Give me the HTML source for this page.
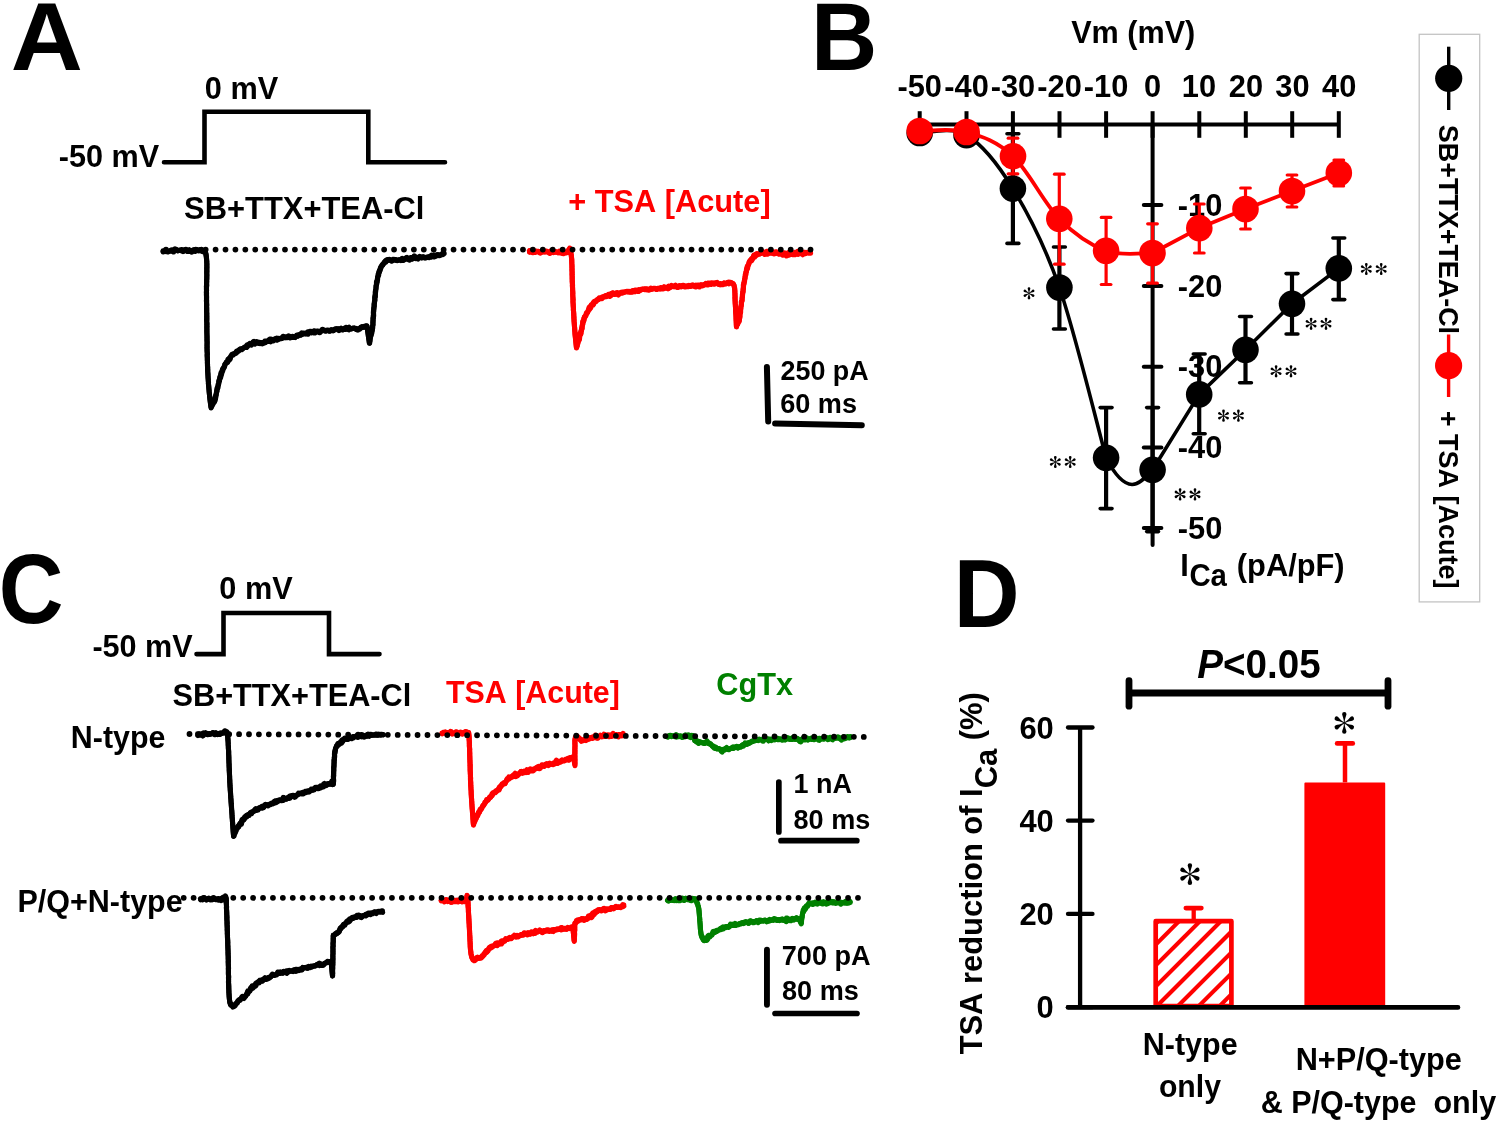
<!DOCTYPE html>
<html><head><meta charset="utf-8"><style>
html,body{margin:0;padding:0;background:#fff;}
svg{display:block;will-change:transform;}
text{font-family:"Liberation Sans",sans-serif;font-weight:bold;font-kerning:none;}
</style></head><body>
<svg width="1500" height="1122" viewBox="0 0 1500 1122">
<rect width="1500" height="1122" fill="#fff"/>
<text transform="translate(10.71,69.50) scale(99.866,97.095)" font-size="1" fill="#000">A</text>
<text transform="translate(204.79,99.30) scale(1,1.04)" font-size="30.70" fill="#000" xml:space="preserve">0 mV</text>
<text transform="translate(58.80,166.80) scale(1,1.04)" font-size="30.60" fill="#000" xml:space="preserve">-50 mV</text>
<path d="M164.00,162.30 L204.50,162.30 L204.50,111.70 L368.30,111.70 L368.30,162.30 L445.00,162.30" fill="none" stroke="#000" stroke-width="4.6" stroke-linecap="round" stroke-linejoin="miter"/>
<text transform="translate(184.11,219.00) scale(1,1.04)" font-size="30.90" fill="#000" xml:space="preserve">SB+TTX+TEA-Cl</text>
<text transform="translate(568.21,212.00) scale(1,1.04)" font-size="30.76" fill="#ff0000" xml:space="preserve">+ TSA [Acute]</text>
<path d="M162.99,250.93 L163.72,251.12 L164.40,250.87 L165.04,250.41 L165.72,250.22 L166.48,250.77 L167.26,251.47 L167.97,251.59 L168.66,251.49 L169.33,251.23 L170.00,251.01 L170.64,250.39 L171.30,249.98 L172.10,250.74 L172.88,251.21 L173.52,250.49 L174.11,249.24 L174.80,248.83 L175.55,249.39 L176.32,250.06 L177.07,250.50 L177.79,250.67 L178.49,250.56 L179.18,250.33 L179.93,250.56 L180.65,250.58 L181.39,250.68 L182.21,251.38 L182.96,251.57 L183.64,251.11 L184.26,250.26 L184.94,249.81 L185.69,250.06 L186.47,250.51 L187.23,250.88 L187.92,250.68 L188.55,250.06 L189.21,249.71 L189.97,250.29 L190.78,250.81 L191.48,250.46 L192.22,250.53 L192.94,250.39 L193.60,249.81 L194.40,250.48 L195.14,250.68 L195.74,249.66 L196.47,249.74 L197.23,250.13 L197.95,250.16 L198.70,250.53 L199.38,250.20 L200.06,249.90 L200.87,250.74 L201.66,251.36 L202.41,251.60 L203.14,251.65 L203.59,251.56 L204.02,251.09 L204.51,251.17 L205.04,252.03 L205.46,252.71 L205.52,252.50 L205.58,252.48 L205.68,252.85 L205.87,254.02 L205.98,254.59 L205.92,253.80 L205.98,254.08 L206.22,255.93 L206.40,257.27 L206.36,256.91 L206.21,255.62 L206.23,255.90 L206.41,257.53 L206.47,258.16 L206.52,258.78 L206.68,260.44 L206.76,261.42 L206.74,261.57 L206.75,262.03 L206.82,263.12 L206.89,264.19 L206.88,264.61 L206.86,264.98 L206.80,265.08 L206.76,265.41 L206.88,267.02 L206.94,268.24 L206.82,267.97 L206.69,267.59 L206.74,268.81 L206.79,270.03 L206.71,270.20 L206.76,271.48 L206.81,272.75 L206.78,273.40 L206.85,274.89 L206.84,275.73 L206.76,276.01 L206.77,276.99 L206.77,277.99 L206.77,278.90 L206.74,279.66 L206.65,279.86 L206.64,280.75 L206.69,282.19 L206.62,282.63 L206.57,283.21 L206.67,284.96 L206.68,286.08 L206.53,285.77 L206.43,285.92 L206.47,287.20 L206.49,288.34 L206.52,289.57 L206.54,290.64 L206.50,291.25 L206.48,291.98 L206.40,292.19 L206.39,292.97 L206.51,294.85 L206.58,296.26 L206.56,296.92 L206.52,297.31 L206.49,297.86 L206.51,298.72 L206.52,299.53 L206.52,300.14 L206.54,300.90 L206.57,301.66 L206.58,302.29 L206.62,303.15 L206.69,304.30 L206.73,305.24 L206.65,305.17 L206.56,304.99 L206.56,305.59 L206.63,306.74 L206.67,307.70 L206.65,308.15 L206.72,309.30 L206.70,309.79 L206.51,308.87 L206.52,309.54 L206.67,311.44 L206.73,312.58 L206.71,313.07 L206.71,313.68 L206.75,314.72 L206.75,315.33 L206.79,316.33 L206.89,317.90 L206.83,318.06 L206.73,317.86 L206.73,318.57 L206.75,319.42 L206.68,319.49 L206.59,319.44 L206.71,321.10 L206.82,322.70 L206.77,322.97 L206.81,324.02 L206.92,325.62 L206.98,326.78 L206.92,326.99 L206.78,326.54 L206.77,327.17 L206.86,328.58 L206.95,330.01 L206.89,330.26 L206.79,330.11 L206.84,331.22 L206.88,332.21 L206.87,332.85 L206.86,333.47 L206.94,334.83 L207.03,336.24 L207.00,336.64 L207.00,337.38 L207.04,338.39 L207.02,338.89 L207.05,339.79 L207.14,341.24 L207.13,341.80 L207.13,342.52 L207.17,343.50 L207.09,343.51 L207.07,343.99 L207.09,344.76 L207.10,345.55 L207.15,346.58 L207.16,347.32 L207.11,347.55 L207.00,347.20 L207.01,347.93 L207.11,349.39 L207.08,349.80 L207.03,349.92 L207.10,351.12 L207.26,353.07 L207.35,354.43 L207.32,354.72 L207.23,354.55 L207.19,354.77 L207.22,355.61 L207.35,357.25 L207.40,358.21 L207.36,358.41 L207.44,359.58 L207.46,360.28 L207.32,359.63 L207.29,359.90 L207.42,361.49 L207.44,362.08 L207.40,362.29 L207.47,363.32 L207.56,364.51 L207.57,365.02 L207.53,365.13 L207.62,366.31 L207.73,367.67 L207.71,367.87 L207.60,367.38 L207.59,367.66 L207.68,368.78 L207.70,369.31 L207.74,369.96 L207.79,370.75 L207.69,370.50 L207.61,370.32 L207.66,371.27 L207.76,372.57 L207.91,374.33 L207.98,375.36 L207.97,375.69 L208.05,376.79 L208.15,378.00 L208.22,378.94 L208.28,379.80 L208.31,380.44 L208.40,381.53 L208.52,382.85 L208.52,383.14 L208.48,383.06 L208.47,383.23 L208.42,383.06 L208.40,383.19 L208.52,384.44 L208.67,385.90 L208.71,386.47 L208.77,387.12 L208.86,388.06 L208.90,388.59 L208.95,389.19 L209.09,390.55 L209.22,391.79 L209.23,392.01 L209.28,392.55 L209.35,393.22 L209.30,393.01 L209.28,392.90 L209.40,394.04 L209.50,394.99 L209.49,395.05 L209.61,396.13 L209.83,398.02 L209.92,398.89 L209.98,399.36 L210.07,400.14 L210.10,400.35 L210.07,400.04 L210.12,400.41 L210.31,401.93 L210.49,403.32 L210.52,403.52 L210.54,403.64 L210.61,404.10 L210.70,404.80 L210.82,405.77 L210.94,406.70 L211.01,407.23 L211.31,406.23 L211.72,406.05 L212.06,405.27 L212.40,404.39 L212.85,404.58 L213.16,403.58 L213.39,401.94 L213.78,401.77 L214.19,401.86 L214.51,401.34 L214.76,401.21 L214.98,400.88 L215.14,400.07 L215.31,399.47 L215.50,399.05 L215.62,398.19 L215.64,396.47 L215.70,395.11 L215.96,395.43 L216.16,395.30 L216.18,393.74 L216.33,393.13 L216.49,392.66 L216.53,391.18 L216.76,391.22 L216.99,391.29 L217.04,389.75 L217.25,389.29 L217.50,389.10 L217.61,387.77 L217.78,386.95 L217.95,386.09 L218.06,384.69 L218.25,384.02 L218.51,383.88 L218.71,383.33 L218.86,382.25 L218.98,380.99 L219.13,379.98 L219.38,379.76 L219.65,379.72 L219.81,378.63 L219.92,377.15 L220.19,377.13 L220.57,377.91 L220.76,377.18 L220.76,374.88 L220.84,373.14 L221.14,373.28 L221.50,373.72 L221.75,373.31 L221.93,372.14 L222.13,371.02 L222.36,369.81 L222.63,368.71 L223.04,368.77 L223.40,368.21 L223.72,367.32 L224.18,367.61 L224.53,366.89 L224.72,364.81 L225.06,363.95 L225.50,364.03 L225.91,363.39 L226.25,362.23 L226.71,361.96 L227.27,362.58 L227.65,361.61 L227.90,359.44 L228.36,358.99 L229.00,359.84 L229.57,359.93 L230.06,359.35 L230.48,357.99 L230.90,356.55 L231.38,355.50 L231.85,354.35 L232.43,354.15 L233.09,354.61 L233.69,354.30 L234.24,353.51 L234.86,353.25 L235.52,353.32 L236.15,353.11 L236.76,352.72 L237.32,352.00 L237.92,351.46 L238.56,351.27 L239.13,350.47 L239.67,349.39 L240.29,349.00 L240.95,348.96 L241.60,348.78 L242.30,348.52 L243.00,348.27 L243.70,347.99 L244.36,347.31 L245.03,346.80 L245.82,347.28 L246.60,347.52 L247.26,346.74 L247.91,345.94 L248.57,345.27 L249.17,344.00 L249.84,343.31 L250.59,343.63 L251.32,343.91 L252.02,343.93 L252.62,342.85 L253.25,341.82 L254.20,342.84 L254.96,344.05 L255.52,343.30 L256.08,342.25 L256.81,342.53 L257.63,343.26 L258.38,343.37 L259.14,343.40 L259.92,343.67 L260.63,343.25 L261.31,342.66 L262.08,342.93 L262.86,343.34 L263.56,343.11 L264.18,342.20 L264.78,341.14 L265.51,341.14 L266.27,341.41 L266.99,341.28 L267.74,341.44 L268.47,341.46 L269.14,341.01 L269.88,341.06 L270.69,341.75 L271.36,341.22 L271.94,339.99 L272.70,340.29 L273.48,340.78 L274.12,340.04 L274.82,339.77 L275.54,339.75 L276.15,338.78 L276.79,338.10 L277.56,338.43 L278.35,338.99 L279.10,339.24 L279.79,338.95 L280.46,338.57 L281.18,338.64 L281.89,338.53 L282.56,338.15 L283.24,337.84 L283.96,337.83 L284.66,337.72 L285.29,337.09 L285.98,336.96 L286.68,336.96 L287.32,336.55 L287.96,336.21 L288.71,335.90 L289.54,336.47 L290.39,337.45 L291.13,337.54 L291.81,337.07 L292.48,336.38 L293.27,336.46 L294.22,337.42 L295.13,337.59 L295.62,336.88 L296.12,336.01 L296.64,335.25 L297.25,335.10 L298.00,335.95 L298.65,335.79 L299.18,334.59 L299.89,334.81 L300.60,334.83 L301.15,333.48 L301.78,332.79 L302.55,333.09 L303.29,333.12 L304.02,333.00 L304.82,333.43 L305.62,333.85 L306.39,333.94 L307.17,334.12 L307.95,334.30 L308.61,333.49 L309.20,332.10 L309.89,331.57 L310.54,331.37 L311.22,331.37 L311.97,331.83 L312.71,332.19 L313.37,331.82 L313.95,330.82 L314.65,330.69 L315.44,331.33 L316.18,331.47 L316.89,331.35 L317.60,331.20 L318.33,331.23 L319.12,331.68 L319.86,331.71 L320.53,331.16 L321.22,330.79 L321.88,330.15 L322.52,329.31 L323.32,329.79 L324.12,330.35 L324.84,330.20 L325.63,330.64 L326.37,330.60 L327.03,329.99 L327.77,330.11 L328.55,330.53 L329.33,330.91 L330.05,330.95 L330.70,330.34 L331.37,329.82 L332.12,329.92 L332.91,330.29 L333.69,330.54 L334.39,330.14 L335.04,329.19 L335.74,328.74 L336.52,328.91 L337.26,328.77 L338.01,328.64 L338.79,328.89 L339.56,329.02 L340.34,329.27 L341.09,329.31 L341.87,329.57 L342.65,330.00 L343.33,329.60 L344.01,329.30 L344.73,329.35 L345.33,328.59 L345.87,327.31 L346.56,327.45 L347.34,328.48 L348.10,329.37 L348.78,329.82 L349.35,329.41 L349.92,329.20 L350.74,329.20 L351.51,329.03 L352.25,328.68 L352.98,328.40 L353.69,328.19 L354.41,328.17 L355.15,328.42 L355.82,328.22 L356.56,328.86 L357.31,329.60 L357.86,328.89 L358.46,328.65 L359.10,328.96 L359.61,328.31 L360.38,327.57 L361.20,327.64 L361.99,327.71 L362.65,327.01 L363.30,326.53 L364.04,327.18 L364.67,327.20 L365.45,326.38 L366.20,326.10 L367.03,326.53 L367.16,327.46 L367.22,327.88 L367.31,328.43 L367.37,328.81 L367.46,329.46 L367.67,331.05 L367.81,332.10 L367.82,332.04 L367.88,332.41 L368.03,333.50 L368.13,334.24 L368.27,335.23 L368.45,336.58 L368.51,336.94 L368.58,337.39 L368.73,338.55 L368.80,338.98 L368.83,339.08 L368.88,339.37 L368.92,339.53 L369.04,340.43 L369.31,342.49 L369.41,343.21 L369.32,342.29 L369.35,340.68 L369.57,340.60 L369.85,340.95 L370.00,340.23 L370.12,339.23 L370.28,338.55 L370.41,337.62 L370.54,336.75 L370.69,336.00 L370.83,335.18 L371.04,334.93 L371.26,334.85 L371.41,334.14 L371.49,332.91 L371.60,331.92 L371.76,331.42 L371.96,331.19 L372.17,331.19 L372.28,330.33 L372.30,328.78 L372.34,327.52 L372.39,326.55 L372.47,325.83 L372.60,325.57 L372.74,325.45 L372.85,325.05 L372.97,324.85 L373.04,324.21 L372.98,322.55 L373.08,322.21 L373.18,321.92 L373.06,319.75 L373.06,318.66 L373.19,318.66 L373.26,318.17 L373.29,317.38 L373.32,316.52 L373.37,315.85 L373.43,315.31 L373.42,314.15 L373.34,312.43 L373.39,311.77 L373.49,311.53 L373.49,310.50 L373.56,309.97 L373.68,309.84 L373.74,309.26 L373.85,308.98 L373.95,308.52 L373.99,307.63 L374.04,306.71 L374.03,305.34 L374.04,304.11 L374.17,303.92 L374.29,303.58 L374.32,302.58 L374.42,302.07 L374.50,301.51 L374.55,300.57 L374.70,300.60 L374.83,300.33 L374.81,298.85 L374.84,297.80 L374.97,297.62 L375.11,297.46 L375.17,296.74 L375.20,295.62 L375.21,294.42 L375.28,293.70 L375.33,292.63 L375.41,291.78 L375.63,292.15 L375.70,291.25 L375.67,289.58 L375.81,289.23 L375.94,288.85 L376.03,288.17 L376.08,287.04 L376.09,285.62 L376.26,285.57 L376.44,285.58 L376.45,284.08 L376.45,282.48 L376.52,281.52 L376.69,281.25 L376.96,281.78 L377.19,281.89 L377.27,280.80 L377.42,280.19 L377.59,279.77 L377.60,278.07 L377.68,276.88 L377.91,276.82 L378.05,276.06 L378.10,274.51 L378.25,273.74 L378.51,273.84 L378.68,273.16 L378.83,271.86 L379.05,271.23 L379.31,270.90 L379.57,270.50 L379.80,269.77 L380.02,268.88 L380.31,268.46 L380.68,268.61 L380.99,268.06 L381.25,266.91 L381.62,265.95 L382.00,264.92 L382.46,264.43 L383.02,264.57 L383.52,264.02 L383.96,262.70 L384.49,261.92 L385.06,261.28 L385.64,260.53 L386.34,260.49 L387.09,260.66 L387.83,260.54 L388.51,259.71 L389.25,259.34 L390.15,260.22 L391.00,260.60 L391.67,260.55 L392.37,260.74 L393.01,260.36 L393.68,260.12 L394.38,260.04 L395.02,259.42 L395.76,259.50 L396.59,260.31 L397.36,260.65 L398.08,260.40 L398.79,260.04 L399.44,259.83 L400.20,260.38 L400.93,260.64 L401.61,260.46 L402.33,260.55 L402.96,259.80 L403.62,259.26 L404.39,259.64 L405.09,259.41 L405.65,258.04 L406.32,257.58 L407.19,258.77 L407.99,259.47 L408.75,259.89 L409.50,260.19 L410.11,259.33 L410.75,258.79 L411.48,258.94 L412.21,259.10 L412.88,258.78 L413.46,257.70 L414.02,256.47 L414.68,256.12 L415.53,257.22 L416.33,258.04 L417.12,258.71 L417.87,259.09 L418.46,258.12 L419.07,257.28 L419.73,256.95 L420.41,256.73 L421.15,257.09 L421.92,257.67 L422.63,257.68 L423.30,257.46 L424.03,257.62 L424.78,258.03 L425.46,257.90 L426.13,257.62 L426.84,257.62 L427.48,257.06 L428.17,256.92 L428.98,257.72 L429.67,257.39 L430.34,256.77 L431.13,257.17 L431.81,256.66 L432.50,256.13 L433.32,256.84 L434.08,257.01 L434.76,256.61 L435.42,256.12 L436.01,255.20 L436.65,254.87 L437.39,255.46 L438.02,255.40 L438.82,254.96 L439.62,254.96 L440.40,254.96 L441.13,254.74 L441.81,254.23 L442.45,253.36 L443.10,252.58 L443.89,252.76" fill="none" stroke="#000" stroke-width="5.1" stroke-linecap="round" stroke-linejoin="round"/>
<path d="M163.11,251.93 L163.80,251.79 L164.42,251.07 L165.13,251.17 L165.88,251.62 L166.54,251.30 L167.27,251.58 L168.01,251.91 L168.67,251.56 L169.32,251.19 L169.96,250.68 L170.65,250.54 L171.38,250.66 L172.13,250.94 L172.96,251.87 L173.70,251.98 L174.28,250.65 L174.96,250.14 L175.66,250.31 L176.33,250.17 L177.08,250.61 L177.81,250.84 L178.50,250.61 L179.17,250.25 L179.86,249.96 L180.59,250.02 L181.27,249.63 L181.98,249.50 L182.75,249.86 L183.54,250.33 L184.33,250.86 L185.04,250.65 L185.74,250.44 L186.54,251.11 L187.31,251.51 L187.96,251.03 L188.67,251.04 L189.41,251.36 L190.02,250.64 L190.75,250.55 L191.68,252.12 L192.38,251.85 L192.89,250.00 L193.62,250.05 L194.46,250.98 L195.22,251.33 L195.91,251.06 L196.53,250.24 L197.20,249.87 L197.99,250.55 L198.74,250.80 L199.34,249.90 L200.02,249.63 L200.74,249.67 L201.42,249.36 L202.18,249.70 L202.98,250.31 L203.51,250.86 L203.99,250.78 L204.47,250.89 L205.00,251.74 L205.46,252.68 L205.56,252.89 L205.71,253.59 L205.89,254.62 L206.06,255.55 L206.11,255.63 L206.05,254.89 L206.00,254.24 L206.09,254.84 L206.30,256.41 L206.35,256.83 L206.39,257.13 L206.44,257.61 L206.44,257.75 L206.53,258.65 L206.54,258.94 L206.51,258.98 L206.65,260.49 L206.71,261.33 L206.65,261.26 L206.73,262.36 L206.81,263.49 L206.83,264.13 L206.87,265.10 L206.89,265.84 L206.86,266.25 L206.85,266.79 L206.84,267.43 L206.83,268.02 L206.79,268.43 L206.84,269.66 L206.94,271.28 L206.89,271.69 L206.77,271.52 L206.69,271.71 L206.70,272.71 L206.79,274.36 L206.84,275.71 L206.82,276.48 L206.78,277.07 L206.77,278.00 L206.77,278.97 L206.68,279.19 L206.65,279.86 L206.69,281.23 L206.66,281.93 L206.58,282.28 L206.55,282.96 L206.57,284.15 L206.61,285.50 L206.56,286.02 L206.48,286.39 L206.52,287.64 L206.50,288.48 L206.47,289.10 L206.50,290.31 L206.48,291.04 L206.47,291.87 L206.55,293.46 L206.55,294.34 L206.47,294.51 L206.43,295.04 L206.49,296.32 L206.57,297.74 L206.55,298.34 L206.52,298.78 L206.51,299.42 L206.61,300.88 L206.60,301.38 L206.41,300.37 L206.44,301.12 L206.56,302.70 L206.55,303.13 L206.59,304.09 L206.70,305.58 L206.61,305.42 L206.52,305.26 L206.56,306.14 L206.57,306.89 L206.63,307.98 L206.65,308.71 L206.68,309.65 L206.75,310.85 L206.67,310.82 L206.53,310.31 L206.57,311.24 L206.74,313.34 L206.77,314.18 L206.71,314.40 L206.77,315.52 L206.81,316.56 L206.72,316.48 L206.61,316.20 L206.69,317.55 L206.84,319.45 L206.88,320.48 L206.78,320.35 L206.66,320.03 L206.74,321.40 L206.93,323.62 L206.97,324.64 L206.83,324.20 L206.78,324.44 L206.86,325.81 L206.89,326.78 L206.89,327.48 L206.90,328.22 L206.87,328.65 L206.86,329.24 L206.87,330.05 L206.87,330.74 L206.81,330.98 L206.82,331.75 L206.95,333.53 L206.97,334.36 L206.92,334.64 L206.98,335.81 L207.00,336.67 L206.93,336.80 L206.96,337.68 L207.04,339.03 L207.04,339.72 L206.93,339.51 L206.91,339.97 L207.05,341.83 L207.10,342.91 L207.05,343.15 L207.05,343.80 L207.06,344.57 L207.03,344.91 L206.98,345.21 L207.00,345.97 L207.03,346.86 L207.03,347.46 L207.06,348.38 L207.11,349.40 L207.12,350.08 L207.14,350.88 L207.15,351.59 L207.24,352.86 L207.32,354.18 L207.26,354.25 L207.20,354.32 L207.24,355.21 L207.22,355.64 L207.16,355.62 L207.21,356.61 L207.29,357.83 L207.31,358.51 L207.36,359.47 L207.44,360.64 L207.49,361.52 L207.50,362.15 L207.47,362.40 L207.43,362.53 L207.43,362.99 L207.44,363.52 L207.45,364.07 L207.43,364.31 L207.40,364.46 L207.47,365.47 L207.52,366.34 L207.52,366.73 L207.59,367.70 L207.66,368.62 L207.73,369.56 L207.72,369.85 L207.59,369.08 L207.58,369.56 L207.69,370.97 L207.92,373.39 L207.99,374.51 L207.84,373.70 L207.90,374.65 L208.03,376.18 L208.06,376.87 L208.05,377.13 L208.04,377.45 L208.18,379.02 L208.29,380.27 L208.28,380.52 L208.32,381.16 L208.40,382.08 L208.44,382.71 L208.48,383.30 L208.45,383.31 L208.43,383.45 L208.58,384.94 L208.74,386.50 L208.79,387.09 L208.78,387.24 L208.86,388.08 L208.97,389.19 L209.05,390.05 L209.19,391.37 L209.24,391.91 L209.10,390.87 L209.08,390.90 L209.31,392.94 L209.49,394.52 L209.52,394.95 L209.51,394.93 L209.46,394.69 L209.54,395.51 L209.67,396.67 L209.66,396.66 L209.66,396.65 L209.88,398.56 L210.21,401.27 L210.29,401.92 L210.19,401.02 L210.22,401.24 L210.34,402.18 L210.47,403.15 L210.62,404.32 L210.65,404.53 L210.71,404.93 L210.86,406.14 L210.93,406.68 L211.01,407.24 L211.10,407.97 L211.44,407.25 L211.79,406.60 L212.06,405.26 L212.30,403.62 L212.63,402.73 L213.05,402.64 L213.48,402.71 L213.88,402.58 L214.23,402.24 L214.54,401.65 L214.70,400.70 L214.81,399.47 L214.92,398.22 L215.05,397.33 L215.31,397.50 L215.56,397.70 L215.71,397.01 L215.80,395.92 L215.94,395.28 L216.11,394.89 L216.23,394.14 L216.37,393.51 L216.50,392.79 L216.64,392.12 L216.78,391.40 L216.84,390.02 L216.93,388.82 L217.09,387.89 L217.33,387.67 L217.67,388.28 L217.89,387.82 L217.98,386.34 L218.17,385.60 L218.40,385.26 L218.60,384.62 L218.72,383.34 L218.78,381.55 L218.96,380.81 L219.28,381.16 L219.52,380.93 L219.63,379.52 L219.74,378.02 L219.92,377.21 L220.11,376.40 L220.35,376.12 L220.62,376.06 L220.78,375.00 L221.02,374.65 L221.36,375.04 L221.55,374.16 L221.65,372.48 L221.83,371.33 L222.16,371.30 L222.54,371.25 L222.84,370.49 L223.14,369.54 L223.43,368.49 L223.74,367.51 L224.08,366.73 L224.48,366.45 L224.83,365.70 L225.08,364.18 L225.46,363.64 L225.90,363.28 L226.27,362.33 L226.70,361.91 L227.24,362.29 L227.73,362.27 L228.10,361.16 L228.42,359.51 L228.87,358.77 L229.46,359.08 L229.95,358.41 L230.36,356.98 L230.85,356.09 L231.39,355.55 L231.93,355.08 L232.54,355.04 L233.13,354.98 L233.71,354.46 L234.27,353.73 L234.88,353.39 L235.53,353.37 L236.03,352.14 L236.55,350.98 L237.20,350.99 L237.82,350.61 L238.42,350.05 L239.08,350.06 L239.71,349.74 L240.28,348.96 L240.97,349.16 L241.71,349.73 L242.38,349.19 L243.01,348.32 L243.70,347.92 L244.40,347.64 L245.12,347.55 L245.84,347.46 L246.44,346.20 L247.04,344.91 L247.78,344.88 L248.54,345.03 L249.28,344.88 L249.99,344.48 L250.74,344.88 L251.47,345.15 L252.01,343.79 L252.59,342.67 L253.29,342.10 L254.03,341.48 L254.71,341.99 L255.48,342.96 L256.11,342.56 L256.70,341.57 L257.46,341.89 L258.29,342.62 L259.02,342.40 L259.76,342.29 L260.59,342.92 L261.43,343.68 L262.20,343.88 L262.84,343.14 L263.46,342.25 L264.19,342.30 L265.00,342.93 L265.67,342.51 L266.28,341.48 L266.98,341.19 L267.69,341.06 L268.36,340.56 L269.00,339.78 L269.66,339.22 L270.36,338.98 L271.12,339.24 L271.95,340.14 L272.65,339.88 L273.31,339.29 L274.11,339.95 L274.78,339.47 L275.41,338.67 L276.24,339.54 L277.05,340.21 L277.70,339.57 L278.29,338.46 L279.00,338.38 L279.75,338.63 L280.44,338.38 L281.16,338.46 L281.84,338.16 L282.43,337.00 L283.06,336.34 L283.80,336.50 L284.56,336.85 L285.32,337.26 L286.07,337.70 L286.78,337.79 L287.42,337.38 L288.04,336.91 L288.86,337.15 L289.70,337.85 L290.44,337.87 L291.10,337.27 L291.83,337.28 L292.61,337.51 L293.34,337.08 L294.19,337.17 L295.09,337.24 L295.61,336.78 L296.15,336.32 L296.73,335.99 L297.39,336.24 L297.97,335.72 L298.54,334.95 L299.24,335.08 L299.94,335.24 L300.65,335.26 L301.29,334.71 L301.97,334.37 L302.70,334.37 L303.41,334.11 L304.12,333.83 L304.85,333.68 L305.61,333.74 L306.34,333.58 L306.97,332.50 L307.65,331.83 L308.51,332.69 L309.24,332.49 L309.89,331.55 L310.63,332.07 L311.40,332.85 L312.06,332.59 L312.71,332.20 L313.45,332.49 L314.20,332.89 L314.93,333.05 L315.58,332.50 L316.23,331.90 L316.88,331.28 L317.59,331.12 L318.42,332.01 L319.23,332.63 L319.97,332.68 L320.63,332.03 L321.21,330.70 L321.86,329.93 L322.62,330.13 L323.38,330.30 L324.15,330.54 L324.96,331.14 L325.70,331.17 L326.39,330.83 L327.12,330.76 L327.85,330.74 L328.60,330.93 L329.37,331.31 L330.07,331.05 L330.65,329.89 L331.36,329.71 L332.21,330.66 L332.99,330.92 L333.65,330.26 L334.29,329.29 L335.04,329.26 L335.81,329.31 L336.50,328.76 L337.30,329.11 L338.17,330.05 L339.00,330.62 L339.71,330.23 L340.28,328.78 L340.97,328.24 L341.82,329.17 L342.61,329.64 L343.24,328.84 L343.89,328.30 L344.68,328.96 L345.43,329.40 L346.06,328.91 L346.67,328.42 L347.36,328.64 L348.02,328.70 L348.53,327.68 L349.08,327.16 L349.78,328.01 L350.66,328.53 L351.46,328.55 L352.23,328.51 L352.94,328.11 L353.67,327.96 L354.43,328.27 L355.22,329.02 L355.95,329.35 L356.62,329.28 L357.35,329.91 L358.00,330.04 L358.55,329.40 L359.15,329.34 L359.73,329.29 L360.46,328.29 L361.14,327.15 L361.86,326.63 L362.65,327.01 L363.39,327.29 L363.99,326.74 L364.54,326.12 L365.39,325.89 L366.15,325.72 L366.95,325.85 L367.11,327.07 L367.17,327.45 L367.19,327.46 L367.29,328.14 L367.45,329.35 L367.66,331.01 L367.75,331.61 L367.78,331.67 L367.95,332.94 L368.07,333.84 L368.04,333.47 L368.06,333.47 L368.18,334.35 L368.34,335.58 L368.49,336.65 L368.52,336.77 L368.56,336.98 L368.70,337.97 L368.84,338.99 L368.97,339.96 L369.03,340.31 L369.09,340.66 L369.20,341.49 L369.38,342.82 L369.64,343.09 L369.81,342.57 L369.92,341.53 L369.99,340.09 L370.04,338.57 L370.20,337.91 L370.38,337.36 L370.55,336.83 L370.75,336.49 L370.87,335.52 L370.97,334.40 L371.07,333.24 L371.23,332.61 L371.54,333.28 L371.78,333.38 L371.82,331.91 L371.78,329.75 L371.85,328.54 L372.14,329.20 L372.39,329.56 L372.49,328.75 L372.61,328.32 L372.73,328.02 L372.75,326.85 L372.76,325.60 L372.86,325.20 L372.88,324.11 L372.81,322.35 L372.83,321.32 L372.90,320.70 L373.02,320.60 L373.10,320.15 L373.03,318.42 L373.06,317.60 L373.26,318.18 L373.39,318.15 L373.37,316.99 L373.34,315.67 L373.48,315.75 L373.66,316.22 L373.66,315.12 L373.57,313.29 L373.55,312.11 L373.63,311.62 L373.74,311.44 L373.80,310.83 L373.74,309.23 L373.74,308.08 L373.85,307.76 L373.95,307.23 L374.03,306.67 L374.16,306.41 L374.29,306.20 L374.32,305.15 L374.29,303.65 L374.41,303.33 L374.52,302.99 L374.52,301.67 L374.61,301.09 L374.76,301.09 L374.84,300.45 L374.81,298.87 L374.74,296.99 L374.81,296.25 L374.99,296.46 L375.19,296.87 L375.30,296.50 L375.29,295.10 L375.37,294.50 L375.42,293.41 L375.36,291.43 L375.46,290.73 L375.62,290.57 L375.70,289.82 L375.81,289.25 L375.91,288.59 L375.97,287.67 L376.07,286.99 L376.13,286.03 L376.23,285.36 L376.37,284.96 L376.46,284.18 L376.63,284.01 L376.80,283.85 L376.85,282.61 L376.94,281.60 L377.08,281.01 L377.22,280.33 L377.33,279.46 L377.42,278.38 L377.57,277.78 L377.69,276.91 L377.86,276.47 L378.09,276.42 L378.25,275.74 L378.46,275.50 L378.67,275.18 L378.79,274.01 L378.93,272.76 L379.22,272.64 L379.47,272.23 L379.60,270.73 L379.86,270.31 L380.20,270.42 L380.38,269.05 L380.53,267.38 L380.83,266.77 L381.22,266.66 L381.64,266.15 L382.10,265.75 L382.57,265.30 L382.97,264.14 L383.48,263.66 L384.02,263.17 L384.51,262.15 L385.20,262.40 L385.84,262.21 L386.34,260.53 L386.97,259.67 L387.70,259.45 L388.49,259.60 L389.32,259.96 L390.12,259.92 L391.02,260.76 L391.72,261.02 L392.27,259.90 L392.89,259.29 L393.61,259.47 L394.39,260.07 L395.10,260.08 L395.81,259.98 L396.59,260.38 L397.34,260.45 L398.05,260.14 L398.77,259.86 L399.44,259.76 L400.09,259.52 L400.76,259.24 L401.42,258.91 L402.08,258.44 L402.89,259.23 L403.74,260.32 L404.37,259.48 L404.98,258.54 L405.71,258.55 L406.37,257.99 L407.02,257.42 L407.82,258.04 L408.64,258.91 L409.35,258.90 L409.97,258.22 L410.60,257.51 L411.34,257.78 L412.16,258.69 L412.83,258.35 L413.37,256.99 L413.98,256.16 L414.82,257.24 L415.68,258.50 L416.30,257.79 L416.96,257.41 L417.71,257.70 L418.39,257.49 L419.03,256.98 L419.67,256.40 L420.44,257.01 L421.25,257.92 L421.94,257.76 L422.58,257.26 L423.21,256.69 L423.94,256.91 L424.75,257.79 L425.45,257.74 L426.09,257.21 L426.82,257.46 L427.52,257.45 L428.18,257.03 L428.89,256.92 L429.56,256.42 L430.27,256.19 L430.96,255.77 L431.62,255.07 L432.40,255.37 L433.14,255.31 L433.83,254.94 L434.63,255.55 L435.40,256.00 L436.10,255.99 L436.76,255.76 L437.30,254.69 L437.93,254.59 L438.89,255.61 L439.71,255.73 L440.41,255.03 L441.10,254.47 L441.85,254.55 L442.60,254.62 L443.31,254.32 L444.02,253.90" fill="none" stroke="#000" stroke-width="5.1" stroke-linecap="round" stroke-linejoin="round"/>
<path d="M529.60,252.32 L530.16,251.24 L530.75,250.46 L531.48,250.85 L532.25,251.67 L532.89,251.31 L533.49,250.69 L534.18,250.83 L534.87,250.94 L535.56,250.93 L536.28,251.19 L537.00,251.32 L537.69,251.19 L538.43,251.29 L539.20,251.61 L539.97,251.79 L540.66,252.02 L541.37,252.28 L541.99,251.68 L542.58,250.77 L543.32,250.91 L544.14,251.64 L544.89,251.78 L545.55,251.15 L546.29,251.08 L547.10,251.53 L547.90,251.98 L548.68,252.29 L549.42,252.25 L550.13,251.95 L550.73,250.90 L551.45,250.88 L552.33,252.23 L553.08,252.66 L553.73,252.38 L554.39,252.31 L555.00,251.97 L555.76,251.78 L556.58,252.18 L557.39,252.50 L558.19,252.81 L558.89,252.31 L559.50,251.26 L560.31,251.87 L561.18,253.16 L561.87,253.15 L562.52,252.90 L563.19,253.01 L563.80,252.75 L564.39,252.58 L564.99,252.75 L565.72,253.01 L566.36,252.95 L566.91,252.52 L567.49,252.55 L568.02,252.38 L568.46,251.51 L568.85,250.25 L569.24,248.96 L569.71,248.07 L569.83,248.48 L569.98,248.95 L570.15,249.66 L570.39,250.82 L570.65,252.29 L570.79,252.73 L570.80,252.22 L570.88,252.44 L571.09,253.80 L571.23,254.86 L571.24,254.88 L571.23,254.89 L571.30,255.60 L571.48,257.24 L571.67,258.99 L571.78,260.16 L571.73,260.05 L571.73,260.35 L571.82,261.50 L571.82,261.90 L571.79,262.10 L571.78,262.46 L571.84,263.48 L571.98,265.16 L572.07,266.40 L572.05,266.84 L571.97,266.76 L571.92,266.91 L571.95,267.79 L571.98,268.68 L571.97,269.20 L572.05,270.56 L572.18,272.25 L572.16,272.71 L572.10,272.85 L572.11,273.60 L572.07,273.93 L572.01,274.04 L572.07,275.17 L572.25,277.28 L572.31,278.38 L572.19,277.99 L572.14,278.14 L572.28,279.85 L572.46,281.85 L572.43,282.09 L572.27,281.20 L572.20,281.10 L572.32,282.60 L572.53,284.83 L572.59,285.84 L572.48,285.44 L572.41,285.38 L572.39,285.70 L572.42,286.47 L572.52,287.79 L572.58,288.77 L572.59,289.35 L572.52,289.25 L572.53,289.87 L572.64,291.27 L572.70,292.25 L572.76,293.31 L572.75,293.70 L572.73,294.04 L572.84,295.47 L572.85,296.04 L572.83,296.33 L572.97,297.97 L573.04,299.05 L572.96,298.82 L572.86,298.48 L572.89,299.20 L573.03,300.82 L573.08,301.72 L573.01,301.58 L572.96,301.60 L572.99,302.33 L573.12,303.87 L573.19,304.84 L573.14,304.89 L573.22,305.95 L573.40,307.87 L573.52,309.23 L573.50,309.47 L573.41,309.17 L573.37,309.22 L573.40,309.93 L573.50,311.10 L573.59,312.31 L573.70,313.63 L573.81,314.89 L573.77,314.97 L573.76,315.30 L573.91,316.95 L573.98,317.85 L573.92,317.74 L573.84,317.48 L573.81,317.59 L573.94,319.01 L574.08,320.57 L574.06,320.74 L574.07,321.13 L574.20,322.56 L574.31,323.82 L574.38,324.76 L574.47,325.80 L574.50,326.31 L574.48,326.48 L574.51,327.01 L574.54,327.58 L574.62,328.49 L574.69,329.36 L574.75,330.11 L574.82,330.90 L574.87,331.51 L574.95,332.43 L575.00,333.02 L574.99,333.16 L574.98,333.29 L575.02,333.83 L575.10,334.74 L575.21,335.76 L575.40,337.50 L575.60,339.27 L575.62,339.55 L575.57,339.23 L575.54,339.10 L575.59,339.53 L575.71,340.61 L575.79,341.34 L575.88,342.21 L576.02,343.41 L576.09,344.07 L576.09,344.12 L576.06,344.02 L576.19,345.13 L576.35,346.60 L576.44,347.45 L576.68,346.86 L576.89,346.07 L577.03,344.65 L577.16,343.12 L577.35,342.05 L577.60,341.60 L577.96,342.00 L578.25,341.81 L578.41,340.57 L578.58,339.46 L578.87,339.38 L579.25,340.05 L579.47,339.45 L579.60,338.10 L579.72,336.88 L579.74,334.90 L579.84,333.64 L580.08,333.55 L580.28,333.13 L580.48,332.72 L580.79,333.31 L581.04,333.37 L581.07,331.64 L581.16,330.39 L581.35,329.94 L581.53,329.42 L581.78,329.42 L581.93,328.65 L581.98,326.95 L582.15,326.04 L582.38,325.63 L582.53,324.60 L582.60,322.94 L582.69,321.40 L582.93,321.09 L583.28,321.68 L583.54,321.53 L583.64,320.00 L583.75,318.49 L584.01,318.13 L584.25,317.63 L584.45,316.66 L584.82,316.45 L585.26,316.71 L585.61,316.22 L585.92,315.34 L586.25,314.51 L586.57,313.57 L586.94,312.96 L587.35,312.59 L587.74,312.00 L588.05,311.13 L588.36,310.24 L588.68,309.40 L589.09,309.22 L589.56,309.49 L589.90,308.62 L590.27,307.93 L590.75,308.03 L591.05,306.62 L591.32,304.77 L591.82,304.68 L592.44,305.13 L593.02,305.08 L593.55,304.44 L593.99,303.00 L594.43,301.44 L595.01,300.98 L595.70,301.36 L596.30,300.98 L596.84,299.97 L597.40,299.51 L598.03,299.42 L598.67,299.36 L599.29,299.09 L599.84,298.20 L600.45,297.83 L601.22,298.67 L601.89,298.74 L602.46,297.88 L603.08,297.56 L603.76,297.27 L604.41,296.85 L605.03,296.14 L605.66,295.47 L606.40,295.68 L607.10,295.48 L607.78,295.08 L608.63,295.92 L609.46,296.49 L610.14,296.26 L610.81,295.80 L611.42,294.76 L612.02,293.66 L612.71,293.09 L613.47,293.09 L614.27,293.44 L615.09,293.75 L615.81,293.28 L616.58,293.11 L617.56,294.64 L618.32,295.08 L618.89,293.89 L619.56,293.48 L620.27,293.40 L620.95,292.98 L621.63,292.56 L622.33,292.17 L623.05,291.96 L623.82,292.14 L624.60,292.28 L625.32,291.97 L626.04,291.55 L626.81,291.61 L627.62,291.90 L628.30,291.66 L628.96,291.21 L629.73,291.63 L630.51,292.15 L631.19,291.74 L631.83,290.98 L632.53,290.63 L633.30,290.91 L634.13,291.65 L634.90,291.82 L635.53,290.88 L636.21,290.34 L636.99,290.63 L637.71,290.43 L638.37,289.73 L639.09,289.60 L639.89,290.13 L640.63,290.12 L641.27,289.27 L642.02,289.17 L642.81,289.48 L643.54,289.22 L644.33,289.45 L645.13,289.73 L645.82,289.19 L646.52,288.73 L647.28,288.84 L648.05,289.05 L648.77,288.93 L649.49,288.92 L650.18,288.82 L650.80,288.16 L651.48,288.21 L652.23,288.92 L653.00,289.00 L653.69,288.66 L654.35,288.51 L655.02,288.54 L655.75,289.20 L656.44,289.49 L657.02,288.78 L657.65,288.25 L658.37,288.20 L659.24,288.88 L660.11,289.14 L660.57,288.19 L661.08,287.59 L661.78,288.25 L662.50,289.00 L663.15,289.02 L663.70,288.05 L664.23,286.75 L664.98,287.15 L665.77,287.80 L666.46,287.48 L667.28,288.16 L668.11,288.82 L668.82,288.42 L669.51,287.81 L670.15,286.77 L670.85,286.09 L671.65,286.34 L672.46,286.55 L673.26,286.72 L674.05,286.86 L674.80,286.61 L675.57,286.55 L676.34,286.57 L677.13,286.84 L677.94,287.29 L678.64,286.87 L679.29,286.16 L679.97,285.74 L680.71,285.93 L681.51,286.55 L682.19,286.08 L682.83,285.20 L683.57,285.26 L684.36,285.56 L685.15,285.94 L685.92,286.09 L686.62,285.74 L687.40,285.96 L688.14,285.88 L688.83,285.42 L689.61,285.72 L690.41,286.16 L691.15,286.21 L691.87,286.08 L692.55,285.71 L693.19,285.01 L693.94,285.31 L694.80,286.57 L695.54,286.94 L696.15,286.26 L696.81,286.09 L697.46,285.96 L698.00,284.99 L698.67,285.19 L699.43,286.30 L700.03,286.16 L700.71,284.87 L701.49,284.71 L702.40,285.79 L703.12,285.51 L703.75,284.63 L704.51,284.89 L705.17,284.43 L705.77,283.54 L706.56,284.30 L707.24,284.14 L707.81,283.08 L708.50,283.00 L709.22,283.04 L710.01,283.63 L710.84,284.45 L711.55,284.44 L712.16,283.53 L712.87,283.38 L713.63,283.70 L714.28,283.09 L714.97,282.76 L715.74,283.09 L716.47,283.16 L717.20,283.21 L718.01,283.90 L718.78,284.32 L719.53,284.60 L720.28,284.88 L720.97,284.71 L721.66,284.57 L722.33,284.37 L722.99,283.82 L723.65,283.25 L724.40,283.54 L725.14,283.78 L725.80,283.41 L726.49,283.26 L727.19,283.19 L727.81,282.57 L728.45,282.02 L729.19,282.42 L729.94,282.81 L730.62,282.61 L731.31,282.50 L732.08,283.05 L732.77,284.03 L733.35,284.14 L733.90,285.03 L734.15,286.25 L734.32,286.96 L734.43,287.37 L734.50,287.60 L734.51,287.48 L734.59,288.13 L734.70,289.06 L734.70,289.30 L734.74,289.93 L734.83,291.07 L734.87,291.80 L734.90,292.58 L734.95,293.59 L734.97,294.38 L735.02,295.49 L735.08,296.67 L735.09,297.41 L735.04,297.67 L734.93,297.47 L734.91,297.90 L735.01,299.38 L735.17,301.29 L735.23,302.22 L735.18,302.22 L735.19,302.64 L735.21,303.11 L735.24,303.64 L735.34,304.86 L735.44,306.05 L735.51,307.00 L735.53,307.48 L735.52,307.76 L735.61,308.90 L735.68,309.89 L735.68,310.24 L735.68,310.65 L735.64,310.75 L735.64,311.07 L735.69,311.95 L735.85,313.69 L736.00,315.35 L736.00,315.77 L736.02,316.34 L736.03,316.88 L736.04,317.39 L736.06,317.96 L736.07,318.43 L736.15,319.52 L736.14,319.89 L736.10,320.00 L736.22,321.36 L736.32,322.61 L736.38,323.57 L736.42,324.33 L736.39,324.51 L736.43,325.25 L736.46,325.89 L736.47,326.34 L736.50,327.01 L736.68,325.51 L736.94,324.71 L737.30,324.67 L737.58,323.92 L737.82,322.95 L738.09,322.19 L738.39,321.70 L738.67,321.22 L738.91,320.44 L739.12,319.57 L739.32,319.36 L739.48,318.99 L739.60,318.30 L739.72,317.71 L739.79,316.70 L739.76,314.92 L739.81,313.85 L740.00,313.95 L740.12,313.53 L740.23,313.04 L740.30,312.25 L740.29,310.75 L740.37,310.06 L740.48,309.61 L740.58,309.04 L740.72,308.81 L740.80,308.02 L740.82,306.75 L740.93,306.25 L741.09,306.09 L741.19,305.42 L741.32,304.96 L741.37,303.88 L741.33,302.08 L741.43,301.48 L741.64,301.70 L741.81,301.60 L741.94,301.24 L742.06,300.74 L742.12,299.79 L742.14,298.42 L742.23,297.70 L742.36,297.25 L742.45,296.57 L742.52,295.63 L742.56,294.50 L742.69,294.08 L742.75,293.04 L742.79,291.93 L743.00,292.17 L743.13,291.82 L743.14,290.46 L743.17,289.22 L743.33,289.08 L743.49,288.98 L743.40,286.79 L743.33,284.69 L743.49,284.59 L743.68,284.70 L743.83,284.41 L743.92,283.71 L743.98,282.67 L744.13,282.39 L744.27,282.08 L744.39,281.48 L744.55,281.30 L744.59,280.04 L744.66,278.81 L744.89,278.88 L745.02,278.08 L745.09,276.88 L745.20,275.97 L745.26,274.55 L745.44,274.18 L745.70,274.46 L745.79,273.26 L745.89,272.10 L746.14,272.23 L746.36,272.01 L746.41,270.44 L746.49,268.95 L746.73,268.83 L747.07,268.96 L747.39,268.90 L747.64,268.27 L747.78,266.61 L747.96,265.31 L748.29,265.14 L748.59,264.67 L748.87,263.78 L749.13,262.65 L749.39,261.37 L749.81,261.13 L750.26,260.96 L750.70,260.60 L751.12,259.89 L751.49,258.62 L751.97,258.21 L752.52,258.22 L753.00,257.55 L753.43,256.28 L753.86,255.09 L754.48,255.32 L755.20,256.31 L755.73,255.60 L756.18,254.08 L756.78,253.66 L757.47,253.90 L758.17,254.01 L758.91,254.28 L759.54,254.08 L760.15,253.52 L760.78,253.08 L761.40,252.42 L762.10,252.24 L762.81,252.11 L763.55,252.02 L764.37,252.50 L765.23,253.21 L765.97,252.73 L766.60,251.27 L767.24,251.35 L767.98,252.08 L768.70,252.51 L769.47,253.13 L770.19,253.28 L770.87,252.95 L771.59,252.86 L772.37,253.25 L773.06,252.86 L773.71,252.08 L774.45,252.08 L775.18,251.99 L775.94,252.19 L776.75,252.99 L777.51,253.36 L778.18,253.13 L778.83,252.82 L779.48,252.76 L780.15,252.95 L781.02,253.60 L781.90,254.47 L782.73,255.07 L783.42,254.59 L784.01,253.48 L784.68,253.03 L785.42,253.27 L786.26,254.34 L787.08,255.30 L787.68,254.30 L788.20,252.63 L788.90,252.35 L789.73,253.08 L790.56,253.91 L791.32,254.18 L792.09,254.57 L792.83,254.70 L793.43,253.62 L794.17,253.61 L795.04,254.64 L795.73,254.14 L796.32,252.66 L797.00,251.73 L797.75,251.33 L798.43,251.59 L799.22,252.64 L800.00,253.51 L800.70,253.63 L801.32,253.03 L801.94,252.31 L802.70,252.77 L803.46,253.11 L804.07,252.26 L804.78,252.18 L805.57,252.70 L806.28,252.60 L806.98,252.36 L807.73,252.56 L808.46,252.62 L809.10,252.00 L809.76,251.55 L810.47,251.52" fill="none" stroke="#ff0000" stroke-width="5.1" stroke-linecap="round" stroke-linejoin="round"/>
<path d="M529.40,250.65 L530.14,251.07 L530.87,251.40 L531.62,252.01 L532.39,252.80 L533.05,252.65 L533.64,252.00 L534.33,252.05 L535.04,252.33 L535.73,252.34 L536.40,252.16 L537.07,251.92 L537.73,251.53 L538.47,251.64 L539.32,252.60 L540.14,253.14 L540.76,252.85 L541.40,252.52 L542.05,252.17 L542.66,251.36 L543.34,251.10 L544.17,251.95 L544.93,252.15 L545.59,251.48 L546.36,251.66 L547.14,251.92 L547.88,251.81 L548.72,252.61 L549.57,253.44 L550.28,253.23 L550.89,252.19 L551.54,251.59 L552.26,251.70 L552.98,251.84 L553.65,251.68 L554.33,251.80 L555.02,252.17 L555.76,251.78 L556.54,251.80 L557.36,252.27 L558.11,252.13 L558.88,252.24 L559.67,252.65 L560.37,252.37 L561.05,252.12 L561.80,252.57 L562.58,253.40 L563.27,253.68 L563.85,253.20 L564.44,252.98 L564.97,252.54 L565.60,251.98 L566.23,251.86 L566.83,251.86 L567.43,252.03 L567.91,251.43 L568.31,250.28 L568.82,249.99 L569.33,249.70 L569.76,248.51 L569.87,248.77 L570.06,249.66 L570.24,250.36 L570.39,250.83 L570.56,251.54 L570.79,252.71 L571.01,253.95 L571.13,254.50 L571.23,254.95 L571.41,256.29 L571.46,256.72 L571.45,256.73 L571.49,257.17 L571.50,257.38 L571.58,258.25 L571.72,259.65 L571.78,260.45 L571.74,260.47 L571.68,260.30 L571.65,260.47 L571.71,261.38 L571.82,262.79 L571.83,263.38 L571.83,263.91 L571.88,264.85 L571.87,265.32 L571.87,265.89 L571.97,267.31 L572.12,269.18 L572.14,269.99 L572.00,269.43 L571.93,269.50 L572.01,270.85 L572.09,272.10 L572.12,273.04 L572.13,273.77 L572.14,274.47 L572.20,275.66 L572.24,276.56 L572.19,276.79 L572.15,277.02 L572.18,277.88 L572.22,278.76 L572.19,279.10 L572.20,279.69 L572.20,280.16 L572.23,280.90 L572.35,282.36 L572.40,283.30 L572.44,284.10 L572.44,284.64 L572.39,284.67 L572.44,285.61 L572.56,287.06 L572.56,287.64 L572.54,287.94 L572.60,288.98 L572.69,290.22 L572.77,291.36 L572.80,292.11 L572.83,292.87 L572.87,293.71 L572.79,293.56 L572.72,293.47 L572.72,293.95 L572.74,294.60 L572.75,295.14 L572.74,295.58 L572.84,296.91 L572.98,298.55 L573.02,299.35 L573.03,299.95 L573.07,300.69 L573.04,300.90 L572.98,300.85 L572.95,301.06 L572.99,301.89 L573.13,303.51 L573.28,305.19 L573.28,305.57 L573.23,305.58 L573.31,306.72 L573.38,307.65 L573.37,308.04 L573.40,308.62 L573.41,309.18 L573.39,309.36 L573.39,309.83 L573.55,311.50 L573.73,313.47 L573.77,314.20 L573.69,313.94 L573.67,314.11 L573.76,315.32 L573.88,316.65 L573.89,317.15 L573.89,317.50 L573.95,318.34 L574.01,319.22 L574.05,319.95 L574.03,320.09 L574.02,320.41 L574.15,321.86 L574.24,322.87 L574.22,323.05 L574.30,324.06 L574.40,325.23 L574.39,325.45 L574.47,326.38 L574.64,328.11 L574.71,328.92 L574.66,328.85 L574.68,329.21 L574.72,329.84 L574.68,329.72 L574.74,330.43 L574.92,332.19 L574.98,332.86 L574.93,332.68 L574.97,333.22 L575.03,333.95 L575.07,334.48 L575.24,336.00 L575.35,337.10 L575.39,337.52 L575.50,338.55 L575.60,339.51 L575.66,340.07 L575.76,341.01 L575.84,341.75 L575.84,341.80 L575.87,342.10 L575.97,343.00 L576.07,343.94 L576.13,344.51 L576.21,345.19 L576.28,345.91 L576.39,346.92 L576.51,348.01 L576.72,347.19 L576.96,346.66 L577.22,346.17 L577.41,345.19 L577.59,344.12 L577.84,343.57 L578.05,342.70 L578.21,341.47 L578.43,340.77 L578.66,340.11 L578.91,339.71 L579.15,339.21 L579.24,337.52 L579.31,335.75 L579.51,335.13 L579.76,335.08 L579.98,334.81 L580.20,334.57 L580.46,334.67 L580.67,334.38 L580.79,333.28 L580.87,331.97 L581.00,331.04 L581.23,330.94 L581.48,331.02 L581.56,329.66 L581.61,327.99 L581.87,328.14 L582.16,328.40 L582.25,326.83 L582.30,324.98 L582.51,324.50 L582.79,324.50 L582.95,323.59 L583.05,322.14 L583.26,321.55 L583.50,321.19 L583.70,320.49 L583.97,320.28 L584.19,319.67 L584.34,318.35 L584.51,317.12 L584.85,316.66 L585.20,316.25 L585.54,315.69 L585.93,315.40 L586.17,313.88 L586.47,312.73 L586.93,312.90 L587.38,312.86 L587.75,312.12 L588.03,310.99 L588.34,310.11 L588.68,309.36 L588.94,307.95 L589.26,307.04 L589.76,307.50 L590.20,307.36 L590.53,306.25 L590.91,305.42 L591.35,305.01 L591.80,304.54 L592.33,304.20 L592.84,303.56 L593.30,302.43 L593.86,301.94 L594.44,301.54 L595.09,301.66 L595.74,301.73 L596.27,300.71 L596.84,300.00 L597.47,300.02 L598.08,299.81 L598.58,298.64 L599.15,297.96 L599.85,298.34 L600.49,298.11 L601.13,297.92 L601.78,297.80 L602.34,296.94 L602.95,296.51 L603.68,296.65 L604.35,296.35 L605.02,296.02 L605.80,296.60 L606.51,296.65 L607.14,295.88 L607.78,295.07 L608.43,294.26 L609.21,294.40 L609.92,294.36 L610.58,293.90 L611.27,293.58 L611.95,293.04 L612.67,292.79 L613.51,293.47 L614.40,294.49 L615.17,294.40 L615.83,293.46 L616.55,292.84 L617.30,292.47 L618.05,292.86 L618.89,293.91 L619.60,293.84 L620.22,292.98 L620.86,292.26 L621.61,292.32 L622.45,293.15 L623.16,292.91 L623.84,292.24 L624.58,292.13 L625.31,291.88 L626.06,291.71 L626.78,291.36 L627.56,291.36 L628.32,291.87 L629.07,292.14 L629.75,291.85 L630.44,291.57 L631.25,292.21 L631.99,292.28 L632.64,291.54 L633.32,291.01 L634.00,290.56 L634.70,290.17 L635.43,290.00 L636.22,290.38 L637.04,291.03 L637.84,291.47 L638.57,291.45 L639.24,290.87 L639.90,290.16 L640.59,289.81 L641.34,289.84 L642.05,289.44 L642.76,289.07 L643.54,289.21 L644.26,288.87 L645.02,288.85 L645.82,289.18 L646.61,289.52 L647.42,289.97 L648.16,289.96 L648.92,290.18 L649.60,289.89 L650.21,289.06 L650.93,289.26 L651.63,289.47 L652.22,288.89 L652.94,288.45 L653.65,288.33 L654.33,288.33 L655.00,288.35 L655.69,288.68 L656.42,289.36 L657.10,289.44 L657.72,288.86 L658.43,288.69 L659.21,288.70 L659.98,287.99 L660.52,287.81 L661.15,288.15 L661.75,288.07 L662.37,287.95 L663.04,288.10 L663.73,288.24 L664.37,287.88 L665.11,288.20 L665.84,288.31 L666.49,287.74 L667.22,287.68 L667.86,286.76 L668.55,286.21 L669.43,287.18 L670.24,287.49 L670.87,286.30 L671.54,285.39 L672.38,285.92 L673.21,286.34 L673.97,286.17 L674.69,285.72 L675.40,285.19 L676.27,285.99 L677.20,287.43 L677.95,287.35 L678.55,286.13 L679.24,285.68 L680.04,286.30 L680.82,286.82 L681.48,286.29 L682.13,285.54 L682.89,285.72 L683.71,286.40 L684.53,287.02 L685.28,287.07 L686.01,286.85 L686.73,286.63 L687.46,286.49 L688.22,286.59 L688.94,286.30 L689.69,286.38 L690.44,286.41 L691.09,285.66 L691.74,285.03 L692.48,285.05 L693.28,285.75 L694.03,286.08 L694.74,286.10 L695.40,285.77 L696.02,285.15 L696.75,285.58 L697.47,286.07 L698.14,286.16 L698.87,286.83 L699.51,286.98 L700.00,285.88 L700.72,285.01 L701.53,285.09 L702.36,285.51 L703.10,285.38 L703.80,285.03 L704.51,284.88 L705.19,284.58 L705.91,284.70 L706.62,284.77 L707.33,284.93 L708.04,285.00 L708.63,284.03 L709.27,283.47 L710.03,283.82 L710.73,283.53 L711.36,282.85 L712.08,282.84 L712.83,283.11 L713.64,283.79 L714.42,284.26 L715.09,283.78 L715.79,283.51 L716.44,282.88 L717.10,282.38 L717.97,283.56 L718.79,284.41 L719.47,284.08 L720.13,283.66 L720.83,283.53 L721.60,284.13 L722.37,284.67 L723.10,284.71 L723.74,284.06 L724.32,282.89 L725.06,283.11 L725.86,283.91 L726.51,283.45 L727.13,282.69 L727.89,283.21 L728.65,283.73 L729.25,282.89 L729.88,282.27 L730.59,282.36 L731.35,282.86 L732.14,283.55 L732.72,283.65 L733.29,283.67 L733.91,285.08 L734.04,285.29 L734.18,285.77 L734.38,286.98 L734.41,286.87 L734.40,286.53 L734.47,287.13 L734.55,287.82 L734.61,288.52 L734.73,289.84 L734.86,291.26 L734.84,291.62 L734.88,292.46 L735.00,294.02 L734.95,294.25 L734.92,294.66 L734.99,295.94 L735.02,296.87 L735.02,297.56 L735.11,298.97 L735.20,300.37 L735.12,300.28 L735.06,300.33 L735.11,301.28 L735.15,301.97 L735.20,302.69 L735.29,303.79 L735.34,304.51 L735.38,305.18 L735.44,306.01 L735.41,306.14 L735.42,306.54 L735.52,307.76 L735.60,308.78 L735.64,309.49 L735.64,309.94 L735.69,310.73 L735.66,310.83 L735.53,310.20 L735.56,310.85 L735.74,312.74 L735.84,314.02 L735.84,314.41 L735.95,315.78 L736.07,317.18 L736.08,317.68 L736.07,318.03 L736.05,318.31 L736.09,319.05 L736.16,320.07 L736.23,321.04 L736.26,321.72 L736.23,321.90 L736.21,322.16 L736.27,323.07 L736.31,323.79 L736.26,323.78 L736.28,324.38 L736.38,325.60 L736.44,326.53 L736.66,325.34 L736.87,324.11 L737.23,324.09 L737.63,324.39 L737.90,323.58 L738.09,322.19 L738.41,321.87 L738.77,322.02 L739.06,321.68 L739.32,321.24 L739.42,320.20 L739.47,318.88 L739.60,318.32 L739.69,317.47 L739.81,316.91 L739.98,316.75 L740.00,315.46 L740.02,314.17 L740.11,313.50 L740.24,313.13 L740.40,313.09 L740.53,312.78 L740.62,312.14 L740.63,310.87 L740.67,309.76 L740.76,309.18 L740.80,308.04 L740.85,307.05 L740.98,306.60 L741.13,306.39 L741.25,305.88 L741.29,304.79 L741.38,304.02 L741.44,303.04 L741.45,301.64 L741.55,300.93 L741.72,300.90 L741.88,300.74 L742.00,300.20 L742.08,299.45 L742.14,298.44 L742.22,297.59 L742.31,296.84 L742.33,295.53 L742.39,294.54 L742.50,293.99 L742.59,293.22 L742.70,292.65 L742.81,292.11 L742.93,291.58 L743.03,290.99 L743.10,290.11 L743.15,289.05 L743.23,288.24 L743.36,287.89 L743.48,287.46 L743.52,286.29 L743.51,284.74 L743.66,284.52 L743.80,284.19 L743.82,282.89 L743.98,282.70 L744.17,282.80 L744.24,281.81 L744.30,280.74 L744.46,280.53 L744.59,279.98 L744.69,279.07 L744.87,278.72 L745.01,278.02 L745.10,276.97 L745.24,276.26 L745.41,275.81 L745.58,275.38 L745.76,274.91 L745.86,273.82 L745.93,272.48 L746.11,272.01 L746.32,271.70 L746.46,270.85 L746.65,270.29 L746.84,269.73 L746.96,268.04 L747.11,266.60 L747.44,266.61 L747.77,266.56 L747.99,265.59 L748.26,264.91 L748.60,264.68 L748.86,263.69 L749.09,262.39 L749.45,261.85 L749.84,261.35 L750.18,260.23 L750.64,260.05 L751.24,260.86 L751.72,260.62 L752.16,259.79 L752.62,259.12 L753.01,257.64 L753.45,256.48 L754.08,256.94 L754.68,257.06 L755.11,255.57 L755.60,254.49 L756.31,255.17 L756.97,255.22 L757.50,254.09 L758.15,253.80 L758.85,253.82 L759.49,253.67 L760.17,253.66 L760.83,253.50 L761.51,253.33 L762.15,252.72 L762.78,251.84 L763.64,252.79 L764.59,254.38 L765.35,254.24 L766.12,253.98 L766.97,254.31 L767.59,254.26 L768.15,253.49 L768.73,252.74 L769.36,252.26 L770.02,251.86 L770.83,252.58 L771.58,252.83 L772.24,252.15 L773.05,252.78 L773.93,253.92 L774.66,253.79 L775.28,252.83 L775.92,252.08 L776.61,251.77 L777.39,252.35 L778.27,253.86 L779.00,254.27 L779.59,253.67 L780.27,253.94 L781.06,253.91 L781.84,253.94 L782.60,253.93 L783.21,252.85 L783.96,253.05 L784.84,254.43 L785.69,255.50 L786.46,256.02 L787.12,255.66 L787.75,254.91 L788.48,254.92 L789.24,255.13 L789.93,254.73 L790.60,254.26 L791.28,253.84 L791.94,253.32 L792.70,253.62 L793.53,254.41 L794.15,253.49 L794.78,252.53 L795.62,253.20 L796.44,253.65 L797.28,254.05 L798.12,254.39 L798.69,253.69 L799.25,252.89 L799.91,252.71 L800.60,252.78 L801.30,252.84 L802.11,253.77 L802.93,254.68 L803.51,253.57 L804.14,252.82 L804.95,253.60 L805.69,253.66 L806.36,253.23 L807.07,253.09 L807.78,252.98 L808.51,253.04 L809.24,253.19 L809.96,253.17 L810.66,253.15" fill="none" stroke="#ff0000" stroke-width="5.1" stroke-linecap="round" stroke-linejoin="round"/>
<line x1="166.0" y1="249.6" x2="810.7" y2="249.6" stroke="#000" stroke-width="5.8" stroke-linecap="round" stroke-dasharray="0 9.916"/>
<line x1="766.9" y1="366.9" x2="768.2" y2="421.5" stroke="#000" stroke-width="6" stroke-linecap="round"/>
<line x1="775.1" y1="423.6" x2="861.8" y2="425.2" stroke="#000" stroke-width="6" stroke-linecap="round"/>
<text transform="translate(780.47,380.20) scale(1,1.04)" font-size="26.90" fill="#000" xml:space="preserve">250 pA</text>
<text transform="translate(780.21,412.80) scale(1,1.04)" font-size="27.10" fill="#000" xml:space="preserve">60 ms</text>
<text transform="translate(-1.28,623.34) scale(89.629,97.880)" font-size="1" fill="#000">C</text>
<text transform="translate(219.29,598.60) scale(1,1.04)" font-size="30.70" fill="#000" xml:space="preserve">0 mV</text>
<text transform="translate(92.40,656.50) scale(1,1.04)" font-size="30.60" fill="#000" xml:space="preserve">-50 mV</text>
<path d="M196.50,654.10 L223.50,654.10 L223.50,613.00 L329.00,613.00 L329.00,654.10 L379.50,654.10" fill="none" stroke="#000" stroke-width="4.6" stroke-linecap="round" stroke-linejoin="miter"/>
<text transform="translate(172.52,706.00) scale(1,1.04)" font-size="30.70" fill="#000" xml:space="preserve">SB+TTX+TEA-Cl</text>
<text transform="translate(445.96,703.00) scale(1,1.04)" font-size="30.40" fill="#ff0000" xml:space="preserve">TSA [Acute]</text>
<text transform="translate(716.24,694.60) scale(1,1.04)" font-size="30.70" fill="#008000" xml:space="preserve">CgTx</text>
<text transform="translate(70.87,748.30) scale(1,1.04)" font-size="30.40" fill="#000" xml:space="preserve">N-type</text>
<text transform="translate(17.46,911.60) scale(1,1.04)" font-size="30.50" fill="#000" xml:space="preserve">P/Q+N-type</text>
<path d="M197.55,733.80 L198.29,733.85 L199.05,734.03 L199.87,734.68 L200.61,734.70 L201.30,734.23 L202.14,734.97 L203.00,735.95 L203.64,735.11 L204.22,733.73 L204.97,733.82 L205.76,734.29 L206.48,734.22 L207.24,734.46 L207.99,734.76 L208.63,734.12 L209.27,733.60 L210.01,733.96 L210.77,734.07 L211.49,733.80 L212.18,733.30 L212.86,732.75 L213.61,732.88 L214.38,733.24 L215.04,732.68 L215.76,732.67 L216.59,733.70 L217.28,733.61 L217.96,733.54 L218.64,733.51 L219.26,733.21 L219.98,733.77 L220.74,733.87 L221.43,733.58 L222.10,733.34 L222.76,733.16 L223.42,732.97 L223.98,732.10 L224.51,730.92 L225.15,730.73 L225.94,731.71 L226.67,732.10 L226.81,732.36 L226.99,732.88 L227.19,733.66 L227.39,734.60 L227.53,735.26 L227.49,734.84 L227.55,735.33 L227.62,735.88 L227.62,735.91 L227.62,736.00 L227.64,736.23 L227.67,736.54 L227.81,737.86 L228.06,740.03 L228.10,740.60 L228.03,740.18 L228.01,740.19 L227.90,739.52 L227.79,738.91 L227.90,740.05 L228.13,742.30 L228.27,743.73 L228.22,743.65 L228.17,743.58 L228.19,744.18 L228.19,744.53 L228.21,745.11 L228.30,746.27 L228.35,747.08 L228.35,747.51 L228.36,748.07 L228.42,749.08 L228.57,750.74 L228.66,752.00 L228.70,752.87 L228.72,753.49 L228.64,753.37 L228.62,753.75 L228.66,754.55 L228.71,755.57 L228.81,756.91 L228.89,758.19 L228.92,758.98 L228.84,758.87 L228.81,759.16 L228.90,760.50 L228.97,761.61 L229.00,762.46 L229.13,764.10 L229.16,764.96 L229.08,764.82 L229.14,765.96 L229.18,766.85 L229.11,766.86 L229.17,767.93 L229.21,768.79 L229.24,769.60 L229.38,771.29 L229.40,772.08 L229.39,772.49 L229.46,773.68 L229.55,774.89 L229.59,775.77 L229.61,776.47 L229.58,776.71 L229.53,776.82 L229.58,777.74 L229.59,778.24 L229.61,778.93 L229.79,780.88 L229.81,781.42 L229.70,780.94 L229.73,781.64 L229.88,783.22 L229.95,784.22 L229.95,784.58 L229.97,785.08 L229.99,785.61 L230.05,786.43 L230.12,787.37 L230.19,788.31 L230.28,789.35 L230.32,790.04 L230.36,790.74 L230.46,791.90 L230.55,792.95 L230.57,793.43 L230.55,793.64 L230.54,793.86 L230.55,794.24 L230.64,795.29 L230.75,796.54 L230.78,797.11 L230.74,797.11 L230.71,797.08 L230.77,797.92 L230.95,799.75 L231.09,801.15 L231.06,801.22 L231.01,801.12 L231.09,802.10 L231.17,803.04 L231.20,803.58 L231.28,804.51 L231.31,805.09 L231.29,805.19 L231.36,806.06 L231.51,807.63 L231.56,808.30 L231.51,808.18 L231.57,808.99 L231.73,810.60 L231.80,811.41 L231.84,812.06 L231.92,813.04 L231.89,813.03 L231.90,813.39 L232.02,814.70 L232.08,815.43 L232.11,816.00 L232.13,816.40 L232.09,816.41 L232.13,817.00 L232.29,818.61 L232.40,819.79 L232.42,820.26 L232.51,821.28 L232.52,821.65 L232.50,821.70 L232.60,822.87 L232.67,823.71 L232.60,823.37 L232.60,823.69 L232.72,825.00 L232.81,826.00 L232.84,826.51 L232.84,826.84 L232.91,827.68 L232.95,828.32 L232.98,828.81 L233.10,830.11 L233.19,831.17 L233.19,831.42 L233.22,831.97 L233.27,832.73 L233.31,833.36 L233.45,834.75 L233.60,836.35 L233.99,836.10 L234.30,835.19 L234.57,834.00 L234.86,833.07 L235.13,831.89 L235.45,831.17 L235.88,831.38 L236.21,830.74 L236.44,829.16 L236.78,828.52 L237.24,828.78 L237.58,827.87 L237.87,826.55 L238.36,826.77 L238.84,826.79 L239.17,825.61 L239.52,824.52 L239.89,823.55 L240.34,823.08 L240.94,823.88 L241.48,824.03 L241.80,822.34 L242.18,821.10 L242.66,820.67 L243.13,820.06 L243.64,819.80 L244.10,819.11 L244.47,817.63 L244.92,816.87 L245.50,817.16 L246.06,817.30 L246.66,816.99 L247.21,816.16 L247.73,815.05 L248.33,814.60 L248.94,814.26 L249.57,813.99 L250.18,813.55 L250.75,812.72 L251.35,812.13 L251.98,811.84 L252.63,811.68 L253.24,811.19 L253.91,810.88 L254.60,810.76 L255.29,810.60 L255.99,810.51 L256.66,810.09 L257.35,809.93 L258.00,809.35 L258.60,808.40 L259.27,808.00 L259.95,807.71 L260.64,807.51 L261.38,807.95 L262.08,808.22 L262.70,807.84 L263.34,807.75 L263.91,806.95 L264.36,805.20 L264.99,804.73 L265.73,805.08 L266.43,804.90 L267.26,805.43 L268.10,805.84 L268.61,805.20 L269.13,804.46 L269.73,804.17 L270.36,804.03 L270.96,803.54 L271.58,803.05 L272.29,803.22 L273.00,803.33 L273.65,802.77 L274.29,802.14 L274.94,801.43 L275.59,800.80 L276.30,800.59 L277.09,801.00 L277.88,801.40 L278.57,800.95 L279.24,800.45 L279.96,800.30 L280.66,800.01 L281.36,799.86 L282.07,799.83 L282.66,798.90 L283.21,797.44 L283.95,797.59 L284.78,798.55 L285.56,799.04 L286.30,799.18 L286.90,798.19 L287.56,797.70 L288.35,798.26 L289.09,798.46 L289.80,798.35 L290.43,797.58 L291.06,796.88 L291.75,796.59 L292.39,795.92 L293.06,795.47 L293.77,795.39 L294.51,795.60 L295.24,795.68 L295.92,795.28 L296.59,794.93 L297.31,794.86 L297.92,794.19 L298.48,793.08 L299.21,793.34 L299.95,793.66 L300.61,793.43 L301.35,793.77 L302.07,793.95 L302.77,793.99 L303.44,793.79 L304.05,793.09 L304.63,792.10 L305.24,791.39 L305.93,791.30 L306.63,791.35 L307.31,791.24 L308.07,791.75 L308.79,791.95 L309.36,790.92 L310.01,790.48 L310.66,790.17 L311.33,789.93 L312.05,790.13 L312.67,789.39 L313.30,788.69 L314.05,788.83 L314.71,788.19 L315.36,787.39 L316.13,787.52 L316.86,787.28 L317.61,787.19 L318.41,787.62 L319.14,787.45 L319.89,787.49 L320.68,787.93 L321.31,787.13 L321.90,786.10 L322.59,785.95 L323.18,785.20 L323.69,783.93 L324.28,783.54 L325.01,784.51 L325.73,785.58 L326.24,785.07 L326.66,784.15 L327.56,784.04 L328.40,784.20 L329.17,784.24 L329.89,784.33 L330.58,784.22 L331.22,783.66 L331.86,782.77 L332.18,783.10 L332.53,783.62 L332.85,783.89 L333.17,784.18 L333.20,783.57 L333.24,783.04 L333.33,782.88 L333.45,782.97 L333.50,782.49 L333.53,781.92 L333.56,781.27 L333.57,780.50 L333.55,779.40 L333.51,778.21 L333.53,777.50 L333.51,776.49 L333.53,775.81 L333.68,776.20 L333.72,775.61 L333.66,774.19 L333.72,773.84 L333.71,772.91 L333.64,771.36 L333.68,770.82 L333.75,770.47 L333.75,769.60 L333.70,768.27 L333.69,767.24 L333.80,767.22 L333.93,767.31 L333.98,766.79 L334.02,766.15 L334.02,765.14 L333.97,763.76 L334.03,763.04 L334.15,762.89 L334.22,762.35 L334.24,761.39 L334.26,760.49 L334.35,760.13 L334.37,759.16 L334.27,757.23 L334.39,757.15 L334.60,757.71 L334.52,755.90 L334.44,754.02 L334.52,753.39 L334.58,752.59 L334.69,752.15 L334.91,752.57 L335.10,752.64 L335.18,751.83 L335.29,751.12 L335.44,750.59 L335.52,749.45 L335.73,748.07 L336.06,747.58 L336.42,747.17 L336.73,746.23 L337.07,745.35 L337.44,744.54 L337.81,743.59 L338.28,743.24 L338.82,743.25 L339.34,742.94 L339.92,742.94 L340.53,743.00 L341.06,742.24 L341.55,741.04 L342.07,739.96 L342.71,739.72 L343.43,739.82 L344.14,739.58 L344.85,739.25 L345.57,738.86 L346.35,738.80 L347.18,739.06 L347.97,738.96 L348.69,738.26 L349.36,737.83 L350.07,737.87 L350.81,738.12 L351.53,738.18 L352.15,737.27 L352.79,736.43 L353.56,736.46 L354.38,736.67 L355.21,736.69 L356.01,736.16 L356.60,736.11 L357.37,737.36 L358.03,737.48 L358.51,735.95 L359.09,735.14 L359.83,735.57 L360.51,735.34 L361.14,734.57 L361.88,734.64 L362.65,734.93 L363.49,735.79 L364.34,736.69 L365.02,736.06 L365.68,735.38 L366.51,736.10 L367.26,736.26 L367.92,735.68 L368.69,736.05 L369.43,736.31 L370.05,735.65 L370.67,735.16 L371.46,735.37 L372.19,735.21 L372.90,734.82 L373.68,735.16 L374.44,735.31 L375.13,734.96 L375.78,734.25 L376.47,733.99 L377.29,734.69 L378.03,734.84 L378.71,734.47 L379.45,734.63 L380.22,735.02 L380.97,735.23 L381.68,735.08 L382.39,734.87 L383.10,734.69" fill="none" stroke="#000" stroke-width="5.1" stroke-linecap="round" stroke-linejoin="round"/>
<path d="M197.76,735.53 L198.36,734.46 L199.12,734.58 L199.93,735.21 L200.64,734.87 L201.31,734.29 L202.01,733.93 L202.69,733.37 L203.38,732.92 L204.17,733.30 L204.90,733.29 L205.56,732.64 L206.35,733.12 L207.21,734.29 L207.91,734.06 L208.58,733.71 L209.35,734.28 L210.00,733.91 L210.72,733.59 L211.47,733.65 L212.14,732.97 L212.84,732.62 L213.68,733.50 L214.56,734.73 L215.26,734.48 L215.90,733.84 L216.67,734.35 L217.40,734.59 L218.06,734.39 L218.73,734.33 L219.36,733.96 L219.92,733.24 L220.61,732.82 L221.34,732.85 L222.07,733.12 L222.75,733.01 L223.39,732.78 L224.08,732.92 L224.66,732.22 L225.27,731.72 L225.99,732.08 L226.64,731.83 L226.74,731.78 L226.85,731.78 L227.00,732.06 L227.23,733.22 L227.56,735.47 L227.71,736.68 L227.76,737.04 L227.73,736.83 L227.73,736.86 L227.80,737.49 L227.83,737.80 L227.82,737.80 L227.92,738.74 L227.97,739.30 L227.83,738.31 L227.78,738.07 L227.91,739.36 L228.08,741.05 L228.15,741.89 L228.14,742.04 L228.17,742.58 L228.20,743.16 L228.21,743.56 L228.21,743.98 L228.25,744.68 L228.34,745.80 L228.48,747.37 L228.49,747.88 L228.38,747.35 L228.42,748.09 L228.52,749.41 L228.60,750.54 L228.66,751.52 L228.68,752.15 L228.65,752.39 L228.54,752.04 L228.58,752.85 L228.78,755.10 L228.83,755.97 L228.78,756.10 L228.86,757.36 L228.82,757.60 L228.74,757.49 L228.83,758.76 L228.92,760.05 L228.96,761.03 L228.95,761.44 L228.89,761.54 L228.91,762.29 L229.04,763.94 L229.14,765.34 L229.06,765.30 L229.09,766.12 L229.33,768.69 L229.44,770.13 L229.35,769.95 L229.25,769.65 L229.18,769.69 L229.24,770.70 L229.42,772.78 L229.50,773.95 L229.44,774.00 L229.46,774.68 L229.51,775.63 L229.56,776.57 L229.70,778.20 L229.77,779.32 L229.74,779.47 L229.79,780.38 L229.85,781.30 L229.81,781.44 L229.78,781.58 L229.82,782.37 L229.93,783.64 L229.94,784.12 L229.94,784.53 L230.00,785.33 L230.00,785.69 L230.02,786.24 L230.17,787.76 L230.29,789.16 L230.31,789.63 L230.28,789.74 L230.21,789.45 L230.28,790.36 L230.48,792.34 L230.46,792.57 L230.41,792.45 L230.54,793.80 L230.60,794.64 L230.55,794.52 L230.61,795.35 L230.72,796.57 L230.78,797.40 L230.90,798.74 L231.00,799.85 L230.99,800.09 L230.98,800.29 L231.01,800.81 L231.05,801.43 L231.12,802.37 L231.20,803.27 L231.26,804.10 L231.42,805.75 L231.52,806.81 L231.45,806.52 L231.47,806.98 L231.57,808.13 L231.60,808.63 L231.58,808.75 L231.63,809.48 L231.76,810.81 L231.83,811.67 L231.82,811.86 L231.82,812.22 L231.93,813.38 L232.01,814.29 L232.03,814.73 L232.15,816.02 L232.19,816.68 L232.11,816.29 L232.14,816.77 L232.15,817.13 L232.16,817.56 L232.31,819.02 L232.43,820.30 L232.43,820.63 L232.38,820.48 L232.40,820.95 L232.52,822.20 L232.61,823.21 L232.60,823.44 L232.69,824.42 L232.84,825.99 L232.85,826.36 L232.85,826.63 L232.90,827.29 L232.95,828.04 L233.03,828.97 L233.11,829.90 L233.15,830.52 L233.10,830.43 L233.18,831.41 L233.38,833.32 L233.44,834.08 L233.49,834.80 L233.57,835.78 L233.57,836.12 L233.81,834.59 L234.03,832.93 L234.39,832.49 L234.87,833.10 L235.25,832.93 L235.49,831.52 L235.65,829.51 L235.92,828.28 L236.30,828.03 L236.71,827.94 L237.11,827.65 L237.52,827.42 L237.95,827.27 L238.29,826.17 L238.67,825.37 L239.15,825.41 L239.53,824.59 L239.91,823.66 L240.44,823.95 L240.90,823.57 L241.22,821.86 L241.61,820.75 L242.02,819.76 L242.49,819.21 L243.10,819.81 L243.67,820.07 L244.15,819.57 L244.53,818.19 L244.91,816.77 L245.42,816.53 L245.92,816.12 L246.45,815.18 L247.08,815.09 L247.76,815.35 L248.43,815.44 L249.10,815.53 L249.61,814.28 L250.11,812.95 L250.84,813.51 L251.54,813.74 L252.05,812.47 L252.66,811.91 L253.33,811.97 L253.93,811.06 L254.51,810.04 L255.13,809.21 L255.77,808.61 L256.52,808.95 L257.36,810.01 L258.09,810.06 L258.64,808.67 L259.24,807.77 L259.99,808.01 L260.67,807.78 L261.23,806.68 L261.86,806.37 L262.60,806.99 L263.29,807.27 L263.91,807.00 L264.50,806.32 L265.01,804.92 L265.63,804.28 L266.43,804.85 L267.19,804.86 L267.95,804.59 L268.55,804.67 L269.14,804.49 L269.76,804.39 L270.43,804.61 L271.06,804.32 L271.69,803.97 L272.38,804.00 L273.06,803.80 L273.64,802.72 L274.21,801.41 L274.98,801.82 L275.83,802.81 L276.53,802.47 L277.19,801.84 L277.86,801.24 L278.49,800.33 L279.16,799.75 L279.92,799.98 L280.71,800.48 L281.46,800.67 L282.17,800.63 L282.85,800.46 L283.54,800.24 L284.14,799.17 L284.77,798.46 L285.56,799.00 L286.28,799.05 L286.96,798.66 L287.60,798.01 L288.24,797.39 L288.91,796.96 L289.54,796.18 L290.20,795.68 L290.92,795.72 L291.63,795.58 L292.32,795.37 L293.09,795.73 L293.91,796.55 L294.72,797.33 L295.40,796.98 L296.00,795.95 L296.65,795.43 L297.33,795.03 L297.99,794.72 L298.63,794.30 L299.27,793.86 L299.92,793.41 L300.57,793.03 L301.28,793.22 L301.94,792.90 L302.56,792.24 L303.28,792.43 L303.99,792.55 L304.64,792.21 L305.35,792.29 L306.09,792.68 L306.74,792.29 L307.30,791.16 L307.97,790.90 L308.74,791.53 L309.45,791.66 L310.09,791.16 L310.67,790.25 L311.24,789.19 L311.97,789.44 L312.76,790.13 L313.47,790.11 L314.17,789.88 L314.79,788.85 L315.40,787.71 L316.13,787.47 L316.94,787.97 L317.77,788.60 L318.54,788.70 L319.19,787.80 L319.78,786.51 L320.44,785.89 L321.22,786.33 L322.01,786.95 L322.71,787.01 L323.38,786.89 L323.98,786.34 L324.54,785.70 L325.13,785.48 L325.64,784.80 L326.17,784.49 L326.78,785.17 L327.62,784.53 L328.31,783.46 L329.08,783.51 L329.82,783.74 L330.54,783.92 L331.12,782.84 L331.67,781.19 L332.16,782.94 L332.64,784.53 L332.85,783.95 L333.16,784.11 L333.29,784.33 L333.39,784.23 L333.36,783.13 L333.31,781.79 L333.34,781.20 L333.44,781.16 L333.56,781.30 L333.63,780.99 L333.54,779.38 L333.38,777.16 L333.37,776.16 L333.51,776.50 L333.56,776.05 L333.51,774.76 L333.53,774.03 L333.55,773.32 L333.52,772.21 L333.59,771.84 L333.68,771.69 L333.74,771.36 L333.79,770.86 L333.77,769.72 L333.79,768.96 L333.79,768.08 L333.73,766.63 L333.78,766.08 L333.91,766.19 L333.96,765.63 L333.96,764.69 L334.04,764.33 L334.05,763.25 L333.96,761.35 L333.94,760.08 L334.04,759.76 L334.19,759.88 L334.30,759.71 L334.38,759.27 L334.40,758.33 L334.41,757.30 L334.51,757.00 L334.59,756.47 L334.62,755.50 L334.62,754.22 L334.63,753.02 L334.72,752.39 L334.77,751.39 L334.84,750.52 L335.02,750.47 L335.20,750.34 L335.34,749.74 L335.44,748.83 L335.71,747.91 L336.04,747.39 L336.32,746.35 L336.64,745.52 L337.14,745.93 L337.62,746.01 L337.94,744.64 L338.36,743.89 L338.98,744.60 L339.51,744.38 L339.92,742.90 L340.41,742.03 L341.10,742.58 L341.78,742.99 L342.32,742.03 L342.88,741.20 L343.47,740.16 L344.02,738.65 L344.71,738.10 L345.52,738.42 L346.37,738.96 L347.22,739.46 L348.03,739.49 L348.75,738.73 L349.40,738.18 L350.08,737.99 L350.83,738.31 L351.59,738.72 L352.27,738.29 L352.99,738.11 L353.70,737.60 L354.38,736.66 L355.17,736.37 L356.00,736.11 L356.59,736.01 L357.21,736.05 L357.82,735.78 L358.51,735.97 L359.24,736.40 L359.91,736.18 L360.65,736.44 L361.42,736.92 L362.13,736.70 L362.86,736.71 L363.63,736.92 L364.38,737.01 L365.06,736.40 L365.72,735.76 L366.52,736.21 L367.18,735.58 L367.77,734.37 L368.47,734.27 L369.21,734.51 L369.92,734.63 L370.57,734.30 L371.35,734.48 L372.20,735.25 L372.95,735.23 L373.64,734.78 L374.38,734.82 L375.14,735.06 L375.88,735.13 L376.60,735.03 L377.34,735.15 L378.04,734.97 L378.67,734.17 L379.40,734.23 L380.18,734.69 L380.89,734.49 L381.58,734.25 L382.33,734.41 L383.11,734.75" fill="none" stroke="#000" stroke-width="5.1" stroke-linecap="round" stroke-linejoin="round"/>
<path d="M442.02,733.87 L442.65,733.09 L443.35,732.85 L444.10,733.03 L444.77,732.43 L445.44,731.97 L446.25,732.56 L447.01,732.78 L447.76,732.86 L448.55,733.33 L449.26,733.19 L449.88,732.28 L450.50,731.37 L451.26,731.68 L452.11,732.74 L452.89,733.32 L453.63,733.54 L454.31,733.40 L454.93,732.75 L455.64,732.19 L456.46,732.36 L457.31,732.69 L458.16,732.96 L459.01,733.20 L459.74,732.49 L460.50,732.13 L461.33,732.47 L462.16,733.00 L462.98,733.72 L463.66,733.46 L464.29,733.17 L464.90,733.11 L465.38,732.40 L465.79,731.59 L466.62,731.74 L467.41,732.90 L468.09,733.67 L468.63,732.97 L468.59,732.59 L468.69,733.22 L468.84,734.40 L468.94,735.20 L469.02,736.15 L469.08,736.82 L469.15,737.51 L469.19,737.99 L469.21,738.30 L469.21,738.51 L469.22,738.82 L469.23,739.15 L469.19,739.08 L469.09,738.54 L469.12,739.12 L469.21,740.16 L469.29,741.20 L469.40,742.45 L469.41,742.95 L469.44,743.55 L469.44,743.98 L469.33,743.47 L469.37,744.23 L469.53,746.00 L469.47,745.99 L469.38,745.67 L469.43,746.60 L469.52,747.85 L469.66,749.51 L469.69,750.30 L469.66,750.51 L469.67,751.21 L469.68,751.78 L469.73,752.82 L469.77,753.68 L469.69,753.61 L469.65,753.80 L469.64,754.31 L469.62,754.79 L469.65,755.63 L469.75,757.04 L469.86,758.59 L469.80,758.64 L469.75,758.89 L469.92,760.91 L470.00,762.21 L470.05,763.22 L470.17,764.88 L470.17,765.51 L470.08,765.39 L469.96,765.01 L469.93,765.32 L470.12,767.55 L470.24,769.17 L470.15,769.06 L470.12,769.39 L470.15,770.31 L470.17,771.08 L470.28,772.59 L470.44,774.50 L470.50,775.60 L470.47,775.92 L470.47,776.50 L470.55,777.77 L470.58,778.61 L470.49,778.39 L470.42,778.32 L470.43,778.97 L470.46,779.71 L470.52,780.76 L470.63,782.17 L470.71,783.33 L470.74,784.07 L470.74,784.58 L470.77,785.25 L470.85,786.40 L470.94,787.53 L471.00,788.47 L471.02,789.02 L470.96,788.91 L471.00,789.62 L471.11,790.92 L471.12,791.47 L471.11,791.74 L471.15,792.52 L471.21,793.41 L471.19,793.61 L471.18,793.91 L471.25,794.90 L471.35,796.04 L471.43,797.04 L471.45,797.60 L471.48,798.17 L471.54,799.00 L471.58,799.66 L471.64,800.47 L471.69,801.17 L471.66,801.25 L471.68,801.74 L471.79,802.92 L471.90,804.11 L471.97,804.97 L472.00,805.51 L472.00,805.77 L471.98,805.91 L472.02,806.49 L472.10,807.44 L472.19,808.45 L472.30,809.54 L472.40,810.66 L472.46,811.41 L472.44,811.48 L472.40,811.42 L472.45,812.06 L472.57,813.35 L472.73,814.94 L472.84,816.09 L472.88,816.67 L472.98,817.76 L472.99,818.13 L472.93,817.86 L473.03,818.96 L473.16,820.28 L473.18,820.69 L473.18,820.95 L473.20,821.41 L473.20,821.69 L473.23,822.24 L473.36,823.58 L473.46,824.72 L473.48,825.13 L473.74,824.33 L473.97,823.29 L474.20,822.23 L474.53,821.99 L474.82,821.45 L475.06,820.52 L475.34,819.87 L475.57,818.81 L475.84,818.01 L476.18,817.82 L476.50,816.94 L476.74,815.52 L477.06,814.73 L477.49,814.83 L477.88,814.53 L478.22,813.69 L478.56,812.68 L478.92,811.72 L479.33,811.70 L479.73,811.58 L480.05,810.63 L480.37,809.65 L480.76,809.16 L481.20,808.98 L481.63,808.65 L482.01,807.82 L482.36,806.68 L482.76,805.94 L483.27,806.00 L483.71,805.55 L484.08,804.44 L484.53,803.92 L484.98,803.36 L485.36,802.15 L485.83,801.62 L486.34,801.38 L486.76,800.24 L487.24,799.67 L487.82,799.73 L488.34,799.38 L488.81,798.49 L489.27,797.96 L489.80,797.85 L490.26,797.15 L490.72,796.40 L491.26,796.21 L491.80,796.05 L492.29,795.39 L492.74,794.36 L493.22,793.61 L493.71,792.93 L494.22,792.40 L494.79,792.42 L495.38,792.58 L495.90,792.20 L496.34,791.22 L496.86,790.83 L497.40,790.59 L497.85,789.65 L498.34,788.91 L498.83,788.26 L499.28,787.24 L499.80,786.92 L500.40,787.23 L500.90,786.72 L501.31,785.51 L501.76,784.69 L502.33,784.92 L502.84,784.76 L503.26,783.31 L503.79,782.82 L504.45,783.53 L505.04,783.75 L505.49,782.80 L505.89,781.47 L506.35,780.65 L506.84,780.07 L507.35,779.68 L507.87,779.23 L508.44,779.17 L509.10,779.22 L509.65,778.38 L510.19,777.44 L510.81,777.10 L511.42,776.69 L512.02,776.15 L512.69,776.09 L513.43,776.43 L514.05,775.75 L514.53,774.00 L515.14,773.22 L515.92,773.79 L516.82,775.15 L517.62,775.78 L518.24,774.77 L518.92,774.21 L519.58,773.58 L520.17,772.33 L520.81,771.58 L521.48,771.28 L522.25,771.89 L522.98,772.24 L523.65,772.10 L524.34,772.11 L525.04,772.10 L525.78,772.26 L526.50,772.00 L527.31,772.26 L528.16,772.47 L528.65,771.61 L529.17,770.87 L529.77,770.65 L530.45,771.01 L531.11,770.96 L531.72,770.43 L532.43,770.60 L533.16,770.86 L533.80,770.28 L534.39,769.19 L535.07,768.85 L535.76,768.51 L536.36,767.40 L537.07,767.22 L537.88,767.82 L538.67,768.27 L539.45,768.73 L540.14,768.40 L540.73,767.40 L541.32,766.38 L541.92,765.55 L542.65,765.61 L543.40,765.83 L544.09,765.57 L544.81,765.56 L545.50,765.34 L546.13,764.57 L546.76,763.85 L547.49,763.93 L548.27,764.42 L548.91,763.68 L549.57,763.24 L550.39,763.98 L551.14,764.28 L551.84,764.13 L552.58,764.23 L553.35,764.67 L554.02,764.26 L554.64,763.38 L555.31,762.94 L556.02,762.84 L556.82,763.43 L557.59,763.49 L558.20,762.11 L558.89,761.33 L559.77,761.97 L560.54,761.77 L561.20,760.49 L561.93,759.92 L562.76,760.17 L563.62,760.70 L564.37,760.53 L565.02,759.51 L565.73,759.23 L566.44,759.15 L567.07,758.67 L567.77,758.98 L568.49,759.64 L569.13,760.12 L569.62,759.57 L569.99,758.38 L570.81,757.81 L571.52,757.48 L572.16,757.19 L572.85,757.48 L573.52,757.24 L573.55,757.18 L573.74,758.37 L574.00,760.15 L574.08,760.49 L574.08,760.14 L574.16,760.41 L574.26,760.88 L574.42,761.91 L574.67,763.61 L574.79,764.26 L574.81,764.05 L574.77,763.01 L574.81,762.62 L574.91,762.72 L574.98,762.59 L574.93,761.45 L574.93,760.71 L575.00,760.55 L574.97,759.64 L574.84,757.81 L574.80,756.75 L574.94,757.21 L574.97,756.75 L574.89,755.34 L574.85,754.30 L574.81,753.22 L574.76,752.13 L574.79,751.65 L574.90,751.85 L574.96,751.58 L574.95,750.85 L574.97,750.29 L574.96,749.49 L574.90,748.21 L574.87,747.24 L574.95,747.20 L575.02,747.05 L575.02,746.36 L574.99,745.36 L574.88,743.74 L574.86,742.88 L574.93,742.73 L574.91,741.85 L574.89,740.96 L574.90,740.29 L574.89,739.49 L575.17,738.51 L575.39,737.08 L575.75,736.59 L576.37,737.40 L576.74,736.97 L577.08,735.96 L577.63,736.39 L578.27,737.27 L578.88,737.58 L579.56,738.15 L580.46,740.10 L581.32,741.27 L581.84,740.86 L582.44,740.82 L583.03,740.41 L583.64,739.88 L584.32,739.72 L584.94,738.87 L585.63,738.47 L586.46,739.02 L587.27,739.34 L587.99,738.80 L588.67,737.90 L589.41,737.45 L590.21,737.52 L591.03,737.74 L591.73,738.16 L592.42,738.42 L593.03,737.96 L593.62,737.25 L594.31,737.36 L595.05,737.80 L595.69,737.39 L596.38,737.31 L597.18,738.11 L597.89,738.14 L598.51,737.31 L599.13,736.47 L599.85,736.41 L600.61,736.73 L601.34,736.69 L602.06,736.52 L602.76,736.15 L603.51,736.18 L604.29,736.45 L605.03,736.35 L605.69,736.31 L606.32,735.95 L606.90,735.13 L607.56,734.93 L608.36,735.93 L609.14,736.66 L609.75,735.88 L610.34,734.94 L611.05,735.01 L611.84,735.71 L612.59,735.99 L613.26,735.60 L613.97,735.59 L614.68,735.49 L615.33,734.89 L616.01,734.58 L616.74,734.65 L617.49,734.84 L618.19,734.69 L618.89,734.52 L619.70,735.30 L620.48,735.78 L621.20,735.78 L621.93,735.93 L622.53,735.02 L623.05,733.48" fill="none" stroke="#ff0000" stroke-width="5.1" stroke-linecap="round" stroke-linejoin="round"/>
<path d="M441.92,733.06 L442.64,733.00 L443.30,732.40 L444.02,732.30 L444.84,733.06 L445.60,733.30 L446.29,732.89 L447.00,732.69 L447.73,732.61 L448.47,732.67 L449.27,733.26 L450.00,733.30 L450.64,732.53 L451.42,733.04 L452.27,734.10 L452.96,733.90 L453.64,733.67 L454.33,733.51 L454.92,732.66 L455.61,731.95 L456.38,731.74 L457.25,732.22 L458.21,733.39 L459.09,733.87 L459.84,733.32 L460.62,733.17 L461.48,733.76 L462.29,734.08 L462.94,733.37 L463.54,732.47 L464.15,732.06 L464.77,732.05 L465.41,732.63 L465.93,732.73 L466.75,732.84 L467.50,733.64 L468.07,733.51 L468.58,732.59 L468.64,732.97 L468.70,733.32 L468.76,733.74 L468.94,735.21 L469.09,736.78 L469.01,736.18 L468.98,736.10 L469.09,737.16 L469.18,738.13 L469.17,738.21 L469.10,737.88 L469.12,738.25 L469.13,738.60 L469.13,738.88 L469.19,739.67 L469.26,740.61 L469.34,741.61 L469.34,741.95 L469.30,741.97 L469.32,742.57 L469.34,743.09 L469.33,743.47 L469.41,744.52 L469.49,745.63 L469.42,745.56 L469.35,745.39 L469.44,746.65 L469.64,748.80 L469.69,749.79 L469.58,749.34 L469.54,749.58 L469.56,750.23 L469.57,750.89 L469.66,752.21 L469.72,753.30 L469.82,754.65 L469.90,755.90 L469.86,756.15 L469.87,756.85 L469.88,757.56 L469.82,757.61 L469.87,758.62 L470.00,760.38 L470.02,761.17 L469.95,761.13 L469.94,761.67 L470.04,763.13 L470.16,764.75 L470.25,766.19 L470.27,766.91 L470.21,767.05 L470.17,767.37 L470.15,767.79 L470.15,768.48 L470.21,769.59 L470.28,770.73 L470.34,771.88 L470.39,772.85 L470.35,773.15 L470.34,773.67 L470.45,775.19 L470.49,776.12 L470.43,776.20 L470.47,777.07 L470.54,778.27 L470.58,779.09 L470.58,779.70 L470.57,780.15 L470.64,781.23 L470.78,782.96 L470.77,783.39 L470.57,782.17 L470.52,782.25 L470.67,783.97 L470.73,784.93 L470.70,785.14 L470.73,785.82 L470.84,787.15 L470.89,787.99 L470.93,788.66 L471.09,790.36 L471.23,791.93 L471.25,792.53 L471.19,792.47 L471.16,792.59 L471.20,793.31 L471.27,794.30 L471.35,795.35 L471.38,795.95 L471.39,796.36 L471.41,796.90 L471.44,797.52 L471.57,798.90 L471.65,799.91 L471.63,800.06 L471.60,800.18 L471.62,800.64 L471.77,802.13 L471.83,802.99 L471.85,803.40 L471.96,804.63 L471.94,804.70 L471.83,804.07 L471.91,805.06 L472.08,806.73 L472.18,807.77 L472.19,808.18 L472.16,808.20 L472.26,809.23 L472.37,810.44 L472.40,810.88 L472.45,811.57 L472.50,812.24 L472.56,813.01 L472.69,814.37 L472.76,815.14 L472.71,815.01 L472.80,815.98 L472.87,816.84 L472.82,816.68 L472.94,817.95 L473.13,819.81 L473.05,819.34 L472.89,818.27 L472.94,818.95 L473.04,820.12 L473.14,821.22 L473.20,821.94 L473.22,822.38 L473.29,823.28 L473.38,824.31 L473.63,823.44 L473.88,822.52 L474.20,822.28 L474.50,821.80 L474.78,821.16 L475.06,820.48 L475.29,819.43 L475.59,818.93 L475.95,818.95 L476.27,818.57 L476.52,817.18 L476.76,815.69 L477.16,815.52 L477.64,816.07 L477.95,815.09 L478.18,813.32 L478.52,812.40 L478.98,812.21 L479.42,812.46 L479.69,811.25 L479.93,809.61 L480.38,809.70 L480.84,809.79 L481.20,808.97 L481.57,808.17 L481.96,807.43 L482.37,806.80 L482.77,806.01 L483.17,805.17 L483.63,804.84 L484.07,804.38 L484.47,803.46 L484.86,802.38 L485.31,801.78 L485.87,801.94 L486.31,801.14 L486.67,799.48 L487.23,799.55 L487.89,800.37 L488.37,799.63 L488.83,798.63 L489.30,798.16 L489.69,797.00 L490.20,796.71 L490.80,797.08 L491.24,796.10 L491.64,794.70 L492.08,793.67 L492.58,793.09 L493.14,792.95 L493.66,792.51 L494.19,792.16 L494.79,792.38 L495.29,791.83 L495.73,790.81 L496.27,790.60 L496.88,791.03 L497.42,790.80 L497.90,790.00 L498.47,790.05 L499.04,790.01 L499.50,789.08 L499.87,787.47 L500.29,786.31 L500.84,786.20 L501.35,785.86 L501.78,784.85 L502.20,783.84 L502.73,783.81 L503.31,783.66 L503.81,782.96 L504.40,783.13 L504.98,783.28 L505.40,782.10 L505.89,781.52 L506.41,781.19 L506.76,779.42 L507.24,778.74 L507.85,779.05 L508.30,777.98 L508.84,777.02 L509.56,777.64 L510.23,777.77 L510.82,777.25 L511.50,777.38 L512.16,777.28 L512.72,776.31 L513.27,775.12 L514.00,775.32 L514.82,776.42 L515.55,776.64 L516.17,775.80 L516.77,774.75 L517.42,774.08 L518.15,773.97 L518.89,774.01 L519.58,773.55 L520.21,772.73 L520.82,771.72 L521.58,772.11 L522.43,773.36 L523.09,773.17 L523.63,771.96 L524.22,771.09 L525.03,771.97 L525.81,772.51 L526.34,770.71 L527.00,769.64 L527.90,770.23 L528.52,770.53 L529.08,770.12 L529.62,769.41 L530.20,768.89 L530.90,769.20 L531.65,769.82 L532.35,769.95 L533.00,769.48 L533.63,768.89 L534.33,768.74 L535.03,768.52 L535.76,768.50 L536.50,768.60 L537.16,767.99 L537.77,766.94 L538.43,766.35 L539.23,766.88 L539.98,767.12 L540.62,766.48 L541.24,765.73 L541.84,764.87 L542.57,764.91 L543.42,766.01 L544.18,766.33 L544.76,765.16 L545.36,764.16 L546.06,764.00 L546.77,763.89 L547.58,764.69 L548.42,765.62 L549.07,765.05 L549.73,764.52 L550.45,764.50 L551.12,764.09 L551.82,763.89 L552.54,763.91 L553.19,763.32 L553.85,762.77 L554.63,763.30 L555.31,762.94 L555.79,760.98 L556.43,760.18 L557.35,761.49 L558.26,762.66 L559.03,762.47 L559.79,762.17 L560.59,762.15 L561.34,761.66 L562.03,760.71 L562.78,760.36 L563.62,760.73 L564.42,760.88 L565.15,760.64 L565.83,760.06 L566.51,759.77 L567.24,760.02 L567.91,760.07 L568.41,759.05 L568.88,758.03 L569.42,757.87 L569.88,757.51 L570.77,757.46 L571.54,757.63 L572.19,757.39 L572.80,757.06 L573.47,756.86 L573.64,757.91 L573.76,758.52 L573.76,758.18 L573.79,758.10 L574.02,759.64 L574.25,761.15 L574.37,761.81 L574.51,762.60 L574.60,763.06 L574.74,763.81 L575.00,765.63 L575.04,765.27 L574.95,763.74 L574.92,762.84 L574.92,762.07 L574.82,760.50 L574.84,759.95 L574.97,760.38 L574.98,759.70 L574.87,758.09 L574.84,757.14 L574.85,756.48 L574.80,755.36 L574.81,754.72 L574.79,753.79 L574.75,752.76 L574.88,753.14 L575.00,753.43 L574.95,752.24 L574.80,750.28 L574.74,749.09 L574.76,748.53 L574.86,748.59 L574.96,748.74 L574.89,747.46 L574.85,746.42 L574.92,746.23 L574.98,746.06 L574.97,745.26 L574.91,743.96 L574.93,743.42 L574.90,742.48 L574.83,741.20 L574.83,740.42 L574.87,740.04 L574.94,739.90 L575.25,739.11 L575.57,738.63 L575.92,738.00 L576.27,736.57 L576.66,736.24 L577.17,736.73 L577.75,737.41 L578.42,738.57 L579.06,739.10 L579.67,739.01 L580.41,739.65 L581.18,740.11 L581.76,740.22 L582.42,740.64 L583.01,740.20 L583.59,739.49 L584.32,739.74 L585.13,740.46 L585.89,740.58 L586.59,740.15 L587.29,739.47 L588.03,739.13 L588.84,739.29 L589.58,738.84 L590.30,738.25 L591.08,738.14 L591.71,738.02 L592.32,737.58 L592.88,736.73 L593.56,736.73 L594.31,737.34 L594.86,736.19 L595.42,735.12 L596.26,736.33 L597.16,737.92 L597.84,737.70 L598.43,736.68 L599.13,736.52 L599.80,736.01 L600.44,735.26 L601.23,735.74 L602.09,736.73 L602.82,736.67 L603.40,735.27 L604.02,734.17 L604.83,734.71 L605.63,735.81 L606.34,736.16 L607.01,736.07 L607.67,735.89 L608.29,735.28 L608.95,735.04 L609.73,735.69 L610.48,736.15 L611.21,736.37 L611.89,736.05 L612.41,734.51 L612.99,733.33 L613.83,734.35 L614.71,735.77 L615.40,735.48 L616.09,735.19 L616.84,735.48 L617.67,736.40 L618.46,736.89 L619.02,735.57 L619.62,734.57 L620.34,734.61 L621.10,734.97 L621.80,734.89 L622.49,734.73 L623.30,735.52" fill="none" stroke="#ff0000" stroke-width="5.1" stroke-linecap="round" stroke-linejoin="round"/>
<path d="M667.73,737.17 L668.39,736.63 L669.05,736.10 L669.71,735.49 L670.41,735.31 L671.18,735.74 L671.89,735.61 L672.64,735.83 L673.41,736.26 L674.07,735.72 L674.80,735.80 L675.67,736.94 L676.43,737.17 L677.08,736.53 L677.80,736.34 L678.51,736.15 L679.27,736.27 L680.01,736.16 L680.66,735.89 L681.46,736.85 L682.21,737.39 L682.82,736.70 L683.42,735.94 L684.13,736.02 L684.92,736.78 L685.56,736.28 L686.19,735.63 L686.91,735.77 L687.56,735.32 L688.20,734.73 L688.95,735.12 L689.87,736.88 L690.65,737.52 L691.20,736.18 L691.81,735.41 L692.52,735.45 L693.26,735.78 L694.07,736.65 L694.20,737.51 L694.23,737.53 L694.29,737.77 L694.41,738.58 L694.62,740.08 L694.72,740.68 L695.41,740.82 L696.16,741.74 L696.86,742.17 L697.65,742.75 L698.57,743.42 L699.10,743.12 L699.63,742.28 L700.31,742.25 L701.07,742.58 L701.88,742.90 L702.69,743.14 L703.47,742.92 L704.34,743.42 L705.12,743.26 L705.74,741.90 L706.47,741.66 L707.25,742.21 L708.01,742.85 L708.70,743.52 L709.44,743.84 L710.11,744.04 L710.73,744.32 L711.37,744.96 L712.03,745.89 L712.62,746.21 L713.16,746.06 L713.77,746.24 L714.44,746.60 L715.04,746.72 L715.69,747.18 L716.45,748.42 L717.14,749.04 L717.73,748.70 L718.35,748.54 L719.02,748.74 L719.68,748.70 L720.41,749.25 L721.35,751.37 L722.13,752.02 L722.58,750.06 L723.19,749.33 L724.00,750.26 L724.69,750.08 L725.24,748.67 L725.95,748.41 L726.74,748.81 L727.51,748.84 L728.34,749.30 L729.12,749.14 L729.88,748.71 L730.68,748.47 L731.28,748.10 L731.93,747.98 L732.65,748.26 L733.39,748.52 L734.05,748.03 L734.71,747.36 L735.39,746.88 L736.10,746.44 L736.85,746.35 L737.69,747.01 L738.55,747.80 L739.27,747.44 L739.97,746.92 L740.74,747.05 L741.44,746.63 L742.06,745.68 L742.67,744.76 L743.32,744.29 L744.02,744.39 L744.62,743.88 L745.14,742.89 L745.98,743.30 L746.86,744.38 L747.55,744.09 L748.16,743.37 L748.77,742.78 L749.39,742.27 L750.08,742.45 L750.74,742.36 L751.34,741.70 L752.02,741.64 L752.72,741.49 L753.36,740.75 L754.07,740.26 L754.73,740.17 L755.41,740.27 L756.09,740.43 L756.76,740.39 L757.44,740.37 L758.15,740.60 L758.78,740.00 L759.37,739.11 L760.12,739.35 L760.89,739.76 L761.67,740.08 L762.53,740.98 L763.33,741.22 L763.99,740.11 L764.68,739.21 L765.51,739.24 L766.32,738.92 L767.17,738.72 L767.92,740.12 L768.62,740.93 L769.17,740.26 L769.83,740.34 L770.51,740.32 L771.09,739.36 L771.79,739.21 L772.58,739.74 L773.31,739.53 L774.01,739.03 L774.81,739.21 L775.65,739.66 L776.42,739.41 L777.12,738.54 L777.91,738.38 L778.77,738.71 L779.63,739.08 L780.48,739.29 L781.35,739.72 L782.23,740.22 L782.98,739.64 L783.79,739.56 L784.65,740.04 L785.41,739.71 L786.10,738.85 L786.82,738.32 L787.64,738.70 L788.45,739.20 L789.20,739.27 L789.93,739.36 L790.60,739.07 L791.19,738.25 L791.88,738.48 L792.61,739.25 L793.15,738.55 L793.71,738.38 L794.38,739.26 L794.85,738.72 L795.32,738.49 L795.85,738.97 L796.22,738.45 L796.64,738.60 L797.71,739.43 L798.61,740.16 L799.42,741.16 L800.11,741.76 L800.71,742.01 L801.20,741.32 L801.73,740.07 L802.23,739.25 L802.95,738.76 L803.46,738.72 L804.06,739.03 L804.66,738.97 L805.22,738.12 L805.84,737.41 L806.64,737.85 L807.60,739.07 L808.47,739.21 L809.33,738.80 L810.32,739.07 L811.37,739.42 L811.84,739.47 L812.29,739.27 L812.73,738.85 L813.21,738.60 L813.68,738.13 L814.20,737.95 L814.80,738.32 L815.31,737.81 L815.90,737.84 L816.61,738.72 L817.26,739.03 L817.95,739.50 L818.68,740.23 L819.35,740.40 L819.94,739.72 L820.57,739.31 L821.25,739.29 L821.86,738.50 L822.55,738.41 L823.32,738.87 L824.01,738.51 L824.70,738.14 L825.48,738.49 L826.21,738.29 L826.89,737.66 L827.76,738.59 L828.60,739.16 L829.31,738.63 L830.04,738.23 L830.80,738.11 L831.74,739.35 L832.59,739.87 L833.26,738.84 L834.02,738.59 L834.79,738.33 L835.51,737.71 L836.29,737.61 L837.07,737.42 L837.80,736.86 L838.65,737.32 L839.58,738.47 L840.38,738.51 L841.14,738.27 L841.94,738.32 L842.66,737.77 L843.33,736.85 L844.12,737.03 L845.03,738.14 L845.80,738.16 L846.44,737.22 L847.15,736.78 L847.93,737.12 L848.76,737.82 L849.51,738.02 L850.18,737.56 L850.84,737.07" fill="none" stroke="#008000" stroke-width="5.1" stroke-linecap="round" stroke-linejoin="round"/>
<path d="M667.64,736.39 L668.32,736.01 L669.02,735.79 L669.75,735.90 L670.50,736.09 L671.29,736.61 L672.00,736.52 L672.66,736.06 L673.41,736.25 L674.12,736.10 L674.77,735.48 L675.43,734.95 L676.12,734.62 L676.91,735.12 L677.79,736.31 L678.58,736.69 L679.25,736.13 L680.00,736.11 L680.73,736.55 L681.44,736.75 L682.15,736.90 L682.87,737.11 L683.51,736.65 L684.13,736.00 L684.76,735.46 L685.39,734.87 L686.15,735.36 L686.96,736.22 L687.68,736.34 L688.39,736.32 L689.15,736.84 L689.86,736.82 L690.45,735.85 L691.13,735.64 L691.91,736.23 L692.64,736.48 L693.35,736.54 L694.02,736.27 L694.09,736.62 L694.28,737.99 L694.49,739.46 L694.59,740.08 L694.64,740.24 L694.71,740.60 L695.42,740.94 L696.04,740.75 L696.65,740.37 L697.44,740.95 L698.36,741.67 L698.91,741.58 L699.54,741.53 L700.26,741.85 L701.02,742.17 L701.82,742.41 L702.63,742.59 L703.48,742.97 L704.32,743.32 L705.11,743.23 L705.85,742.79 L706.46,741.61 L707.12,741.06 L707.96,742.45 L708.72,743.67 L709.42,743.64 L710.03,743.39 L710.69,743.96 L711.38,745.00 L711.98,745.46 L712.61,746.18 L713.29,747.15 L713.97,747.95 L714.66,748.44 L715.22,748.23 L715.84,748.44 L716.47,748.57 L717.05,748.28 L717.70,748.46 L718.34,748.50 L719.02,748.73 L719.75,749.29 L720.50,749.95 L721.25,750.50 L721.89,750.00 L722.53,749.67 L723.26,749.90 L723.95,749.86 L724.65,749.74 L725.31,749.19 L725.92,748.14 L726.59,747.51 L727.46,748.44 L728.40,749.81 L729.19,749.70 L729.90,748.88 L730.67,748.35 L731.31,748.32 L731.94,748.03 L732.53,747.22 L733.19,746.87 L733.97,747.39 L734.75,747.71 L735.46,747.44 L736.21,747.37 L737.01,747.74 L737.82,748.05 L738.48,747.19 L739.17,746.62 L739.98,747.02 L740.72,746.90 L741.36,746.02 L742.01,745.31 L742.80,745.89 L743.53,746.08 L744.08,744.91 L744.61,743.82 L745.25,743.75 L746.09,744.25 L746.82,744.06 L747.42,743.05 L748.09,742.75 L748.86,743.45 L749.51,743.26 L750.11,742.66 L750.73,742.27 L751.32,741.56 L751.96,741.11 L752.66,741.00 L753.41,741.12 L754.17,741.07 L754.81,740.85 L755.43,740.47 L756.11,740.57 L756.78,740.56 L757.38,739.86 L758.03,739.54 L758.74,739.73 L759.48,739.98 L760.16,739.69 L760.85,739.45 L761.66,739.98 L762.43,740.17 L763.14,739.61 L763.91,739.48 L764.72,739.52 L765.51,739.24 L766.36,739.20 L767.27,739.55 L767.83,739.42 L768.39,739.02 L769.03,739.10 L769.68,739.11 L770.46,739.97 L771.24,740.62 L771.84,739.67 L772.51,739.18 L773.32,739.63 L774.10,739.81 L774.78,738.95 L775.43,737.84 L776.25,738.02 L777.18,739.04 L778.07,739.75 L778.89,739.74 L779.67,739.37 L780.45,739.08 L781.27,739.07 L782.14,739.48 L782.93,739.18 L783.68,738.67 L784.57,739.37 L785.42,739.73 L786.07,738.60 L786.75,737.71 L787.51,737.67 L788.30,737.94 L789.12,738.61 L789.89,738.98 L790.58,738.90 L791.31,739.23 L792.00,739.47 L792.54,738.67 L793.01,737.46 L793.59,737.34 L794.26,738.22 L794.83,738.55 L795.35,738.75 L795.89,739.29 L796.29,738.98 L796.58,738.10 L797.58,738.39 L798.51,739.37 L799.31,740.23 L799.99,740.73 L800.47,739.95 L800.99,739.55 L801.70,739.81 L802.18,738.80 L802.89,738.32 L803.46,738.72 L804.08,739.17 L804.79,740.04 L805.42,739.82 L806.04,739.08 L806.83,739.35 L807.72,740.09 L808.51,739.55 L809.34,738.94 L810.29,738.86 L811.21,738.05 L811.67,738.07 L812.23,738.80 L812.70,738.64 L813.21,738.67 L813.87,739.72 L814.40,739.68 L814.84,738.66 L815.38,738.43 L815.95,738.27 L816.58,738.47 L817.27,739.05 L817.87,738.88 L818.48,738.56 L819.09,738.24 L819.76,738.23 L820.48,738.63 L821.19,738.75 L821.89,738.83 L822.55,738.41 L823.27,738.44 L824.08,739.13 L824.76,738.70 L825.41,737.89 L826.17,738.01 L827.05,739.00 L827.89,739.64 L828.58,738.99 L829.22,737.87 L829.92,737.30 L830.73,737.47 L831.57,737.98 L832.37,738.06 L833.18,738.17 L833.99,738.35 L834.71,737.70 L835.49,737.53 L836.37,738.23 L837.17,738.30 L837.96,738.16 L838.73,737.99 L839.51,737.87 L840.44,739.02 L841.36,740.08 L842.09,739.57 L842.80,738.99 L843.58,738.95 L844.33,738.73 L845.07,738.47 L845.79,738.06 L846.53,737.93 L847.24,737.57 L847.90,736.81 L848.72,737.54 L849.48,737.73 L850.06,736.59 L850.84,737.11" fill="none" stroke="#008000" stroke-width="5.1" stroke-linecap="round" stroke-linejoin="round"/>
<line x1="189.5" y1="734.0" x2="863.9" y2="736.9" stroke="#000" stroke-width="5.8" stroke-linecap="round" stroke-dasharray="0 9.916"/>
<path d="M200.60,899.75 L201.28,899.39 L202.01,899.48 L202.76,899.81 L203.37,898.95 L203.94,897.70 L204.67,897.80 L205.47,898.54 L206.22,898.80 L206.92,898.69 L207.70,899.21 L208.40,899.01 L209.01,898.09 L209.84,899.01 L210.67,899.92 L211.35,899.50 L212.02,899.09 L212.74,899.04 L213.51,899.19 L214.26,898.96 L215.05,898.83 L215.88,898.98 L216.67,898.76 L217.48,898.69 L218.27,898.53 L219.06,898.51 L219.90,899.07 L220.62,898.87 L221.26,898.35 L221.91,898.24 L222.55,898.52 L223.20,899.35 L223.75,899.89 L224.13,899.58 L224.74,898.35 L225.09,897.17 L225.43,895.93 L225.76,896.59 L226.18,898.03 L226.28,899.35 L226.31,900.15 L226.32,900.71 L226.39,901.80 L226.39,902.29 L226.31,902.13 L226.30,902.51 L226.38,903.72 L226.48,905.03 L226.49,905.61 L226.54,906.48 L226.57,907.27 L226.51,907.27 L226.51,907.75 L226.54,908.54 L226.51,908.72 L226.47,908.92 L226.54,910.01 L226.66,911.47 L226.77,912.87 L226.77,913.41 L226.69,913.21 L226.69,913.75 L226.76,914.81 L226.87,916.20 L226.92,917.12 L226.93,917.75 L226.97,918.53 L226.91,918.54 L226.84,918.51 L226.84,918.99 L226.90,919.97 L227.01,921.35 L227.11,922.74 L227.14,923.50 L227.07,923.39 L227.03,923.52 L227.06,924.28 L227.09,925.03 L227.11,925.70 L227.12,926.30 L227.14,926.98 L227.19,927.88 L227.22,928.64 L227.21,929.07 L227.22,929.62 L227.32,930.94 L227.42,932.31 L227.43,932.84 L227.36,932.75 L227.30,932.75 L227.30,933.24 L227.34,934.11 L227.42,935.23 L227.43,935.85 L227.45,936.51 L227.52,937.54 L227.50,937.94 L227.51,938.49 L227.61,939.83 L227.77,941.64 L227.84,942.72 L227.76,942.52 L227.71,942.63 L227.74,943.35 L227.77,944.13 L227.89,945.62 L227.97,946.79 L227.88,946.54 L227.83,946.62 L227.88,947.53 L227.93,948.43 L227.97,949.27 L227.99,949.88 L228.04,950.85 L228.16,952.35 L228.10,952.37 L228.01,952.19 L228.09,953.44 L228.09,954.05 L228.08,954.56 L228.15,955.76 L228.19,956.81 L228.22,957.68 L228.24,958.52 L228.28,959.56 L228.30,960.42 L228.30,961.09 L228.29,961.73 L228.27,962.22 L228.29,963.14 L228.37,964.49 L228.39,965.39 L228.42,966.42 L228.55,968.25 L228.52,968.75 L228.40,968.52 L228.43,969.50 L228.45,970.41 L228.41,970.83 L228.45,971.88 L228.51,973.10 L228.46,973.47 L228.42,973.87 L228.50,975.29 L228.65,977.22 L228.62,977.71 L228.47,977.20 L228.49,978.02 L228.56,979.31 L228.55,979.94 L228.52,980.38 L228.54,981.18 L228.57,982.14 L228.61,983.08 L228.76,984.97 L228.86,986.38 L228.82,986.63 L228.84,987.37 L228.80,987.68 L228.73,987.60 L228.72,988.06 L228.75,988.82 L228.85,990.10 L228.95,991.46 L228.98,992.10 L228.91,991.93 L228.87,992.06 L229.01,993.53 L229.14,995.03 L229.13,995.27 L229.04,994.75 L228.98,994.59 L229.10,995.77 L229.21,996.88 L229.26,997.49 L229.34,998.32 L229.33,998.31 L229.30,998.18 L229.37,998.84 L229.50,999.92 L229.59,1000.63 L229.54,1000.14 L229.52,999.89 L229.67,1001.00 L229.86,1002.39 L229.92,1002.69 L229.93,1002.51 L230.29,1004.07 L230.63,1005.09 L230.91,1005.03 L231.24,1004.77 L231.89,1004.89 L232.74,1005.50 L233.36,1006.13 L233.96,1006.11 L234.61,1006.07 L235.23,1005.65 L235.76,1004.29 L236.27,1003.82 L236.82,1003.46 L237.25,1001.91 L237.75,1000.93 L238.34,1000.61 L238.92,1000.19 L239.50,999.65 L240.09,999.30 L240.71,998.99 L241.24,997.92 L241.78,996.95 L242.38,996.35 L243.07,996.42 L243.86,997.14 L244.55,996.95 L244.97,996.39 L245.44,996.21 L245.86,995.56 L246.24,994.47 L246.70,993.99 L247.25,994.22 L247.75,993.96 L248.14,992.69 L248.58,991.91 L249.11,991.79 L249.61,991.38 L250.08,990.71 L250.50,989.69 L250.89,988.37 L251.30,987.24 L251.76,986.57 L252.45,987.26 L253.15,987.97 L253.64,986.94 L254.13,985.84 L254.70,985.38 L255.22,984.49 L255.71,983.38 L256.29,983.01 L256.93,983.12 L257.50,982.76 L258.03,982.10 L258.59,981.68 L259.11,981.02 L259.72,980.31 L260.38,980.11 L261.07,980.33 L261.81,981.01 L262.51,981.22 L263.09,980.45 L263.67,979.43 L264.28,978.45 L264.96,977.76 L265.67,978.34 L266.45,979.35 L267.11,979.14 L267.70,978.10 L268.33,977.35 L269.05,977.15 L269.78,977.01 L270.50,976.70 L271.19,976.18 L271.87,975.56 L272.58,975.28 L273.32,975.38 L274.01,975.15 L274.65,974.71 L275.34,974.84 L276.02,974.42 L276.64,973.73 L277.31,973.70 L277.95,973.59 L278.59,973.41 L279.22,973.20 L279.78,972.36 L280.41,971.95 L281.20,972.57 L282.01,973.10 L282.82,973.30 L283.30,972.30 L283.82,971.42 L284.51,971.89 L285.18,971.95 L285.91,972.45 L286.70,973.29 L287.30,972.44 L287.86,971.14 L288.51,970.59 L289.24,970.56 L290.06,971.26 L290.81,971.30 L291.48,970.73 L292.28,971.13 L293.09,971.65 L293.78,971.21 L294.41,970.27 L295.07,969.63 L295.76,969.23 L296.49,969.32 L297.28,969.93 L298.06,970.41 L298.80,970.59 L299.45,970.06 L300.05,969.01 L300.75,968.88 L301.57,969.64 L302.27,969.48 L302.88,968.56 L303.51,967.79 L304.23,967.78 L304.98,968.06 L305.68,967.88 L306.43,968.10 L307.15,968.08 L307.75,967.03 L308.40,966.46 L309.22,967.30 L309.98,967.59 L310.55,966.36 L311.23,965.98 L312.04,966.69 L312.73,966.43 L313.44,966.08 L314.23,966.28 L314.96,965.98 L315.69,965.55 L316.42,965.01 L317.17,964.67 L317.95,964.62 L318.65,963.86 L319.36,963.22 L320.21,963.93 L321.11,965.00 L321.91,965.51 L322.65,965.56 L323.32,965.21 L323.94,964.69 L324.50,963.77 L325.05,963.11 L325.62,962.87 L326.16,962.66 L326.70,962.72 L327.59,962.47 L328.34,961.99 L329.01,961.55 L329.73,961.72 L330.45,961.97 L331.10,961.27 L331.13,961.69 L331.27,962.97 L331.37,964.00 L331.36,964.05 L331.32,963.86 L331.34,964.18 L331.49,965.56 L331.68,967.33 L331.77,968.24 L331.86,969.13 L331.96,970.12 L332.01,970.64 L332.03,971.00 L332.01,970.95 L332.05,971.42 L332.21,972.86 L332.32,973.98 L332.36,974.44 L332.38,974.72 L332.52,976.09 L332.61,976.02 L332.54,974.61 L332.56,973.96 L332.64,973.74 L332.60,972.63 L332.52,971.09 L332.49,970.05 L332.58,969.97 L332.66,969.85 L332.70,969.38 L332.68,968.32 L332.65,967.32 L332.69,966.79 L332.68,965.86 L332.72,965.37 L332.84,965.54 L332.85,964.86 L332.81,963.72 L332.84,963.16 L332.87,962.58 L332.86,961.61 L332.83,960.56 L332.84,959.81 L332.88,959.33 L332.91,958.74 L332.88,957.72 L332.85,956.60 L332.88,956.05 L332.90,955.37 L332.87,954.30 L332.92,953.93 L333.00,953.73 L332.98,952.80 L332.96,951.76 L332.96,950.95 L333.00,950.46 L333.05,950.05 L332.98,948.66 L332.88,947.02 L332.93,946.62 L333.05,946.82 L333.09,946.28 L333.03,944.97 L333.00,943.94 L333.04,943.45 L333.06,942.73 L333.08,942.11 L333.12,941.59 L333.14,940.94 L333.16,940.32 L333.15,939.42 L333.16,938.64 L333.25,938.58 L333.38,938.87 L333.44,938.51 L333.36,937.05 L333.27,935.47 L333.31,934.96 L334.11,935.35 L334.79,934.65 L335.40,933.50 L336.12,933.19 L336.88,933.19 L337.40,933.37 L337.82,932.92 L338.22,932.45 L338.67,932.34 L339.07,931.86 L339.49,931.32 L339.84,930.01 L340.28,929.21 L340.84,928.98 L341.31,927.60 L341.72,927.08 L342.24,927.29 L342.68,926.67 L343.09,925.61 L343.60,925.15 L344.22,925.60 L344.78,925.31 L345.27,924.35 L345.80,923.55 L346.30,922.51 L346.82,921.42 L347.40,920.86 L348.12,921.36 L348.84,921.78 L349.46,921.37 L350.06,920.80 L350.63,919.85 L351.13,918.42 L351.75,917.93 L352.48,918.38 L353.16,918.53 L353.80,918.21 L354.37,917.31 L354.99,916.75 L355.69,916.79 L356.31,916.11 L356.92,915.35 L357.64,915.36 L358.34,915.25 L359.04,915.04 L359.82,915.53 L360.69,916.70 L361.53,917.54 L362.18,916.89 L362.79,915.88 L363.50,915.68 L364.20,915.44 L364.88,914.94 L365.56,914.52 L366.22,913.98 L366.95,914.06 L367.74,914.63 L368.43,914.37 L369.09,913.92 L369.79,913.71 L370.46,913.30 L371.12,912.80 L371.86,913.00 L372.66,913.64 L373.30,912.98 L373.92,912.13 L374.65,912.19 L375.35,912.04 L376.09,912.19 L376.82,912.25 L377.46,911.61 L378.15,911.33 L378.89,911.45 L379.65,911.78 L380.41,912.18 L381.13,912.10 L381.83,911.93 L382.60,912.37" fill="none" stroke="#000" stroke-width="5.1" stroke-linecap="round" stroke-linejoin="round"/>
<path d="M200.46,898.61 L201.29,899.52 L202.00,899.44 L202.69,899.21 L203.39,899.07 L204.06,898.68 L204.76,898.56 L205.58,899.43 L206.38,900.16 L207.03,899.55 L207.67,898.97 L208.41,899.13 L209.15,899.27 L209.84,899.02 L210.55,898.93 L211.33,899.38 L212.12,899.92 L212.79,899.47 L213.42,898.43 L214.18,898.32 L215.07,899.03 L215.96,899.70 L216.78,899.71 L217.61,899.77 L218.46,900.12 L219.23,899.95 L220.03,900.17 L220.83,900.62 L221.49,900.32 L222.08,899.68 L222.59,898.88 L223.00,897.69 L223.42,897.16 L223.93,897.90 L224.75,898.43 L225.18,897.94 L225.56,897.00 L225.93,898.03 L226.32,899.19 L226.29,899.43 L226.17,898.93 L226.14,899.19 L226.18,900.00 L226.28,901.35 L226.39,902.78 L226.34,902.85 L226.30,903.02 L226.40,904.31 L226.47,905.46 L226.49,906.10 L226.54,907.03 L226.55,907.62 L226.44,907.19 L226.37,907.05 L226.42,907.97 L226.56,909.65 L226.68,911.17 L226.63,911.28 L226.61,911.54 L226.70,912.82 L226.72,913.48 L226.74,914.12 L226.85,915.58 L226.91,916.55 L226.85,916.59 L226.79,916.54 L226.73,916.59 L226.76,917.29 L226.90,918.97 L226.96,919.96 L226.93,920.21 L227.08,921.94 L227.20,923.47 L227.03,922.53 L226.94,922.34 L227.06,923.84 L227.10,924.59 L227.12,925.29 L227.19,926.36 L227.24,927.26 L227.29,928.23 L227.34,929.14 L227.36,929.78 L227.26,929.48 L227.22,929.61 L227.30,930.76 L227.33,931.50 L227.40,932.64 L227.42,933.24 L227.36,933.25 L227.45,934.49 L227.51,935.49 L227.47,935.68 L227.48,936.24 L227.48,936.74 L227.47,937.20 L227.57,938.53 L227.71,940.18 L227.74,940.89 L227.70,941.04 L227.70,941.57 L227.74,942.42 L227.78,943.23 L227.74,943.41 L227.73,943.76 L227.80,944.88 L227.74,944.90 L227.71,945.10 L227.83,946.58 L227.87,947.42 L227.90,948.19 L227.95,949.06 L227.98,949.80 L228.03,950.76 L228.04,951.36 L228.01,951.70 L228.01,952.26 L228.03,952.99 L228.06,953.81 L228.17,955.30 L228.29,956.98 L228.31,957.78 L228.22,957.71 L228.18,958.06 L228.29,959.63 L228.41,961.32 L228.36,961.59 L228.21,961.03 L228.22,961.81 L228.33,963.44 L228.35,964.37 L228.29,964.62 L228.37,965.96 L228.53,968.07 L228.45,968.16 L228.30,967.62 L228.38,969.09 L228.48,970.65 L228.45,971.13 L228.46,971.97 L228.43,972.47 L228.36,972.59 L228.43,973.92 L228.58,975.93 L228.60,976.81 L228.56,977.18 L228.56,977.96 L228.55,978.53 L228.56,979.29 L228.54,979.89 L228.52,980.39 L228.58,981.52 L228.53,981.75 L228.44,981.62 L228.50,982.78 L228.58,984.05 L228.59,984.78 L228.62,985.55 L228.60,985.95 L228.62,986.73 L228.78,988.55 L228.86,989.75 L228.86,990.20 L228.87,990.75 L228.89,991.38 L228.88,991.74 L228.84,991.75 L228.87,992.37 L229.02,993.98 L229.14,995.30 L229.20,996.09 L229.20,996.40 L229.13,996.03 L229.13,996.29 L229.25,997.41 L229.41,998.94 L229.48,999.60 L229.44,999.35 L229.47,999.62 L229.47,999.66 L229.47,999.64 L229.53,1000.05 L229.63,1000.85 L229.80,1002.08 L229.90,1002.75 L229.94,1002.90 L229.88,1002.17 L230.09,1002.43 L230.50,1004.03 L230.84,1004.43 L231.15,1004.06 L231.96,1005.52 L232.92,1007.03 L233.43,1006.72 L233.90,1005.55 L234.50,1005.17 L235.12,1004.71 L235.69,1003.73 L236.21,1003.27 L236.79,1003.15 L237.36,1002.85 L237.88,1002.02 L238.34,1000.64 L238.90,1000.00 L239.61,1000.61 L240.21,1000.29 L240.71,998.98 L241.32,998.61 L241.93,998.18 L242.49,997.29 L243.25,997.92 L244.02,998.52 L244.57,997.10 L244.96,996.35 L245.48,996.57 L245.88,995.77 L246.26,994.63 L246.70,993.95 L247.11,993.01 L247.48,991.65 L247.90,990.74 L248.45,990.80 L249.03,991.14 L249.56,990.96 L249.98,989.92 L250.34,988.36 L250.88,988.25 L251.46,988.59 L251.84,987.17 L252.28,985.78 L252.88,985.68 L253.50,985.77 L254.14,985.90 L254.80,986.21 L255.42,986.17 L255.98,985.57 L256.46,984.38 L256.93,983.12 L257.43,982.15 L258.02,981.97 L258.72,982.79 L259.32,982.83 L259.87,981.54 L260.46,980.78 L261.15,980.97 L261.80,980.89 L262.36,980.02 L262.95,979.32 L263.64,979.21 L264.37,979.20 L265.15,979.31 L265.78,979.26 L266.36,978.62 L267.02,978.34 L267.76,978.64 L268.48,978.58 L269.18,978.21 L269.87,977.75 L270.55,977.15 L271.20,976.25 L271.79,974.90 L272.43,974.05 L273.21,974.45 L274.03,975.31 L274.74,975.44 L275.34,974.87 L276.07,974.83 L276.78,974.90 L277.29,973.59 L277.78,972.12 L278.42,971.99 L279.17,972.79 L279.91,973.49 L280.58,973.35 L281.24,972.94 L281.97,972.83 L282.70,972.30 L283.23,971.68 L283.87,971.86 L284.59,972.50 L285.22,972.26 L285.76,971.14 L286.41,970.85 L287.24,971.92 L288.00,972.33 L288.56,970.98 L289.22,970.40 L290.06,971.20 L290.81,971.32 L291.49,970.81 L292.25,970.86 L292.96,970.58 L293.62,969.88 L294.41,970.27 L295.24,971.04 L296.01,971.33 L296.70,971.09 L297.29,969.99 L297.95,969.51 L298.77,970.33 L299.48,970.25 L300.12,969.64 L300.89,969.99 L301.60,969.94 L302.16,968.55 L302.74,967.39 L303.48,967.54 L304.22,967.68 L304.92,967.58 L305.64,967.50 L306.34,967.37 L307.15,968.11 L307.90,968.31 L308.52,967.48 L309.21,967.23 L309.92,967.09 L310.61,966.88 L311.35,967.00 L312.06,966.87 L312.73,966.39 L313.44,966.05 L314.16,965.71 L314.92,965.59 L315.73,965.83 L316.47,965.47 L317.11,964.21 L317.90,964.15 L318.81,965.21 L319.64,965.57 L320.35,965.09 L321.00,964.13 L321.73,964.00 L322.54,964.67 L323.26,964.73 L323.84,963.80 L324.43,963.25 L325.08,963.39 L325.63,962.93 L326.16,962.61 L326.66,962.39 L327.46,961.35 L328.28,961.52 L329.11,962.31 L329.73,961.77 L330.37,961.32 L331.15,961.71 L331.27,962.87 L331.28,963.08 L331.25,962.96 L331.35,963.94 L331.50,965.33 L331.53,965.73 L331.57,966.27 L331.73,967.74 L331.90,969.29 L331.94,969.77 L331.85,969.14 L331.84,969.21 L331.95,970.32 L332.06,971.39 L332.17,972.38 L332.19,972.72 L332.18,972.81 L332.31,974.05 L332.41,975.01 L332.48,975.74 L332.55,975.48 L332.53,974.47 L332.53,973.68 L332.64,973.75 L332.64,972.94 L332.58,971.61 L332.56,970.64 L332.51,969.39 L332.50,968.51 L332.59,968.44 L332.67,968.27 L332.66,967.36 L332.59,965.96 L332.53,964.61 L332.61,964.45 L332.78,965.08 L332.78,964.29 L332.75,963.17 L332.83,963.04 L332.84,962.25 L332.76,960.81 L332.79,960.22 L332.88,960.18 L332.94,959.85 L332.97,959.29 L332.92,957.99 L332.83,956.44 L332.81,955.45 L332.84,954.93 L332.92,954.71 L332.97,954.35 L333.00,953.79 L332.97,952.70 L332.91,951.38 L332.91,950.52 L332.95,950.03 L332.97,949.41 L332.94,948.32 L332.93,947.45 L332.96,946.85 L332.99,946.29 L333.09,946.31 L333.17,946.18 L333.09,944.68 L333.01,943.17 L333.09,943.04 L333.20,943.14 L333.23,942.53 L333.27,942.06 L333.36,941.97 L333.34,940.99 L333.30,939.81 L333.27,938.76 L333.19,937.30 L333.18,936.35 L333.22,935.86 L333.32,935.90 L333.39,935.67 L334.10,935.22 L334.81,934.85 L335.51,934.42 L336.20,933.88 L336.81,932.65 L337.28,932.36 L337.80,932.80 L338.20,932.23 L338.56,931.44 L338.95,930.85 L339.35,930.16 L339.73,929.15 L340.15,928.14 L340.69,927.75 L341.27,927.25 L341.68,926.75 L342.22,927.10 L342.70,926.77 L343.04,925.13 L343.51,924.40 L344.08,924.42 L344.64,924.17 L345.18,923.57 L345.71,922.84 L346.30,922.50 L346.91,922.19 L347.55,922.09 L348.21,922.08 L348.73,920.87 L349.19,919.16 L349.83,918.82 L350.56,919.27 L351.19,918.87 L351.75,917.90 L352.35,917.36 L353.03,917.45 L353.70,917.39 L354.32,916.94 L355.02,917.03 L355.77,917.52 L356.47,917.52 L357.12,916.97 L357.72,916.03 L358.39,915.61 L359.21,916.46 L360.02,917.19 L360.74,917.10 L361.41,916.60 L362.07,916.00 L362.76,915.58 L363.49,915.60 L364.23,915.64 L364.96,915.67 L365.74,916.04 L366.40,915.52 L367.00,914.51 L367.64,913.79 L368.27,913.08 L368.99,913.06 L369.83,914.08 L370.62,914.62 L371.25,913.91 L371.93,913.56 L372.62,913.30 L373.30,912.95 L373.96,912.47 L374.62,911.93 L375.45,912.89 L376.26,913.60 L376.88,912.72 L377.51,911.98 L378.23,911.97 L378.93,911.82 L379.59,911.34 L380.31,911.28 L381.02,911.25 L381.71,910.92 L382.43,910.92" fill="none" stroke="#000" stroke-width="5.1" stroke-linecap="round" stroke-linejoin="round"/>
<path d="M441.25,900.86 L441.95,900.64 L442.60,900.00 L443.31,899.87 L444.12,900.52 L444.94,901.21 L445.60,900.69 L446.20,899.58 L447.01,900.17 L447.91,901.60 L448.59,901.22 L449.18,900.08 L449.92,900.17 L450.77,901.21 L451.61,902.25 L452.32,902.19 L452.91,901.23 L453.63,901.35 L454.39,901.79 L455.05,901.51 L455.82,901.76 L456.55,901.70 L457.26,901.53 L458.03,901.85 L458.69,901.35 L459.27,900.21 L459.94,899.85 L460.74,900.57 L461.55,901.41 L462.19,900.88 L462.79,899.98 L463.60,900.78 L464.41,901.63 L465.12,901.68 L465.80,901.33 L466.45,900.84 L466.56,900.06 L466.65,899.09 L466.72,897.94 L466.84,897.27 L466.97,896.65 L467.03,895.41 L467.12,895.47 L467.33,896.48 L467.63,898.28 L467.85,899.44 L467.82,899.59 L467.83,900.05 L467.92,901.16 L467.89,901.30 L467.90,901.74 L468.01,903.13 L468.09,904.18 L468.22,905.62 L468.23,906.16 L468.09,905.39 L468.03,905.27 L468.18,906.94 L468.41,909.23 L468.47,910.16 L468.37,909.74 L468.29,909.48 L468.35,910.40 L468.46,911.72 L468.53,912.70 L468.57,913.43 L468.56,913.72 L468.52,913.77 L468.62,915.03 L468.73,916.34 L468.73,916.70 L468.87,918.27 L469.02,919.92 L468.93,919.56 L468.87,919.44 L468.91,920.18 L468.91,920.51 L468.96,921.36 L469.08,922.68 L469.20,924.04 L469.25,924.88 L469.28,925.46 L469.36,926.52 L469.36,926.81 L469.26,926.37 L469.33,927.32 L469.49,928.93 L469.48,929.21 L469.47,929.41 L469.49,929.92 L469.46,930.05 L469.47,930.51 L469.57,931.78 L469.69,933.26 L469.75,934.25 L469.69,934.27 L469.63,934.25 L469.69,935.32 L469.82,936.89 L469.92,938.26 L469.95,939.11 L469.96,939.70 L470.00,940.60 L470.09,941.86 L470.15,942.91 L470.13,943.24 L470.14,943.78 L470.23,945.01 L470.26,945.67 L470.20,945.58 L470.21,946.04 L470.22,946.50 L470.27,947.19 L470.48,949.16 L470.59,950.36 L470.69,951.30 L470.87,952.88 L470.93,953.47 L470.97,953.79 L471.02,954.15 L470.97,953.61 L470.99,953.51 L471.16,954.65 L471.23,954.88 L471.24,954.49 L471.53,955.82 L471.85,957.43 L472.11,958.29 L472.31,958.41 L472.59,958.73 L472.97,959.26 L473.37,959.28 L473.97,959.59 L474.64,959.55 L475.31,958.87 L476.04,958.34 L476.73,957.55 L477.44,957.16 L478.20,957.39 L479.01,957.97 L479.79,958.32 L480.50,958.17 L481.20,957.98 L481.83,957.34 L482.31,956.76 L482.80,956.39 L483.25,955.77 L483.72,955.46 L484.18,955.02 L484.61,954.26 L485.05,953.54 L485.46,952.43 L485.90,951.33 L486.33,950.57 L486.89,950.84 L487.49,951.42 L487.99,951.03 L488.40,949.92 L488.77,948.29 L489.27,947.67 L489.91,948.17 L490.53,948.27 L491.03,947.25 L491.54,946.07 L492.19,946.03 L492.87,946.00 L493.55,945.73 L494.25,945.48 L494.87,944.52 L495.50,943.47 L496.22,943.07 L496.95,942.81 L497.72,942.84 L498.57,943.62 L499.35,943.88 L499.97,942.87 L500.55,941.89 L501.16,941.20 L501.83,940.93 L502.58,941.24 L503.27,941.15 L503.91,940.59 L504.58,940.31 L505.25,940.10 L505.89,939.72 L506.54,939.56 L507.19,939.46 L507.81,939.17 L508.38,938.75 L509.14,938.70 L509.85,938.63 L510.52,938.55 L511.20,938.69 L511.78,937.84 L512.41,937.06 L513.17,936.97 L513.95,936.40 L514.49,936.13 L515.13,936.37 L515.82,936.83 L516.44,936.59 L516.98,935.37 L517.69,935.43 L518.48,936.03 L519.17,935.65 L519.92,935.70 L520.66,935.56 L521.30,934.56 L522.07,934.52 L522.87,934.71 L523.52,933.69 L524.18,932.73 L524.97,932.97 L525.82,933.64 L526.64,934.24 L527.46,934.83 L528.09,934.09 L528.67,932.98 L529.44,933.42 L530.24,934.10 L530.92,933.85 L531.51,932.87 L532.15,932.25 L532.93,932.78 L533.71,933.36 L534.43,933.42 L535.14,933.41 L535.78,932.74 L536.35,931.55 L537.07,931.63 L537.83,932.06 L538.45,931.24 L539.11,930.88 L539.84,930.96 L540.51,930.65 L541.23,930.74 L542.06,931.68 L542.85,932.36 L543.45,931.49 L544.07,930.70 L544.82,931.06 L545.54,931.13 L546.16,930.46 L546.79,929.78 L547.50,929.77 L548.31,930.65 L549.11,931.45 L549.78,931.10 L550.44,930.71 L551.23,931.38 L551.92,931.22 L552.50,930.17 L553.16,929.75 L553.83,929.45 L554.54,929.44 L555.29,929.81 L555.96,929.49 L556.66,929.30 L557.46,929.73 L558.21,929.56 L558.93,929.07 L559.71,928.89 L560.55,929.23 L561.43,929.94 L562.20,929.68 L562.89,928.73 L563.69,928.90 L564.51,929.27 L565.26,929.20 L566.02,929.40 L566.70,929.19 L567.25,928.11 L567.80,927.37 L568.48,927.97 L569.10,928.45 L569.61,928.32 L570.07,928.25 L570.89,927.79 L571.55,927.45 L572.19,927.53 L572.80,926.99 L572.77,926.89 L572.85,927.62 L573.00,929.00 L573.04,929.44 L572.95,928.86 L573.05,929.79 L573.29,931.90 L573.48,933.63 L573.56,934.40 L573.48,933.87 L573.49,934.00 L573.61,935.16 L573.77,936.61 L573.94,938.13 L573.97,938.47 L573.95,938.42 L574.00,938.96 L574.03,939.36 L574.12,940.18 L574.24,941.34 L574.25,940.46 L574.26,939.69 L574.34,939.38 L574.35,938.51 L574.32,937.40 L574.31,936.37 L574.33,935.65 L574.44,935.59 L574.50,935.19 L574.57,934.83 L574.60,934.18 L574.52,932.56 L574.50,931.52 L574.60,931.36 L574.65,930.91 L574.68,930.18 L574.73,929.67 L574.69,928.43 L574.59,926.70 L574.57,925.62 L574.60,924.96 L574.70,924.79 L574.80,924.76 L574.88,924.45 L574.90,923.73 L574.94,923.15 L575.56,923.13 L576.03,922.14 L576.43,920.62 L577.00,920.21 L577.74,920.83 L578.51,920.95 L578.99,920.10 L579.55,919.58 L580.24,919.85 L580.93,919.94 L581.61,919.67 L582.32,919.40 L583.03,919.04 L583.74,918.65 L584.53,918.78 L585.33,919.03 L586.08,918.88 L586.83,918.86 L587.45,918.97 L587.93,917.96 L588.33,916.27 L588.89,915.77 L589.52,915.97 L590.18,916.29 L590.90,917.11 L591.58,917.56 L592.14,916.97 L592.65,915.86 L593.13,914.60 L593.67,913.70 L594.21,912.79 L594.77,911.97 L595.46,912.23 L596.14,912.33 L596.72,911.59 L597.27,910.52 L597.88,909.87 L598.57,909.99 L599.29,910.30 L599.98,910.27 L600.65,909.99 L601.38,910.08 L602.06,909.79 L602.70,909.02 L603.37,908.56 L604.06,908.21 L604.85,908.63 L605.65,909.13 L606.40,909.24 L607.19,909.72 L607.92,909.69 L608.59,909.23 L609.29,909.02 L610.03,909.18 L610.73,909.15 L611.35,908.41 L611.95,907.70 L612.73,908.07 L613.54,908.72 L614.19,908.08 L614.80,907.21 L615.45,906.65 L616.12,906.30 L616.89,906.81 L617.65,907.28 L618.31,906.92 L618.99,906.79 L619.75,907.29 L620.46,907.32 L621.12,906.98 L621.79,906.72 L622.48,906.65 L623.19,906.71 L623.83,906.14" fill="none" stroke="#ff0000" stroke-width="5.1" stroke-linecap="round" stroke-linejoin="round"/>
<path d="M441.17,900.17 L441.91,900.31 L442.60,899.99 L443.37,900.36 L444.28,901.80 L444.97,901.53 L445.54,900.18 L446.25,899.98 L447.01,900.21 L447.75,900.30 L448.49,900.41 L449.30,901.02 L450.12,901.85 L450.91,902.38 L451.58,902.01 L452.22,901.38 L452.93,901.34 L453.60,901.07 L454.27,900.78 L454.91,900.33 L455.63,900.18 L456.39,900.38 L457.09,900.06 L457.86,900.48 L458.67,901.22 L459.33,900.71 L459.94,899.89 L460.70,900.24 L461.53,901.26 L462.32,901.92 L462.95,901.32 L463.52,900.18 L464.23,900.18 L464.99,900.57 L465.67,900.27 L466.31,899.66 L466.48,899.33 L466.65,899.10 L466.72,897.95 L466.79,896.84 L466.94,896.41 L467.10,895.98 L467.20,896.09 L467.34,896.57 L467.56,897.74 L467.84,899.31 L467.97,900.83 L467.94,900.90 L467.89,900.91 L467.98,902.01 L468.04,902.96 L468.06,903.48 L468.09,904.13 L468.09,904.60 L468.04,904.57 L468.05,905.04 L468.12,905.98 L468.19,907.03 L468.36,908.86 L468.52,910.54 L468.52,911.00 L468.48,911.08 L468.46,911.25 L468.40,911.22 L468.43,911.83 L468.50,912.83 L468.52,913.43 L468.60,914.44 L468.69,915.63 L468.75,916.51 L468.77,917.10 L468.77,917.47 L468.73,917.52 L468.72,917.80 L468.84,919.22 L469.00,920.95 L469.11,922.20 L469.10,922.54 L469.00,922.07 L469.02,922.60 L469.13,923.88 L469.25,925.20 L469.37,926.60 L469.31,926.39 L469.19,925.75 L469.30,927.02 L469.40,928.19 L469.35,928.14 L469.36,928.55 L469.47,929.72 L469.59,931.12 L469.58,931.44 L469.50,931.18 L469.50,931.71 L469.52,932.37 L469.54,933.00 L469.74,935.15 L469.94,937.38 L469.91,937.69 L469.83,937.51 L469.84,938.15 L469.91,939.31 L469.93,939.99 L469.98,940.97 L470.12,942.62 L470.12,943.15 L470.12,943.61 L470.22,944.89 L470.25,945.62 L470.27,946.16 L470.34,947.14 L470.42,948.18 L470.44,948.61 L470.45,948.93 L470.51,949.62 L470.55,950.12 L470.66,951.15 L470.75,952.00 L470.70,951.55 L470.71,951.59 L470.84,952.46 L471.00,953.58 L471.11,954.23 L471.21,954.67 L471.45,956.23 L471.70,957.25 L471.80,956.99 L472.00,957.40 L472.29,958.23 L472.65,959.20 L473.05,959.93 L473.49,960.29 L474.11,960.76 L474.79,960.75 L475.44,959.95 L476.16,959.33 L476.89,958.85 L477.60,958.53 L478.32,958.43 L479.04,958.28 L479.74,957.92 L480.40,957.35 L481.08,957.00 L481.72,956.42 L482.19,955.73 L482.68,955.42 L483.18,955.24 L483.61,954.54 L484.02,953.63 L484.47,953.12 L484.92,952.47 L485.42,952.08 L486.02,952.38 L486.55,952.41 L486.97,951.48 L487.36,950.32 L487.87,950.08 L488.38,949.71 L488.83,948.80 L489.34,948.25 L489.81,947.30 L490.35,946.75 L490.98,946.82 L491.64,946.94 L492.33,947.18 L492.94,946.57 L493.57,945.92 L494.28,945.78 L494.94,945.05 L495.64,944.61 L496.48,945.26 L497.29,945.67 L497.94,944.73 L498.61,943.91 L499.37,944.00 L500.06,943.59 L500.73,943.41 L501.49,943.96 L502.12,943.30 L502.58,941.29 L503.23,940.79 L504.03,941.60 L504.69,941.26 L505.19,939.60 L505.75,938.55 L506.50,939.17 L507.11,938.77 L507.72,938.43 L508.41,938.96 L509.04,937.81 L509.69,937.33 L510.44,937.95 L511.13,938.11 L511.79,937.94 L512.41,937.13 L513.10,936.41 L513.88,935.80 L514.37,935.10 L515.06,935.82 L515.82,936.86 L516.40,936.24 L517.08,936.19 L517.88,937.01 L518.55,936.65 L519.19,935.90 L519.90,935.52 L520.57,934.79 L521.30,934.51 L522.12,934.94 L522.93,935.21 L523.69,935.08 L524.36,934.27 L525.07,933.74 L525.84,933.79 L526.55,933.50 L527.23,932.99 L527.94,932.80 L528.70,933.15 L529.48,933.77 L530.22,933.97 L530.79,932.79 L531.39,931.84 L532.24,932.94 L533.04,933.68 L533.61,932.49 L534.22,931.63 L534.86,931.05 L535.49,930.35 L536.27,930.92 L537.02,931.23 L537.71,931.03 L538.45,931.31 L539.10,930.74 L539.73,930.04 L540.51,930.66 L541.38,931.95 L542.18,932.74 L542.85,932.36 L543.43,931.34 L544.06,930.67 L544.80,930.87 L545.54,931.13 L546.21,930.85 L546.94,931.03 L547.65,931.01 L548.25,930.17 L548.95,930.06 L549.71,930.52 L550.41,930.47 L551.08,930.11 L551.76,929.91 L552.54,930.50 L553.36,931.46 L554.00,930.84 L554.54,929.48 L555.25,929.50 L556.01,929.87 L556.67,929.38 L557.36,928.85 L558.16,929.11 L558.96,929.27 L559.73,929.06 L560.46,928.52 L561.13,927.45 L561.95,927.53 L562.87,928.61 L563.70,928.94 L564.42,928.52 L565.15,928.28 L565.93,928.67 L566.70,929.17 L567.35,928.94 L567.90,928.16 L568.48,927.99 L569.11,928.47 L569.64,928.60 L570.07,928.25 L570.84,927.37 L571.48,926.85 L572.12,926.87 L572.80,927.02 L572.95,928.38 L572.96,928.58 L572.92,928.33 L573.10,929.93 L573.29,931.68 L573.31,931.99 L573.27,931.69 L573.32,932.27 L573.50,933.87 L573.60,934.82 L573.57,934.69 L573.52,934.38 L573.58,935.04 L573.72,936.31 L573.78,936.94 L573.86,937.73 L574.03,939.24 L574.08,939.73 L574.01,939.29 L574.13,940.43 L574.29,940.81 L574.28,939.84 L574.28,938.88 L574.30,938.14 L574.24,936.73 L574.25,935.84 L574.40,936.20 L574.55,936.52 L574.56,935.67 L574.53,934.54 L574.55,933.73 L574.49,932.33 L574.41,930.70 L574.44,930.05 L574.60,930.44 L574.71,930.46 L574.71,929.53 L574.68,928.37 L574.72,927.77 L574.79,927.47 L574.75,926.18 L574.74,925.18 L574.84,925.08 L574.86,924.33 L574.88,923.54 L574.95,923.19 L575.53,922.95 L576.08,922.56 L576.61,922.09 L577.11,921.14 L577.65,920.05 L578.37,919.78 L578.95,919.79 L579.55,919.63 L580.22,919.76 L580.86,919.35 L581.49,918.62 L582.22,918.62 L583.08,919.50 L583.95,920.39 L584.68,920.07 L585.33,919.01 L586.08,918.88 L586.88,919.31 L587.41,918.71 L587.92,917.85 L588.52,917.83 L589.15,917.98 L589.68,917.25 L590.19,916.34 L590.74,915.75 L591.25,914.80 L591.81,914.22 L592.36,913.47 L592.93,912.85 L593.71,914.05 L594.39,914.29 L594.85,912.64 L595.38,911.51 L595.99,911.07 L596.68,911.26 L597.40,911.56 L598.01,911.00 L598.56,909.96 L599.20,909.55 L599.90,909.61 L600.69,910.30 L601.48,910.92 L602.11,910.14 L602.73,909.27 L603.46,909.27 L604.30,910.20 L605.14,911.01 L605.84,910.72 L606.46,909.73 L607.09,908.90 L607.83,908.97 L608.59,909.22 L609.34,909.46 L610.06,909.48 L610.65,908.49 L611.24,907.51 L611.94,907.59 L612.71,907.88 L613.45,908.00 L614.20,908.21 L614.88,907.84 L615.47,906.83 L616.16,906.67 L616.94,907.29 L617.66,907.41 L618.34,907.15 L619.03,907.11 L619.77,907.45 L620.49,907.63 L621.15,907.29 L621.76,906.54 L622.31,905.24 L622.93,904.48 L623.67,904.81" fill="none" stroke="#ff0000" stroke-width="5.1" stroke-linecap="round" stroke-linejoin="round"/>
<path d="M667.56,900.07 L668.20,899.32 L669.00,899.89 L669.79,900.34 L670.48,900.01 L671.16,899.69 L671.92,899.96 L672.72,900.55 L673.44,900.48 L674.11,899.98 L674.81,899.78 L675.60,900.26 L676.38,900.61 L677.06,900.08 L677.70,899.30 L678.42,899.08 L679.19,899.23 L679.90,898.84 L680.59,898.87 L681.36,899.54 L681.98,898.93 L682.57,898.08 L683.39,899.06 L684.23,900.24 L684.85,899.51 L685.41,898.34 L686.15,898.58 L686.97,899.50 L687.71,899.74 L688.38,899.40 L689.08,899.26 L689.85,899.77 L690.61,900.20 L691.26,899.70 L691.85,898.69 L692.51,898.30 L693.33,899.23 L694.14,900.04 L694.81,899.63 L695.45,899.25 L695.80,900.18 L696.14,901.11 L696.38,901.20 L696.70,902.10 L697.08,903.57 L697.30,903.84 L697.37,902.92 L697.58,903.32 L697.96,905.32 L698.24,906.59 L698.40,906.99 L698.51,907.37 L698.67,908.29 L698.76,908.76 L698.77,908.67 L698.86,909.33 L698.94,910.02 L698.98,910.40 L699.03,910.98 L699.13,912.05 L699.27,913.44 L699.42,914.92 L699.52,916.09 L699.51,916.37 L699.53,916.88 L699.60,917.75 L699.68,918.77 L699.77,919.77 L699.77,920.11 L699.78,920.40 L699.83,920.99 L699.89,921.66 L700.00,922.70 L700.10,923.76 L700.13,924.30 L700.16,924.81 L700.23,925.76 L700.28,926.61 L700.33,927.33 L700.38,928.12 L700.42,928.80 L700.55,930.16 L700.68,931.46 L700.68,931.53 L700.65,931.32 L700.72,931.86 L700.90,933.09 L701.06,934.12 L701.18,934.61 L701.30,934.93 L701.60,936.24 L701.94,937.58 L702.15,937.64 L702.33,937.24 L702.60,937.47 L703.00,938.69 L703.41,939.98 L703.70,940.26 L703.91,939.95 L704.17,940.18 L704.72,939.69 L705.29,939.36 L705.91,939.38 L706.57,939.80 L707.19,939.85 L707.73,939.18 L708.20,938.03 L708.69,937.02 L709.31,937.16 L709.86,936.96 L710.31,936.10 L710.82,935.58 L711.38,935.36 L711.98,935.16 L712.48,933.69 L712.96,931.50 L713.52,931.37 L714.27,932.40 L714.94,932.45 L715.58,931.98 L716.19,931.07 L716.84,930.23 L717.59,930.20 L718.37,930.32 L719.10,929.93 L719.82,929.50 L720.60,929.65 L721.31,929.32 L721.91,928.19 L722.49,927.18 L723.13,926.85 L723.92,927.30 L724.65,927.43 L725.26,926.87 L725.89,926.57 L726.56,926.61 L727.23,926.69 L727.92,926.83 L728.60,926.75 L729.29,926.54 L729.98,926.00 L730.69,925.24 L731.30,925.31 L731.90,925.07 L732.43,924.19 L733.09,924.17 L733.82,924.64 L734.47,924.25 L735.08,923.50 L735.85,923.96 L736.70,924.98 L737.41,924.85 L738.11,924.48 L738.82,924.24 L739.48,923.45 L740.22,923.44 L741.02,923.80 L741.68,923.09 L742.37,922.67 L743.22,923.56 L743.93,923.35 L744.49,922.00 L745.19,921.86 L745.91,921.98 L746.59,921.71 L747.38,922.34 L748.19,923.23 L748.83,922.63 L749.45,921.83 L750.11,921.44 L750.79,921.13 L751.54,921.42 L752.35,922.25 L753.12,922.78 L753.82,922.66 L754.47,922.15 L755.08,921.29 L755.75,920.97 L756.42,920.61 L757.20,921.22 L758.08,922.64 L758.71,921.98 L759.28,920.83 L759.94,920.40 L760.60,920.04 L761.35,920.35 L762.12,920.90 L762.80,920.71 L763.48,920.51 L764.16,920.34 L764.83,920.02 L765.57,920.29 L766.31,920.61 L767.01,920.58 L767.69,920.39 L768.41,920.49 L769.17,920.97 L769.86,920.87 L770.52,920.52 L771.21,920.41 L771.86,919.99 L772.56,919.95 L773.31,920.32 L773.93,919.67 L774.51,918.62 L775.28,918.91 L776.16,920.02 L776.95,920.36 L777.71,920.35 L778.44,920.18 L779.11,919.46 L779.90,919.68 L780.73,920.27 L781.47,920.15 L782.24,920.30 L782.99,920.22 L783.68,919.81 L784.47,920.19 L785.23,920.44 L785.81,919.26 L786.38,918.04 L787.10,918.14 L787.84,918.52 L788.56,918.86 L789.27,919.23 L790.15,919.78 L791.04,920.64 L791.73,919.91 L792.33,918.56 L793.13,919.02 L793.98,919.96 L794.65,919.44 L795.29,918.76 L796.03,918.91 L796.80,919.29 L797.55,919.50 L798.22,918.95 L798.94,918.73 L799.26,919.42 L799.51,919.61 L799.86,920.53 L800.24,921.81 L800.54,922.33 L800.81,922.65 L801.18,923.80 L801.38,923.73 L801.47,922.81 L801.52,921.58 L801.54,920.14 L801.57,918.80 L801.70,918.31 L801.86,918.03 L801.98,917.43 L802.07,916.60 L802.17,915.69 L802.29,914.99 L802.44,914.52 L802.57,913.68 L802.73,913.14 L802.94,912.79 L803.09,911.95 L803.32,911.60 L803.74,911.67 L804.03,910.60 L804.19,908.36 L804.55,907.60 L805.07,908.10 L805.51,907.66 L805.89,906.54 L806.36,905.85 L806.96,906.04 L807.64,906.19 L808.17,904.87 L808.69,903.24 L809.35,902.59 L810.20,903.11 L811.11,903.93 L812.00,904.16 L812.94,904.43 L813.51,904.17 L814.07,903.65 L814.72,903.68 L815.39,903.79 L816.01,903.33 L816.59,902.39 L817.26,902.07 L818.02,902.33 L818.79,902.57 L819.51,902.27 L820.21,901.77 L821.07,902.45 L822.05,904.03 L822.86,904.07 L823.53,902.86 L824.32,902.60 L825.14,902.47 L825.97,902.32 L826.63,902.72 L827.31,903.18 L827.99,903.57 L828.59,903.17 L829.08,901.78 L829.65,900.98 L830.44,901.98 L831.22,902.76 L831.89,902.61 L832.64,902.99 L833.31,902.65 L833.90,901.69 L834.66,902.02 L835.48,902.85 L836.24,903.06 L836.94,902.81 L837.64,902.47 L838.35,902.26 L839.10,902.29 L839.83,902.18 L840.57,902.15 L841.36,902.53 L842.13,902.70 L842.87,902.62 L843.60,902.55 L844.37,902.70 L845.15,903.00 L845.91,903.23 L846.66,903.34 L847.38,903.18 L848.06,902.74 L848.75,902.45 L849.43,902.10 L850.07,901.51" fill="none" stroke="#008000" stroke-width="5.1" stroke-linecap="round" stroke-linejoin="round"/>
<path d="M667.62,900.59 L668.42,901.13 L669.11,900.80 L669.76,900.11 L670.52,900.37 L671.24,900.32 L671.89,899.72 L672.66,900.02 L673.45,900.55 L674.18,900.60 L674.82,899.86 L675.40,898.53 L676.17,898.88 L677.08,900.29 L677.85,900.50 L678.62,900.71 L679.38,900.80 L680.01,899.78 L680.65,899.44 L681.42,900.05 L682.11,900.08 L682.79,899.95 L683.52,900.16 L684.25,900.39 L684.89,899.85 L685.43,898.50 L686.11,898.23 L686.91,899.00 L687.68,899.52 L688.41,899.61 L689.08,899.27 L689.82,899.56 L690.65,900.53 L691.38,900.67 L692.05,900.30 L692.68,899.64 L693.28,898.77 L693.97,898.62 L694.71,898.84 L695.40,898.85 L695.70,899.34 L696.02,900.05 L696.31,900.60 L696.66,901.77 L696.97,902.68 L697.20,902.97 L697.47,903.73 L697.77,904.96 L698.03,905.92 L698.19,906.20 L698.28,906.00 L698.45,906.93 L698.71,908.68 L698.78,908.92 L698.76,908.60 L698.80,908.84 L698.90,909.70 L699.07,911.13 L699.12,911.75 L699.05,911.36 L699.11,912.10 L699.27,913.69 L699.34,914.58 L699.38,915.24 L699.40,915.78 L699.45,916.50 L699.61,918.18 L699.75,919.63 L699.74,919.86 L699.78,920.40 L699.91,921.68 L699.94,922.03 L699.90,921.88 L699.95,922.47 L700.04,923.50 L700.17,924.92 L700.26,926.01 L700.24,926.25 L700.27,926.88 L700.32,927.60 L700.32,927.92 L700.41,929.01 L700.59,930.68 L700.63,931.18 L700.62,931.11 L700.75,932.12 L700.93,933.39 L701.10,934.45 L701.29,935.52 L701.46,936.22 L701.60,936.25 L701.75,936.00 L701.96,936.07 L702.28,936.80 L702.70,938.32 L703.10,939.52 L703.43,940.14 L703.67,940.07 L703.89,939.85 L704.22,940.61 L704.83,940.58 L705.43,940.48 L706.05,940.57 L706.63,940.26 L707.05,938.67 L707.45,936.84 L707.95,935.94 L708.50,935.46 L709.08,935.23 L709.64,935.20 L710.20,935.16 L710.76,935.10 L711.35,935.12 L711.90,934.50 L712.45,933.51 L713.15,933.09 L713.69,932.74 L714.30,932.64 L714.91,932.24 L715.47,931.10 L716.20,931.14 L716.97,931.39 L717.63,930.54 L718.35,930.14 L719.10,929.93 L719.77,929.09 L720.44,928.36 L721.16,928.10 L721.93,928.40 L722.70,928.95 L723.37,928.92 L724.02,928.13 L724.64,927.39 L725.32,927.40 L726.02,927.62 L726.63,927.25 L727.22,926.68 L727.92,926.91 L728.68,927.48 L729.33,926.88 L729.89,925.22 L730.55,924.04 L731.18,924.31 L731.92,925.28 L732.59,925.52 L733.17,924.81 L733.81,924.53 L734.59,925.32 L735.32,925.51 L735.92,924.57 L736.62,924.32 L737.40,924.71 L738.15,924.80 L738.85,924.49 L739.53,923.87 L740.23,923.51 L740.94,923.17 L741.65,922.83 L742.39,922.82 L743.15,923.01 L743.90,923.12 L744.60,922.89 L745.27,922.54 L745.91,921.94 L746.64,922.10 L747.42,922.67 L748.14,922.73 L748.91,923.25 L749.54,922.56 L750.05,920.92 L750.76,920.90 L751.54,921.49 L752.27,921.63 L752.96,921.44 L753.69,921.57 L754.45,921.99 L755.16,921.96 L755.83,921.64 L756.46,920.96 L757.17,920.98 L757.95,921.56 L758.59,920.94 L759.21,920.25 L759.99,920.80 L760.76,921.32 L761.40,920.79 L762.07,920.48 L762.85,921.11 L763.58,921.30 L764.21,920.68 L764.86,920.25 L765.65,920.99 L766.46,921.82 L767.13,921.58 L767.80,921.31 L768.46,920.94 L769.06,920.04 L769.69,919.44 L770.45,919.92 L771.20,920.33 L771.87,920.05 L772.52,919.62 L773.15,919.01 L773.87,919.10 L774.64,919.71 L775.40,919.84 L776.14,919.86 L776.89,919.85 L777.61,919.55 L778.42,920.01 L779.24,920.52 L779.91,919.75 L780.61,919.30 L781.37,919.32 L782.08,918.93 L782.87,919.27 L783.74,920.29 L784.51,920.57 L785.29,920.97 L786.11,921.75 L786.78,921.35 L787.36,920.32 L787.99,919.79 L788.74,920.37 L789.43,920.60 L790.19,920.17 L790.97,920.01 L791.62,919.02 L792.30,918.36 L793.08,918.57 L793.83,918.75 L794.57,918.77 L795.25,918.45 L795.92,917.98 L796.60,917.63 L797.41,918.31 L798.23,918.97 L798.93,918.62 L799.26,919.47 L799.57,920.13 L799.77,919.78 L800.04,920.12 L800.44,921.53 L800.80,922.53 L801.06,922.77 L801.19,922.13 L801.35,921.77 L801.41,920.60 L801.50,919.79 L801.67,919.63 L801.79,919.05 L801.83,917.79 L801.97,917.32 L802.15,917.26 L802.23,916.21 L802.33,915.36 L802.44,914.52 L802.55,913.53 L802.71,912.98 L802.90,912.51 L803.03,911.38 L803.14,910.10 L803.53,909.93 L803.91,909.62 L804.21,908.50 L804.66,908.56 L805.23,909.38 L805.66,908.90 L806.00,907.43 L806.40,906.20 L806.93,905.78 L807.57,905.61 L808.13,904.60 L808.78,903.99 L809.52,903.99 L810.22,903.33 L811.05,903.38 L811.94,903.63 L812.74,902.81 L813.34,902.75 L814.02,903.21 L814.61,902.79 L815.19,902.16 L815.88,902.27 L816.68,903.11 L817.50,904.01 L818.17,903.61 L818.82,902.83 L819.61,903.15 L820.39,903.25 L821.11,902.73 L821.86,902.44 L822.62,902.03 L823.38,901.57 L824.27,902.14 L825.25,903.35 L826.18,904.14 L826.77,903.88 L827.29,903.04 L827.82,902.15 L828.37,901.36 L829.03,901.41 L829.77,902.01 L830.47,902.19 L831.08,901.58 L831.73,901.22 L832.49,901.75 L833.31,902.67 L834.04,902.83 L834.75,902.73 L835.54,903.29 L836.22,902.88 L836.87,902.22 L837.64,902.50 L838.42,902.85 L839.19,903.08 L839.99,903.55 L840.81,904.15 L841.49,903.61 L842.13,902.74 L842.91,903.03 L843.65,902.93 L844.29,902.05 L844.99,901.69 L845.68,901.28 L846.41,901.21 L847.26,902.21 L848.09,902.98 L848.82,903.05 L849.49,902.65 L850.19,902.51" fill="none" stroke="#008000" stroke-width="5.1" stroke-linecap="round" stroke-linejoin="round"/>
<line x1="183.7" y1="897.8" x2="858.1" y2="897.8" stroke="#000" stroke-width="5.8" stroke-linecap="round" stroke-dasharray="0 9.916"/>
<line x1="778.85" y1="782" x2="778.85" y2="832" stroke="#000" stroke-width="5.7" stroke-linecap="round"/>
<line x1="781" y1="840.65" x2="856.8" y2="840.65" stroke="#000" stroke-width="5.7" stroke-linecap="round"/>
<text transform="translate(793.50,793.40) scale(1,1.04)" font-size="26.95" fill="#000" xml:space="preserve">1 nA</text>
<text transform="translate(793.54,828.60) scale(1,1.04)" font-size="27.07" fill="#000" xml:space="preserve">80 ms</text>
<line x1="766.95" y1="949.8" x2="766.95" y2="1004.8" stroke="#000" stroke-width="5.9" stroke-linecap="round"/>
<line x1="775" y1="1013.45" x2="857" y2="1013.45" stroke="#000" stroke-width="5.6" stroke-linecap="round"/>
<text transform="translate(781.73,965.10) scale(1,1.04)" font-size="27.13" fill="#000" xml:space="preserve">700 pA</text>
<text transform="translate(782.04,1000.40) scale(1,1.04)" font-size="27.10" fill="#000" xml:space="preserve">80 ms</text>
<text transform="translate(810.96,69.50) scale(91.824,97.095)" font-size="1" fill="#000">B</text>
<text transform="translate(1071.19,42.65) scale(1,1.04)" font-size="30.60" fill="#000" xml:space="preserve">Vm (mV)</text>
<text transform="translate(897.47,96.60) scale(1,1.04)" font-size="30.80" fill="#000" xml:space="preserve">-50</text>
<text transform="translate(944.27,96.60) scale(1,1.04)" font-size="30.80" fill="#000" xml:space="preserve">-40</text>
<text transform="translate(990.67,96.60) scale(1,1.04)" font-size="30.80" fill="#000" xml:space="preserve">-30</text>
<text transform="translate(1037.27,96.60) scale(1,1.04)" font-size="30.80" fill="#000" xml:space="preserve">-20</text>
<text transform="translate(1083.87,96.60) scale(1,1.04)" font-size="30.80" fill="#000" xml:space="preserve">-10</text>
<text transform="translate(1144.06,96.60) scale(1,1.04)" font-size="30.80" fill="#000" xml:space="preserve">0</text>
<text transform="translate(1181.83,96.60) scale(1,1.04)" font-size="30.80" fill="#000" xml:space="preserve">10</text>
<text transform="translate(1228.77,96.60) scale(1,1.04)" font-size="30.80" fill="#000" xml:space="preserve">20</text>
<text transform="translate(1275.35,96.60) scale(1,1.04)" font-size="30.80" fill="#000" xml:space="preserve">30</text>
<text transform="translate(1322.07,96.60) scale(1,1.04)" font-size="30.80" fill="#000" xml:space="preserve">40</text>
<text transform="translate(1177.80,215.70) scale(1,1.04)" font-size="30.80" fill="#000" xml:space="preserve">-10</text>
<text transform="translate(1177.80,296.50) scale(1,1.04)" font-size="30.80" fill="#000" xml:space="preserve">-20</text>
<text transform="translate(1177.80,377.30) scale(1,1.04)" font-size="30.80" fill="#000" xml:space="preserve">-30</text>
<text transform="translate(1177.80,458.00) scale(1,1.04)" font-size="30.80" fill="#000" xml:space="preserve">-40</text>
<text transform="translate(1177.80,538.70) scale(1,1.04)" font-size="30.80" fill="#000" xml:space="preserve">-50</text>
<text transform="translate(1180.34,575.60) scale(1,1.04)" font-size="30.80" fill="#000" xml:space="preserve">I</text>
<text transform="translate(1189.39,586.20) scale(1,1.04)" font-size="29.40" fill="#000" xml:space="preserve">Ca</text>
<text transform="translate(1236.87,576.40) scale(1,1.04)" font-size="30.80" fill="#000" xml:space="preserve">(pA/pF)</text>
<line x1="919.7" y1="124.5" x2="1338.8" y2="124.5" stroke="#000" stroke-width="4" stroke-linecap="butt"/>
<line x1="919.7" y1="111.2" x2="919.7" y2="137.8" stroke="#000" stroke-width="4" stroke-linecap="butt"/>
<line x1="966.5" y1="111.2" x2="966.5" y2="137.8" stroke="#000" stroke-width="4" stroke-linecap="butt"/>
<line x1="1012.9" y1="111.2" x2="1012.9" y2="137.8" stroke="#000" stroke-width="4" stroke-linecap="butt"/>
<line x1="1059.5" y1="111.2" x2="1059.5" y2="137.8" stroke="#000" stroke-width="4" stroke-linecap="butt"/>
<line x1="1106.1" y1="111.2" x2="1106.1" y2="137.8" stroke="#000" stroke-width="4" stroke-linecap="butt"/>
<line x1="1152.6" y1="111.2" x2="1152.6" y2="137.8" stroke="#000" stroke-width="4" stroke-linecap="butt"/>
<line x1="1199.3" y1="111.2" x2="1199.3" y2="137.8" stroke="#000" stroke-width="4" stroke-linecap="butt"/>
<line x1="1245.8" y1="111.2" x2="1245.8" y2="137.8" stroke="#000" stroke-width="4" stroke-linecap="butt"/>
<line x1="1292.2" y1="111.2" x2="1292.2" y2="137.8" stroke="#000" stroke-width="4" stroke-linecap="butt"/>
<line x1="1338.8" y1="111.2" x2="1338.8" y2="137.8" stroke="#000" stroke-width="4" stroke-linecap="butt"/>
<line x1="1152.6" y1="124.5" x2="1152.6" y2="545" stroke="#000" stroke-width="4" stroke-linecap="round"/>
<line x1="1143.8" y1="205.1" x2="1161.4" y2="205.1" stroke="#000" stroke-width="4" stroke-linecap="round"/>
<line x1="1143.8" y1="285.9" x2="1161.4" y2="285.9" stroke="#000" stroke-width="4" stroke-linecap="round"/>
<line x1="1143.8" y1="366.7" x2="1161.4" y2="366.7" stroke="#000" stroke-width="4" stroke-linecap="round"/>
<line x1="1143.8" y1="447.4" x2="1161.4" y2="447.4" stroke="#000" stroke-width="4" stroke-linecap="round"/>
<line x1="1143.8" y1="528.1" x2="1161.4" y2="528.1" stroke="#000" stroke-width="4" stroke-linecap="round"/>
<line x1="1012.9" y1="133.8" x2="1012.9" y2="243.4" stroke="#000" stroke-width="4.2" stroke-linecap="butt"/>
<line x1="1007.0" y1="133.8" x2="1018.8" y2="133.8" stroke="#000" stroke-width="3.6" stroke-linecap="round"/>
<line x1="1007.0" y1="243.4" x2="1018.8" y2="243.4" stroke="#000" stroke-width="3.6" stroke-linecap="round"/>
<line x1="1059.4" y1="247" x2="1059.4" y2="329" stroke="#000" stroke-width="4.2" stroke-linecap="butt"/>
<line x1="1053.5" y1="247" x2="1065.3000000000002" y2="247" stroke="#000" stroke-width="3.6" stroke-linecap="round"/>
<line x1="1053.5" y1="329" x2="1065.3000000000002" y2="329" stroke="#000" stroke-width="3.6" stroke-linecap="round"/>
<line x1="1106.1" y1="407.6" x2="1106.1" y2="508.6" stroke="#000" stroke-width="4.2" stroke-linecap="butt"/>
<line x1="1100.1999999999998" y1="407.6" x2="1112.0" y2="407.6" stroke="#000" stroke-width="3.6" stroke-linecap="round"/>
<line x1="1100.1999999999998" y1="508.6" x2="1112.0" y2="508.6" stroke="#000" stroke-width="3.6" stroke-linecap="round"/>
<line x1="1152.6" y1="407.6" x2="1152.6" y2="531.6" stroke="#000" stroke-width="4.2" stroke-linecap="butt"/>
<line x1="1146.6999999999998" y1="407.6" x2="1158.5" y2="407.6" stroke="#000" stroke-width="3.6" stroke-linecap="round"/>
<line x1="1146.6999999999998" y1="531.6" x2="1158.5" y2="531.6" stroke="#000" stroke-width="3.6" stroke-linecap="round"/>
<line x1="1199.2" y1="354" x2="1199.2" y2="433.7" stroke="#000" stroke-width="4.2" stroke-linecap="butt"/>
<line x1="1193.3" y1="354" x2="1205.1000000000001" y2="354" stroke="#000" stroke-width="3.6" stroke-linecap="round"/>
<line x1="1193.3" y1="433.7" x2="1205.1000000000001" y2="433.7" stroke="#000" stroke-width="3.6" stroke-linecap="round"/>
<line x1="1245.5" y1="316.5" x2="1245.5" y2="382.8" stroke="#000" stroke-width="4.2" stroke-linecap="butt"/>
<line x1="1239.6" y1="316.5" x2="1251.4" y2="316.5" stroke="#000" stroke-width="3.6" stroke-linecap="round"/>
<line x1="1239.6" y1="382.8" x2="1251.4" y2="382.8" stroke="#000" stroke-width="3.6" stroke-linecap="round"/>
<line x1="1292" y1="273.6" x2="1292" y2="334" stroke="#000" stroke-width="4.2" stroke-linecap="butt"/>
<line x1="1286.1" y1="273.6" x2="1297.9" y2="273.6" stroke="#000" stroke-width="3.6" stroke-linecap="round"/>
<line x1="1286.1" y1="334" x2="1297.9" y2="334" stroke="#000" stroke-width="3.6" stroke-linecap="round"/>
<line x1="1338.8" y1="238" x2="1338.8" y2="299.6" stroke="#000" stroke-width="4.2" stroke-linecap="butt"/>
<line x1="1332.8999999999999" y1="238" x2="1344.7" y2="238" stroke="#000" stroke-width="3.6" stroke-linecap="round"/>
<line x1="1332.8999999999999" y1="299.6" x2="1344.7" y2="299.6" stroke="#000" stroke-width="3.6" stroke-linecap="round"/>
<path d="M919.70,133.00 C927.50,133.35 950.97,125.83 966.50,135.10 C982.03,144.37 997.42,163.20 1012.90,188.60 C1028.38,214.00 1043.87,242.63 1059.40,287.50 C1074.93,332.37 1098.32,429.42 1106.10,457.80 C1130.95,506.41 1145.62,474.56 1152.60,469.80" fill="none" stroke="#000" stroke-width="3.6"/>
<path d="M1152.60,469.80 L1199.20,394.40 L1245.50,349.80 L1292.00,303.80 L1338.80,268.40" fill="none" stroke="#000" stroke-width="3.6" stroke-linecap="round" stroke-linejoin="round"/>
<circle cx="919.7" cy="133" r="13.3" fill="#000"/>
<circle cx="966.5" cy="135.1" r="13.3" fill="#000"/>
<circle cx="1012.9" cy="188.6" r="13.3" fill="#000"/>
<circle cx="1059.4" cy="287.5" r="13.3" fill="#000"/>
<circle cx="1106.1" cy="457.8" r="13.3" fill="#000"/>
<circle cx="1152.6" cy="469.8" r="13.3" fill="#000"/>
<circle cx="1199.2" cy="394.4" r="13.3" fill="#000"/>
<circle cx="1245.5" cy="349.8" r="13.3" fill="#000"/>
<circle cx="1292" cy="303.8" r="13.3" fill="#000"/>
<circle cx="1338.8" cy="268.4" r="13.3" fill="#000"/>
<line x1="1013" y1="138.2" x2="1013" y2="173.8" stroke="#ff0000" stroke-width="3.2" stroke-linecap="butt"/>
<line x1="1008.2" y1="138.2" x2="1017.8" y2="138.2" stroke="#ff0000" stroke-width="3.2" stroke-linecap="round"/>
<line x1="1008.2" y1="173.8" x2="1017.8" y2="173.8" stroke="#ff0000" stroke-width="3.2" stroke-linecap="round"/>
<line x1="1059.3" y1="174.2" x2="1059.3" y2="264.2" stroke="#ff0000" stroke-width="3.2" stroke-linecap="butt"/>
<line x1="1054.5" y1="174.2" x2="1064.1" y2="174.2" stroke="#ff0000" stroke-width="3.2" stroke-linecap="round"/>
<line x1="1054.5" y1="264.2" x2="1064.1" y2="264.2" stroke="#ff0000" stroke-width="3.2" stroke-linecap="round"/>
<line x1="1106.1" y1="217.4" x2="1106.1" y2="284.5" stroke="#ff0000" stroke-width="3.2" stroke-linecap="butt"/>
<line x1="1101.3" y1="217.4" x2="1110.8999999999999" y2="217.4" stroke="#ff0000" stroke-width="3.2" stroke-linecap="round"/>
<line x1="1101.3" y1="284.5" x2="1110.8999999999999" y2="284.5" stroke="#ff0000" stroke-width="3.2" stroke-linecap="round"/>
<line x1="1152.5" y1="223.8" x2="1152.5" y2="283.2" stroke="#ff0000" stroke-width="3.2" stroke-linecap="butt"/>
<line x1="1147.7" y1="223.8" x2="1157.3" y2="223.8" stroke="#ff0000" stroke-width="3.2" stroke-linecap="round"/>
<line x1="1147.7" y1="283.2" x2="1157.3" y2="283.2" stroke="#ff0000" stroke-width="3.2" stroke-linecap="round"/>
<line x1="1199.3" y1="204" x2="1199.3" y2="253" stroke="#ff0000" stroke-width="3.2" stroke-linecap="butt"/>
<line x1="1194.5" y1="204" x2="1204.1" y2="204" stroke="#ff0000" stroke-width="3.2" stroke-linecap="round"/>
<line x1="1194.5" y1="253" x2="1204.1" y2="253" stroke="#ff0000" stroke-width="3.2" stroke-linecap="round"/>
<line x1="1245.5" y1="188" x2="1245.5" y2="229" stroke="#ff0000" stroke-width="3.2" stroke-linecap="butt"/>
<line x1="1240.7" y1="188" x2="1250.3" y2="188" stroke="#ff0000" stroke-width="3.2" stroke-linecap="round"/>
<line x1="1240.7" y1="229" x2="1250.3" y2="229" stroke="#ff0000" stroke-width="3.2" stroke-linecap="round"/>
<line x1="1292" y1="175" x2="1292" y2="207" stroke="#ff0000" stroke-width="3.2" stroke-linecap="butt"/>
<line x1="1287.2" y1="175" x2="1296.8" y2="175" stroke="#ff0000" stroke-width="3.2" stroke-linecap="round"/>
<line x1="1287.2" y1="207" x2="1296.8" y2="207" stroke="#ff0000" stroke-width="3.2" stroke-linecap="round"/>
<line x1="1338.8" y1="160" x2="1338.8" y2="186" stroke="#ff0000" stroke-width="3.2" stroke-linecap="butt"/>
<line x1="1334.0" y1="160" x2="1343.6" y2="160" stroke="#ff0000" stroke-width="3.2" stroke-linecap="round"/>
<line x1="1334.0" y1="186" x2="1343.6" y2="186" stroke="#ff0000" stroke-width="3.2" stroke-linecap="round"/>
<path d="M919.70,131.00 C927.52,131.17 951.05,127.80 966.60,132.00 C982.15,136.20 997.55,141.73 1013.00,156.20 C1028.45,170.67 1043.78,203.03 1059.30,218.80 C1074.82,234.57 1090.57,245.10 1106.10,250.80 C1121.63,256.50 1144.77,252.63 1152.50,253.00" fill="none" stroke="#ff0000" stroke-width="3.8"/>
<path d="M1152.50,253.00 L1199.30,228.10 L1245.50,209.00 L1292.00,191.00 L1338.80,173.00" fill="none" stroke="#ff0000" stroke-width="3.8" stroke-linecap="round" stroke-linejoin="round"/>
<circle cx="919.7" cy="131" r="13.3" fill="#ff0000"/>
<circle cx="966.6" cy="132" r="13.3" fill="#ff0000"/>
<circle cx="1013" cy="156.2" r="13.3" fill="#ff0000"/>
<circle cx="1059.3" cy="218.8" r="13.3" fill="#ff0000"/>
<circle cx="1106.1" cy="250.8" r="13.3" fill="#ff0000"/>
<circle cx="1152.5" cy="253" r="13.3" fill="#ff0000"/>
<circle cx="1199.3" cy="228.1" r="13.3" fill="#ff0000"/>
<circle cx="1245.5" cy="209" r="13.3" fill="#ff0000"/>
<circle cx="1292" cy="191" r="13.3" fill="#ff0000"/>
<circle cx="1338.8" cy="173" r="13.3" fill="#ff0000"/>
<g transform="translate(1029,293.3)" fill="#000"><path transform="rotate(0)" d="M-0.35,0 C-0.35,-2.44 -1.15,-3.53 -1.35,-4.75 A1.35,1.35 0 0 1 1.35,-4.75 C1.15,-3.53 0.35,-2.44 0.35,0 Z"/><path transform="rotate(60)" d="M-0.35,0 C-0.35,-2.44 -1.15,-3.53 -1.35,-4.75 A1.35,1.35 0 0 1 1.35,-4.75 C1.15,-3.53 0.35,-2.44 0.35,0 Z"/><path transform="rotate(120)" d="M-0.35,0 C-0.35,-2.44 -1.15,-3.53 -1.35,-4.75 A1.35,1.35 0 0 1 1.35,-4.75 C1.15,-3.53 0.35,-2.44 0.35,0 Z"/><path transform="rotate(180)" d="M-0.35,0 C-0.35,-2.44 -1.15,-3.53 -1.35,-4.75 A1.35,1.35 0 0 1 1.35,-4.75 C1.15,-3.53 0.35,-2.44 0.35,0 Z"/><path transform="rotate(240)" d="M-0.35,0 C-0.35,-2.44 -1.15,-3.53 -1.35,-4.75 A1.35,1.35 0 0 1 1.35,-4.75 C1.15,-3.53 0.35,-2.44 0.35,0 Z"/><path transform="rotate(300)" d="M-0.35,0 C-0.35,-2.44 -1.15,-3.53 -1.35,-4.75 A1.35,1.35 0 0 1 1.35,-4.75 C1.15,-3.53 0.35,-2.44 0.35,0 Z"/></g>
<g transform="translate(1055.3,462)" fill="#000"><path transform="rotate(0)" d="M-0.35,0 C-0.35,-2.44 -1.15,-3.53 -1.35,-4.75 A1.35,1.35 0 0 1 1.35,-4.75 C1.15,-3.53 0.35,-2.44 0.35,0 Z"/><path transform="rotate(60)" d="M-0.35,0 C-0.35,-2.44 -1.15,-3.53 -1.35,-4.75 A1.35,1.35 0 0 1 1.35,-4.75 C1.15,-3.53 0.35,-2.44 0.35,0 Z"/><path transform="rotate(120)" d="M-0.35,0 C-0.35,-2.44 -1.15,-3.53 -1.35,-4.75 A1.35,1.35 0 0 1 1.35,-4.75 C1.15,-3.53 0.35,-2.44 0.35,0 Z"/><path transform="rotate(180)" d="M-0.35,0 C-0.35,-2.44 -1.15,-3.53 -1.35,-4.75 A1.35,1.35 0 0 1 1.35,-4.75 C1.15,-3.53 0.35,-2.44 0.35,0 Z"/><path transform="rotate(240)" d="M-0.35,0 C-0.35,-2.44 -1.15,-3.53 -1.35,-4.75 A1.35,1.35 0 0 1 1.35,-4.75 C1.15,-3.53 0.35,-2.44 0.35,0 Z"/><path transform="rotate(300)" d="M-0.35,0 C-0.35,-2.44 -1.15,-3.53 -1.35,-4.75 A1.35,1.35 0 0 1 1.35,-4.75 C1.15,-3.53 0.35,-2.44 0.35,0 Z"/></g>
<g transform="translate(1070.2,462)" fill="#000"><path transform="rotate(0)" d="M-0.35,0 C-0.35,-2.44 -1.15,-3.53 -1.35,-4.75 A1.35,1.35 0 0 1 1.35,-4.75 C1.15,-3.53 0.35,-2.44 0.35,0 Z"/><path transform="rotate(60)" d="M-0.35,0 C-0.35,-2.44 -1.15,-3.53 -1.35,-4.75 A1.35,1.35 0 0 1 1.35,-4.75 C1.15,-3.53 0.35,-2.44 0.35,0 Z"/><path transform="rotate(120)" d="M-0.35,0 C-0.35,-2.44 -1.15,-3.53 -1.35,-4.75 A1.35,1.35 0 0 1 1.35,-4.75 C1.15,-3.53 0.35,-2.44 0.35,0 Z"/><path transform="rotate(180)" d="M-0.35,0 C-0.35,-2.44 -1.15,-3.53 -1.35,-4.75 A1.35,1.35 0 0 1 1.35,-4.75 C1.15,-3.53 0.35,-2.44 0.35,0 Z"/><path transform="rotate(240)" d="M-0.35,0 C-0.35,-2.44 -1.15,-3.53 -1.35,-4.75 A1.35,1.35 0 0 1 1.35,-4.75 C1.15,-3.53 0.35,-2.44 0.35,0 Z"/><path transform="rotate(300)" d="M-0.35,0 C-0.35,-2.44 -1.15,-3.53 -1.35,-4.75 A1.35,1.35 0 0 1 1.35,-4.75 C1.15,-3.53 0.35,-2.44 0.35,0 Z"/></g>
<g transform="translate(1180.1,494.4)" fill="#000"><path transform="rotate(0)" d="M-0.35,0 C-0.35,-2.44 -1.15,-3.53 -1.35,-4.75 A1.35,1.35 0 0 1 1.35,-4.75 C1.15,-3.53 0.35,-2.44 0.35,0 Z"/><path transform="rotate(60)" d="M-0.35,0 C-0.35,-2.44 -1.15,-3.53 -1.35,-4.75 A1.35,1.35 0 0 1 1.35,-4.75 C1.15,-3.53 0.35,-2.44 0.35,0 Z"/><path transform="rotate(120)" d="M-0.35,0 C-0.35,-2.44 -1.15,-3.53 -1.35,-4.75 A1.35,1.35 0 0 1 1.35,-4.75 C1.15,-3.53 0.35,-2.44 0.35,0 Z"/><path transform="rotate(180)" d="M-0.35,0 C-0.35,-2.44 -1.15,-3.53 -1.35,-4.75 A1.35,1.35 0 0 1 1.35,-4.75 C1.15,-3.53 0.35,-2.44 0.35,0 Z"/><path transform="rotate(240)" d="M-0.35,0 C-0.35,-2.44 -1.15,-3.53 -1.35,-4.75 A1.35,1.35 0 0 1 1.35,-4.75 C1.15,-3.53 0.35,-2.44 0.35,0 Z"/><path transform="rotate(300)" d="M-0.35,0 C-0.35,-2.44 -1.15,-3.53 -1.35,-4.75 A1.35,1.35 0 0 1 1.35,-4.75 C1.15,-3.53 0.35,-2.44 0.35,0 Z"/></g>
<g transform="translate(1195.0,494.4)" fill="#000"><path transform="rotate(0)" d="M-0.35,0 C-0.35,-2.44 -1.15,-3.53 -1.35,-4.75 A1.35,1.35 0 0 1 1.35,-4.75 C1.15,-3.53 0.35,-2.44 0.35,0 Z"/><path transform="rotate(60)" d="M-0.35,0 C-0.35,-2.44 -1.15,-3.53 -1.35,-4.75 A1.35,1.35 0 0 1 1.35,-4.75 C1.15,-3.53 0.35,-2.44 0.35,0 Z"/><path transform="rotate(120)" d="M-0.35,0 C-0.35,-2.44 -1.15,-3.53 -1.35,-4.75 A1.35,1.35 0 0 1 1.35,-4.75 C1.15,-3.53 0.35,-2.44 0.35,0 Z"/><path transform="rotate(180)" d="M-0.35,0 C-0.35,-2.44 -1.15,-3.53 -1.35,-4.75 A1.35,1.35 0 0 1 1.35,-4.75 C1.15,-3.53 0.35,-2.44 0.35,0 Z"/><path transform="rotate(240)" d="M-0.35,0 C-0.35,-2.44 -1.15,-3.53 -1.35,-4.75 A1.35,1.35 0 0 1 1.35,-4.75 C1.15,-3.53 0.35,-2.44 0.35,0 Z"/><path transform="rotate(300)" d="M-0.35,0 C-0.35,-2.44 -1.15,-3.53 -1.35,-4.75 A1.35,1.35 0 0 1 1.35,-4.75 C1.15,-3.53 0.35,-2.44 0.35,0 Z"/></g>
<g transform="translate(1223.5,415.7)" fill="#000"><path transform="rotate(0)" d="M-0.35,0 C-0.35,-2.44 -1.15,-3.53 -1.35,-4.75 A1.35,1.35 0 0 1 1.35,-4.75 C1.15,-3.53 0.35,-2.44 0.35,0 Z"/><path transform="rotate(60)" d="M-0.35,0 C-0.35,-2.44 -1.15,-3.53 -1.35,-4.75 A1.35,1.35 0 0 1 1.35,-4.75 C1.15,-3.53 0.35,-2.44 0.35,0 Z"/><path transform="rotate(120)" d="M-0.35,0 C-0.35,-2.44 -1.15,-3.53 -1.35,-4.75 A1.35,1.35 0 0 1 1.35,-4.75 C1.15,-3.53 0.35,-2.44 0.35,0 Z"/><path transform="rotate(180)" d="M-0.35,0 C-0.35,-2.44 -1.15,-3.53 -1.35,-4.75 A1.35,1.35 0 0 1 1.35,-4.75 C1.15,-3.53 0.35,-2.44 0.35,0 Z"/><path transform="rotate(240)" d="M-0.35,0 C-0.35,-2.44 -1.15,-3.53 -1.35,-4.75 A1.35,1.35 0 0 1 1.35,-4.75 C1.15,-3.53 0.35,-2.44 0.35,0 Z"/><path transform="rotate(300)" d="M-0.35,0 C-0.35,-2.44 -1.15,-3.53 -1.35,-4.75 A1.35,1.35 0 0 1 1.35,-4.75 C1.15,-3.53 0.35,-2.44 0.35,0 Z"/></g>
<g transform="translate(1238.4,415.7)" fill="#000"><path transform="rotate(0)" d="M-0.35,0 C-0.35,-2.44 -1.15,-3.53 -1.35,-4.75 A1.35,1.35 0 0 1 1.35,-4.75 C1.15,-3.53 0.35,-2.44 0.35,0 Z"/><path transform="rotate(60)" d="M-0.35,0 C-0.35,-2.44 -1.15,-3.53 -1.35,-4.75 A1.35,1.35 0 0 1 1.35,-4.75 C1.15,-3.53 0.35,-2.44 0.35,0 Z"/><path transform="rotate(120)" d="M-0.35,0 C-0.35,-2.44 -1.15,-3.53 -1.35,-4.75 A1.35,1.35 0 0 1 1.35,-4.75 C1.15,-3.53 0.35,-2.44 0.35,0 Z"/><path transform="rotate(180)" d="M-0.35,0 C-0.35,-2.44 -1.15,-3.53 -1.35,-4.75 A1.35,1.35 0 0 1 1.35,-4.75 C1.15,-3.53 0.35,-2.44 0.35,0 Z"/><path transform="rotate(240)" d="M-0.35,0 C-0.35,-2.44 -1.15,-3.53 -1.35,-4.75 A1.35,1.35 0 0 1 1.35,-4.75 C1.15,-3.53 0.35,-2.44 0.35,0 Z"/><path transform="rotate(300)" d="M-0.35,0 C-0.35,-2.44 -1.15,-3.53 -1.35,-4.75 A1.35,1.35 0 0 1 1.35,-4.75 C1.15,-3.53 0.35,-2.44 0.35,0 Z"/></g>
<g transform="translate(1276.1,371.3)" fill="#000"><path transform="rotate(0)" d="M-0.35,0 C-0.35,-2.44 -1.15,-3.53 -1.35,-4.75 A1.35,1.35 0 0 1 1.35,-4.75 C1.15,-3.53 0.35,-2.44 0.35,0 Z"/><path transform="rotate(60)" d="M-0.35,0 C-0.35,-2.44 -1.15,-3.53 -1.35,-4.75 A1.35,1.35 0 0 1 1.35,-4.75 C1.15,-3.53 0.35,-2.44 0.35,0 Z"/><path transform="rotate(120)" d="M-0.35,0 C-0.35,-2.44 -1.15,-3.53 -1.35,-4.75 A1.35,1.35 0 0 1 1.35,-4.75 C1.15,-3.53 0.35,-2.44 0.35,0 Z"/><path transform="rotate(180)" d="M-0.35,0 C-0.35,-2.44 -1.15,-3.53 -1.35,-4.75 A1.35,1.35 0 0 1 1.35,-4.75 C1.15,-3.53 0.35,-2.44 0.35,0 Z"/><path transform="rotate(240)" d="M-0.35,0 C-0.35,-2.44 -1.15,-3.53 -1.35,-4.75 A1.35,1.35 0 0 1 1.35,-4.75 C1.15,-3.53 0.35,-2.44 0.35,0 Z"/><path transform="rotate(300)" d="M-0.35,0 C-0.35,-2.44 -1.15,-3.53 -1.35,-4.75 A1.35,1.35 0 0 1 1.35,-4.75 C1.15,-3.53 0.35,-2.44 0.35,0 Z"/></g>
<g transform="translate(1291.0,371.3)" fill="#000"><path transform="rotate(0)" d="M-0.35,0 C-0.35,-2.44 -1.15,-3.53 -1.35,-4.75 A1.35,1.35 0 0 1 1.35,-4.75 C1.15,-3.53 0.35,-2.44 0.35,0 Z"/><path transform="rotate(60)" d="M-0.35,0 C-0.35,-2.44 -1.15,-3.53 -1.35,-4.75 A1.35,1.35 0 0 1 1.35,-4.75 C1.15,-3.53 0.35,-2.44 0.35,0 Z"/><path transform="rotate(120)" d="M-0.35,0 C-0.35,-2.44 -1.15,-3.53 -1.35,-4.75 A1.35,1.35 0 0 1 1.35,-4.75 C1.15,-3.53 0.35,-2.44 0.35,0 Z"/><path transform="rotate(180)" d="M-0.35,0 C-0.35,-2.44 -1.15,-3.53 -1.35,-4.75 A1.35,1.35 0 0 1 1.35,-4.75 C1.15,-3.53 0.35,-2.44 0.35,0 Z"/><path transform="rotate(240)" d="M-0.35,0 C-0.35,-2.44 -1.15,-3.53 -1.35,-4.75 A1.35,1.35 0 0 1 1.35,-4.75 C1.15,-3.53 0.35,-2.44 0.35,0 Z"/><path transform="rotate(300)" d="M-0.35,0 C-0.35,-2.44 -1.15,-3.53 -1.35,-4.75 A1.35,1.35 0 0 1 1.35,-4.75 C1.15,-3.53 0.35,-2.44 0.35,0 Z"/></g>
<g transform="translate(1311.1,323.8)" fill="#000"><path transform="rotate(0)" d="M-0.35,0 C-0.35,-2.44 -1.15,-3.53 -1.35,-4.75 A1.35,1.35 0 0 1 1.35,-4.75 C1.15,-3.53 0.35,-2.44 0.35,0 Z"/><path transform="rotate(60)" d="M-0.35,0 C-0.35,-2.44 -1.15,-3.53 -1.35,-4.75 A1.35,1.35 0 0 1 1.35,-4.75 C1.15,-3.53 0.35,-2.44 0.35,0 Z"/><path transform="rotate(120)" d="M-0.35,0 C-0.35,-2.44 -1.15,-3.53 -1.35,-4.75 A1.35,1.35 0 0 1 1.35,-4.75 C1.15,-3.53 0.35,-2.44 0.35,0 Z"/><path transform="rotate(180)" d="M-0.35,0 C-0.35,-2.44 -1.15,-3.53 -1.35,-4.75 A1.35,1.35 0 0 1 1.35,-4.75 C1.15,-3.53 0.35,-2.44 0.35,0 Z"/><path transform="rotate(240)" d="M-0.35,0 C-0.35,-2.44 -1.15,-3.53 -1.35,-4.75 A1.35,1.35 0 0 1 1.35,-4.75 C1.15,-3.53 0.35,-2.44 0.35,0 Z"/><path transform="rotate(300)" d="M-0.35,0 C-0.35,-2.44 -1.15,-3.53 -1.35,-4.75 A1.35,1.35 0 0 1 1.35,-4.75 C1.15,-3.53 0.35,-2.44 0.35,0 Z"/></g>
<g transform="translate(1326.0,323.8)" fill="#000"><path transform="rotate(0)" d="M-0.35,0 C-0.35,-2.44 -1.15,-3.53 -1.35,-4.75 A1.35,1.35 0 0 1 1.35,-4.75 C1.15,-3.53 0.35,-2.44 0.35,0 Z"/><path transform="rotate(60)" d="M-0.35,0 C-0.35,-2.44 -1.15,-3.53 -1.35,-4.75 A1.35,1.35 0 0 1 1.35,-4.75 C1.15,-3.53 0.35,-2.44 0.35,0 Z"/><path transform="rotate(120)" d="M-0.35,0 C-0.35,-2.44 -1.15,-3.53 -1.35,-4.75 A1.35,1.35 0 0 1 1.35,-4.75 C1.15,-3.53 0.35,-2.44 0.35,0 Z"/><path transform="rotate(180)" d="M-0.35,0 C-0.35,-2.44 -1.15,-3.53 -1.35,-4.75 A1.35,1.35 0 0 1 1.35,-4.75 C1.15,-3.53 0.35,-2.44 0.35,0 Z"/><path transform="rotate(240)" d="M-0.35,0 C-0.35,-2.44 -1.15,-3.53 -1.35,-4.75 A1.35,1.35 0 0 1 1.35,-4.75 C1.15,-3.53 0.35,-2.44 0.35,0 Z"/><path transform="rotate(300)" d="M-0.35,0 C-0.35,-2.44 -1.15,-3.53 -1.35,-4.75 A1.35,1.35 0 0 1 1.35,-4.75 C1.15,-3.53 0.35,-2.44 0.35,0 Z"/></g>
<g transform="translate(1366.3,269)" fill="#000"><path transform="rotate(0)" d="M-0.35,0 C-0.35,-2.44 -1.15,-3.53 -1.35,-4.75 A1.35,1.35 0 0 1 1.35,-4.75 C1.15,-3.53 0.35,-2.44 0.35,0 Z"/><path transform="rotate(60)" d="M-0.35,0 C-0.35,-2.44 -1.15,-3.53 -1.35,-4.75 A1.35,1.35 0 0 1 1.35,-4.75 C1.15,-3.53 0.35,-2.44 0.35,0 Z"/><path transform="rotate(120)" d="M-0.35,0 C-0.35,-2.44 -1.15,-3.53 -1.35,-4.75 A1.35,1.35 0 0 1 1.35,-4.75 C1.15,-3.53 0.35,-2.44 0.35,0 Z"/><path transform="rotate(180)" d="M-0.35,0 C-0.35,-2.44 -1.15,-3.53 -1.35,-4.75 A1.35,1.35 0 0 1 1.35,-4.75 C1.15,-3.53 0.35,-2.44 0.35,0 Z"/><path transform="rotate(240)" d="M-0.35,0 C-0.35,-2.44 -1.15,-3.53 -1.35,-4.75 A1.35,1.35 0 0 1 1.35,-4.75 C1.15,-3.53 0.35,-2.44 0.35,0 Z"/><path transform="rotate(300)" d="M-0.35,0 C-0.35,-2.44 -1.15,-3.53 -1.35,-4.75 A1.35,1.35 0 0 1 1.35,-4.75 C1.15,-3.53 0.35,-2.44 0.35,0 Z"/></g>
<g transform="translate(1381.2,269)" fill="#000"><path transform="rotate(0)" d="M-0.35,0 C-0.35,-2.44 -1.15,-3.53 -1.35,-4.75 A1.35,1.35 0 0 1 1.35,-4.75 C1.15,-3.53 0.35,-2.44 0.35,0 Z"/><path transform="rotate(60)" d="M-0.35,0 C-0.35,-2.44 -1.15,-3.53 -1.35,-4.75 A1.35,1.35 0 0 1 1.35,-4.75 C1.15,-3.53 0.35,-2.44 0.35,0 Z"/><path transform="rotate(120)" d="M-0.35,0 C-0.35,-2.44 -1.15,-3.53 -1.35,-4.75 A1.35,1.35 0 0 1 1.35,-4.75 C1.15,-3.53 0.35,-2.44 0.35,0 Z"/><path transform="rotate(180)" d="M-0.35,0 C-0.35,-2.44 -1.15,-3.53 -1.35,-4.75 A1.35,1.35 0 0 1 1.35,-4.75 C1.15,-3.53 0.35,-2.44 0.35,0 Z"/><path transform="rotate(240)" d="M-0.35,0 C-0.35,-2.44 -1.15,-3.53 -1.35,-4.75 A1.35,1.35 0 0 1 1.35,-4.75 C1.15,-3.53 0.35,-2.44 0.35,0 Z"/><path transform="rotate(300)" d="M-0.35,0 C-0.35,-2.44 -1.15,-3.53 -1.35,-4.75 A1.35,1.35 0 0 1 1.35,-4.75 C1.15,-3.53 0.35,-2.44 0.35,0 Z"/></g>
<rect x="1419.2" y="34.3" width="60.5" height="567.6" fill="none" stroke="#c4c4c4" stroke-width="1.3"/>
<line x1="1448.7" y1="46.7" x2="1448.7" y2="110" stroke="#000" stroke-width="3.4" stroke-linecap="butt"/>
<circle cx="1448.7" cy="78.3" r="13.6" fill="#000"/>
<text transform="translate(1438.80,124.83) rotate(90) scale(1,1.04)" font-size="26.90" fill="#000" xml:space="preserve">SB+TTX+TEA-Cl</text>
<line x1="1448.6" y1="334.5" x2="1448.6" y2="397" stroke="#ff0000" stroke-width="3.4" stroke-linecap="butt"/>
<circle cx="1448.6" cy="365.7" r="13.6" fill="#ff0000"/>
<text transform="translate(1438.80,410.77) rotate(90) scale(1,1.04)" font-size="27.00" fill="#000" xml:space="preserve">+ TSA [Acute]</text>
<text transform="translate(953.70,626.80) scale(91.149,97.095)" font-size="1" fill="#000">D</text>
<text transform="translate(982.00,1054.35) rotate(-90) scale(1,1.04)" font-size="30.90" fill="#000" xml:space="preserve">TSA reduction of I<tspan dy="14">Ca</tspan><tspan dy="-14"> (%)</tspan></text>
<line x1="1080.1" y1="727.5" x2="1080.1" y2="1007.2" stroke="#000" stroke-width="4.3" stroke-linecap="butt"/>
<line x1="1068" y1="727.5" x2="1092.5" y2="727.5" stroke="#000" stroke-width="4.3" stroke-linecap="round"/>
<text transform="translate(1019.40,738.50) scale(1,1.04)" font-size="30.90" fill="#000" xml:space="preserve">60</text>
<line x1="1068" y1="820.6" x2="1092.5" y2="820.6" stroke="#000" stroke-width="4.3" stroke-linecap="round"/>
<text transform="translate(1019.40,831.60) scale(1,1.04)" font-size="30.90" fill="#000" xml:space="preserve">40</text>
<line x1="1068" y1="913.9" x2="1092.5" y2="913.9" stroke="#000" stroke-width="4.3" stroke-linecap="round"/>
<text transform="translate(1019.40,924.90) scale(1,1.04)" font-size="30.90" fill="#000" xml:space="preserve">20</text>
<line x1="1068" y1="1007.2" x2="1092.5" y2="1007.2" stroke="#000" stroke-width="4.3" stroke-linecap="round"/>
<text transform="translate(1036.58,1018.20) scale(1,1.04)" font-size="30.90" fill="#000" xml:space="preserve">0</text>
<defs><clipPath id="hb"><rect x="1155.7" y="921.2" width="75.7" height="86"/></clipPath></defs>
<g clip-path="url(#hb)" stroke="#ff0000" stroke-width="4.1"><line x1="1025.60" y1="1012" x2="1125.60" y2="912" /><line x1="1046.50" y1="1012" x2="1146.50" y2="912" /><line x1="1067.40" y1="1012" x2="1167.40" y2="912" /><line x1="1088.30" y1="1012" x2="1188.30" y2="912" /><line x1="1109.20" y1="1012" x2="1209.20" y2="912" /><line x1="1130.10" y1="1012" x2="1230.10" y2="912" /><line x1="1151.00" y1="1012" x2="1251.00" y2="912" /><line x1="1171.90" y1="1012" x2="1271.90" y2="912" /><line x1="1192.80" y1="1012" x2="1292.80" y2="912" /><line x1="1213.70" y1="1012" x2="1313.70" y2="912" /><line x1="1234.60" y1="1012" x2="1334.60" y2="912" /><line x1="1255.50" y1="1012" x2="1355.50" y2="912" /><line x1="1276.40" y1="1012" x2="1376.40" y2="912" /><line x1="1297.30" y1="1012" x2="1397.30" y2="912" /></g>
<rect x="1155.7" y="921.2" width="75.7" height="85" fill="none" stroke="#ff0000" stroke-width="4.7" stroke-linejoin="round"/>
<line x1="1193.7" y1="921.2" x2="1193.7" y2="908.1" stroke="#ff0000" stroke-width="4.3" stroke-linecap="butt"/>
<line x1="1185.9" y1="908.1" x2="1201.3" y2="908.1" stroke="#ff0000" stroke-width="4.8" stroke-linecap="round"/>
<g transform="translate(1189.9,874.1)" fill="#000"><path transform="rotate(0)" d="M-0.35,0 C-0.35,-4.32 -1.91,-6.53 -2.25,-8.55 A2.25,2.25 0 0 1 2.25,-8.55 C1.91,-6.53 0.35,-4.32 0.35,0 Z"/><path transform="rotate(60)" d="M-0.35,0 C-0.35,-4.32 -1.91,-6.53 -2.25,-8.55 A2.25,2.25 0 0 1 2.25,-8.55 C1.91,-6.53 0.35,-4.32 0.35,0 Z"/><path transform="rotate(120)" d="M-0.35,0 C-0.35,-4.32 -1.91,-6.53 -2.25,-8.55 A2.25,2.25 0 0 1 2.25,-8.55 C1.91,-6.53 0.35,-4.32 0.35,0 Z"/><path transform="rotate(180)" d="M-0.35,0 C-0.35,-4.32 -1.91,-6.53 -2.25,-8.55 A2.25,2.25 0 0 1 2.25,-8.55 C1.91,-6.53 0.35,-4.32 0.35,0 Z"/><path transform="rotate(240)" d="M-0.35,0 C-0.35,-4.32 -1.91,-6.53 -2.25,-8.55 A2.25,2.25 0 0 1 2.25,-8.55 C1.91,-6.53 0.35,-4.32 0.35,0 Z"/><path transform="rotate(300)" d="M-0.35,0 C-0.35,-4.32 -1.91,-6.53 -2.25,-8.55 A2.25,2.25 0 0 1 2.25,-8.55 C1.91,-6.53 0.35,-4.32 0.35,0 Z"/></g>
<rect x="1305.4" y="783.4" width="78.8" height="223.8" fill="#ff0000" stroke="#ff0000" stroke-width="2" stroke-linejoin="round"/>
<line x1="1345" y1="782.4" x2="1345" y2="743.4" stroke="#ff0000" stroke-width="4.5" stroke-linecap="butt"/>
<line x1="1337.1" y1="743.4" x2="1352.8" y2="743.4" stroke="#ff0000" stroke-width="4.6" stroke-linecap="round"/>
<g transform="translate(1344.3,722.9)" fill="#000"><path transform="rotate(0)" d="M-0.35,0 C-0.35,-4.36 -1.87,-6.72 -2.20,-8.70 A2.2,2.2 0 0 1 2.20,-8.70 C1.87,-6.72 0.35,-4.36 0.35,0 Z"/><path transform="rotate(60)" d="M-0.35,0 C-0.35,-4.36 -1.87,-6.72 -2.20,-8.70 A2.2,2.2 0 0 1 2.20,-8.70 C1.87,-6.72 0.35,-4.36 0.35,0 Z"/><path transform="rotate(120)" d="M-0.35,0 C-0.35,-4.36 -1.87,-6.72 -2.20,-8.70 A2.2,2.2 0 0 1 2.20,-8.70 C1.87,-6.72 0.35,-4.36 0.35,0 Z"/><path transform="rotate(180)" d="M-0.35,0 C-0.35,-4.36 -1.87,-6.72 -2.20,-8.70 A2.2,2.2 0 0 1 2.20,-8.70 C1.87,-6.72 0.35,-4.36 0.35,0 Z"/><path transform="rotate(240)" d="M-0.35,0 C-0.35,-4.36 -1.87,-6.72 -2.20,-8.70 A2.2,2.2 0 0 1 2.20,-8.70 C1.87,-6.72 0.35,-4.36 0.35,0 Z"/><path transform="rotate(300)" d="M-0.35,0 C-0.35,-4.36 -1.87,-6.72 -2.20,-8.70 A2.2,2.2 0 0 1 2.20,-8.70 C1.87,-6.72 0.35,-4.36 0.35,0 Z"/></g>
<line x1="1068" y1="1007.4" x2="1458" y2="1007.4" stroke="#000" stroke-width="4.6" stroke-linecap="round"/>
<line x1="1129" y1="693" x2="1388" y2="693" stroke="#000" stroke-width="7.2" stroke-linecap="butt"/>
<line x1="1129" y1="680.7" x2="1129" y2="706.2" stroke="#000" stroke-width="6.8" stroke-linecap="round"/>
<line x1="1388" y1="680.7" x2="1388" y2="706.2" stroke="#000" stroke-width="6.8" stroke-linecap="round"/>
<text transform="translate(1197.32,678.00) scale(1,1.057)" font-size="38.60" fill="#000" xml:space="preserve"><tspan font-style="italic">P</tspan>&lt;0.05</text>
<text transform="translate(1142.76,1055.30) scale(1,1.04)" font-size="30.50" fill="#000" xml:space="preserve">N-type</text>
<text transform="translate(1158.92,1096.50) scale(1,1.04)" font-size="30.20" fill="#000" xml:space="preserve">only</text>
<text transform="translate(1295.65,1070.10) scale(1,1.04)" font-size="30.70" fill="#000" xml:space="preserve">N+P/Q-type</text>
<text transform="translate(1260.66,1112.50) scale(1,1.04)" font-size="30.50" fill="#000" xml:space="preserve">&amp; P/Q-type  only</text>
</svg>
</body></html>
